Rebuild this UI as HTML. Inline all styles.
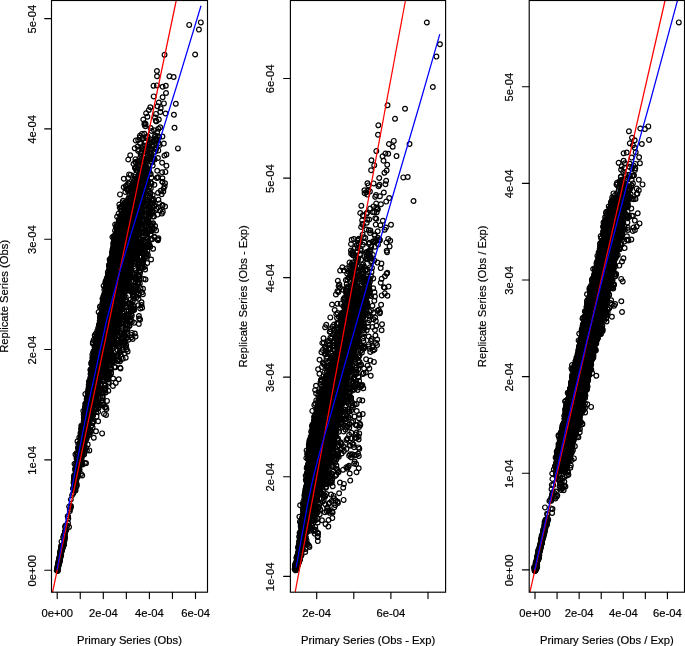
<!DOCTYPE html>
<html lang="en"><head><meta charset="utf-8"><title>Replicate vs Primary Series</title>
<style>html,body{margin:0;padding:0;background:#fff}body{width:685px;height:646px;overflow:hidden}svg{display:block}text{font-family:"Liberation Sans",Arial,Helvetica,sans-serif;font-size:11.8px;fill:#000;stroke:#000;stroke-width:0.2px}.ax{stroke:#000;stroke-width:1.15;fill:none;stroke-linecap:round}.pt{fill:none;stroke:none;marker-start:url(#c);marker-mid:url(#c);marker-end:url(#c)}.o{fill:none;stroke:#000;stroke-width:1.2}.r{stroke:#f00;stroke-width:1.25;fill:none}.b{stroke:#00f;stroke-width:1.25;fill:none}</style></head><body>
<svg width="685" height="646" viewBox="0 0 685 646">
<defs><marker id="c" markerUnits="userSpaceOnUse" markerWidth="8" markerHeight="8" refX="4" refY="4" viewBox="0 0 8 8"><circle cx="4" cy="4" r="2.38" fill="none" stroke="#000" stroke-width="1.2"/></marker>
<clipPath id="kp1"><rect x="51.5" y="0.5" width="156" height="591.7"/></clipPath>
<clipPath id="kp2"><rect x="290.4" y="0.5" width="155.2" height="591.7"/></clipPath>
<clipPath id="kp3"><rect x="529.2" y="0.5" width="155.3" height="591.7"/></clipPath>
</defs>
<rect width="685" height="646" fill="#fff"/>
<g id="p1">
<g clip-path="url(#kp1)">
<polyline class="pt" points="130.2,236.4 120,248.5 69.8,511.1 128.7,226 92.6,375 123.9,222.1 85.9,431 138.7,199.1 112.9,282 95,384.9 113.1,247.2 84.8,416.6 117.5,304.5 107.7,307.5 132.5,203.5 101.3,313.6 61.1,545.9 91.8,378.2 91.8,391.6 94.4,358.8 112.5,275.2 120.5,216.6 122.9,226.1 119.2,236.5 116.5,306.6 116.6,289.5 87,423.6 99,329.3 121.2,283.3 147.8,137.3 87.8,423.6 119.9,236 58.1,564.4 118.9,302.4 98,382 122.4,271.2 102.3,306.1 132,202.8 93.5,401.1 93.4,382.1 108.7,298.9 116.8,272.4 117.8,279.9 162.4,205 94.4,373 125.6,247.1 121,285 125.8,244.4 123.4,240.2 58.4,564.8 137.4,197.5 107.6,294.4 115.9,291.3 134.1,309.6 127.3,254.5 119.3,269.5 135.9,205.1 124.6,278.5 108.1,350.4 93.6,400.7 112.4,313.8 107.1,349.1 112.1,255.1 138.4,227 141.2,249.7 119.5,269.9 131,319.7 126.1,221.7 150.1,159.4 101.9,325.3 93.4,404.4 104,302.4 122.1,234.8 85.2,435.5 142.4,193.4 117.5,233.6 116.8,241.9 139.2,262.4 119.4,233.2 87,428.7 118.8,343.6 95,366.4 119.8,295.3 80.4,458.8 97.2,339.3 96.7,350.1 120.5,238 139.7,237.4 113.6,250.7 114.8,260.6 145.8,189.3 136.1,231.2 94,357.7 104.5,330.7 112,262.9 103.9,336.7 125.2,214.4 107.1,305.8 105.5,359.3 96.9,351.8 128.2,159.5 111.6,281.9 110.3,339.1 147.3,160.7 79.3,448.8 62.7,546 134.8,235.9 135.9,235 94.8,391.5 116.6,256.5 104.4,365.1 111.7,342.2 141,201.2 64.6,536.8 92.9,372.3 85.5,432.4 59,561.7 118.9,226.5 126.4,208.2 124.4,224.7 118.4,259.5 100.5,371.4 87.9,418.6 92.8,371.2 79.5,454.7 99.5,354.7 110.3,285.4 128.4,228.8 139.1,205.8 129.7,222.4 138.4,263.7 135.9,167.8 102.1,367 131.2,288.4 130.4,205.4 104.6,314.5 110.6,351.3 115.7,243 114.8,293.6 109.2,306.3 149,230.4 116.4,263.6 140.5,209.2 134.5,268.8 115.6,263.8 133,226.4 121.5,270.9 57.5,566 92.1,383 104.6,327.6 85.7,408.6 82.5,451.2 113.6,248.4 88.4,388.5 123.7,222.7 106.2,324 152.8,141.6 95.8,370.8 86.4,410.5 121.5,245.8 102.2,346.6 106.9,316.9 139.2,271 90.9,373.6 125,252.7 139.8,175.4 146.8,168.4 111.2,316.2 130.2,250.9 120.9,295.3 85,430.5 105.2,389.5 63.9,543.7 125.1,262 90.2,417.6 92.2,397.8 104.1,307.9 95.4,342.6 129.9,289.6 88.7,384.8 105.7,358.3 130.1,245.1 119.2,284.1 112.3,313.8 114,267.3 123.6,275.2 110,327.7 120.3,278.8 96.3,364.2 121.9,258.2 103.7,318.5 156.4,121.3 126.4,268.1 125.2,255.6 121.6,227.5 139.9,222.9 107.3,338.2 104.5,364.9 116.6,286 120.1,237.4 121.8,280.6 92.8,343.7 125.6,251.1 119.6,268.4 108.7,316.4 115.9,242.3 122.9,270.2 120.2,320.5 142.3,212 114.5,275.2 110.3,279.6 113.3,278.4 59.1,561 93.6,351.1 59.5,560.1 111.2,326.5 144.8,151.3 127.7,238.6 146.4,173.8 156.7,208.8 128.8,237.4 124.6,282.5 101.4,359.3 105.4,294.3 124.2,296.6 125.3,288.5 64.5,534.1 78.4,456.6 137.2,187.9 119.5,253 99.9,339.4 105.1,336.4 103.3,329.3 107.8,272.1 105.1,385.3 107.8,306.9 103.6,323.4 73.3,493.3 125.3,234.5 117.8,273.3 134.8,333.5 127.2,250.8 110.9,311.6 136.1,195.7 107.1,379.8 138.4,166.4 135.6,215.7 116.1,243.6 120.6,223.1 67.7,516.2 101.4,362.5 130.2,258.3 133.7,308.4 100.2,306.3 125.3,211.5 90.7,380.8 143.4,197.6 141.7,172.2 146.6,253.7 138.8,213.2 100,317.8 117,300.1 102.8,309.2 110.3,308.8 116.9,233.3 107.8,292.6 130.7,223.9 137.9,282.4 86.6,427.6 102.3,393 91.9,409.2 138.7,178.1 141.9,233.1 98.8,367.2 95.6,363 122.5,278.3 136.3,222.9 111.3,333.9 113.5,261.7 123.8,256.1 133.1,276.2 133.2,235.4 136,279.9 147.3,175.1 123.9,286.4 101.5,351.1 98.7,381 112.7,299.1 108.2,324.1 94.9,355.6 163.3,191.6 120.2,367.7 142.9,181.7 137.5,252.8 81.2,436.9 99.9,368.3 72.1,495.1 119.9,278.2 119.5,293 125.9,277.2 82.5,445.5 112.8,280.1 137.4,224.4 146.9,181.4 93.8,437.8 114.3,279.6 109.9,334.4 109.6,286.7 134.5,274.2 107.3,331.3 130.8,247.7 97.6,374.8 162.3,182 112.2,264.6 115.4,248.4 84.7,415.2 120.7,295.8 129.8,274.5 102.2,345.7 109,274.5 102,364.9 132.8,252 95.4,382.1 120.5,266.8 60.7,549.6 112.9,295 86.3,407.1 124.7,285.7 125.7,264.9 99.8,373.5 93.4,403.6 131.5,219.6 94.1,386.2 88.1,427.2 100.6,356.7 144.4,172.3 94.2,392 127.5,259 129.5,211.2 77.8,457.6 132,260.1 133.6,201.6 137.1,217.5 103.2,351.4 109,287.2 140.3,191.2 88.5,412.5 138.6,169.3 105.7,344.8 61.8,550.1 113.7,330.3 60.7,551.9 118.5,277.2 110,260.2 135.1,237 136.3,219.1 122.5,218.6 137.9,230.1 140.5,180 104.4,323.9 133.2,232.4 119.9,243.3 141.8,172.8 128,208.4 130.2,320.8 90,396.2 99.5,335.5 93.5,380 118.1,271.7 121.6,244.2 116.2,268 106.2,326.9 120.6,231 121.6,287.7 86.9,432.4 122.5,212.9 112.9,286.4 149.7,213.8 123.2,277.8 130.7,277.1 148.3,217.5 113.9,300.8 129.1,229.5 132.5,249.4 149.7,174.2 125.7,246.3 138.2,229.5 145.1,179.2 120.9,225.5 131.2,253.2 106.1,370.7 100,352.7 126.7,244.1 110.7,294.6 113.6,265.1 104.2,304.9 93.7,398.3 122.5,235 104.4,353.6 99.9,377"/>
<polyline class="pt" points="95.7,366.6 86,418 124,268.8 105.9,328.9 134.4,189.3 107.4,310.2 92.5,365.5 142.9,145.9 110.5,338.3 147.3,233.2 149.1,191.3 139.6,207.1 115.3,292.5 123.1,268.9 126.8,208.5 104.7,335.6 148.9,145 157.7,239.3 90.1,414.4 134.9,234.7 117.4,226.6 107.8,301.1 103,315 97.2,351.8 121,241.1 119.7,278.6 123.9,257.1 97.5,378.5 149.5,144.3 91.6,383.5 128.4,266.3 123.3,277.9 131.4,252.4 109.8,267.8 136.1,213.3 129.3,207.4 90.3,378 121,296.5 105.5,281.4 138,212.9 60.7,553.7 131.9,217.3 62.4,547.3 107,341.3 127.3,283.9 113.7,361.1 109.5,350.3 60.3,556.2 111.4,292.3 125.8,208.6 140.9,212.1 130.8,246.4 102.3,347.6 137.5,235.8 112,252.5 117.9,229.8 116.9,280.3 90.4,407 101.6,333.4 98,342 87.2,398.7 114.8,253.4 108.4,313.9 118.6,304.1 126.3,207.8 127.6,351.5 117.6,318.1 63.1,537.1 117.5,350.4 119.9,261.6 123.8,220.2 135.7,230.2 123.3,252.2 123.3,294.7 113,289.4 123.1,321.9 141.9,158.9 87,415.9 119.4,269.3 157.2,170.7 126.8,238.9 127.9,233 82.6,430.8 92.1,362.7 137.4,246 96.8,361.8 80.9,461.6 102.7,315 110,283.1 85.5,439.9 109.1,266.2 137,227.7 77.1,476.9 142.2,209 117.6,312.7 133.3,235.3 121.8,270.9 130.8,223.7 137.5,223.3 112.7,269 89,385.2 99,380.6 103.6,336.2 93,376.4 104,325.9 114.8,279.5 106.1,280.6 118.3,293.2 109.8,365.3 101.6,323.4 118.1,242.3 96.7,346.2 133.3,186 108.1,333.2 74.4,489 108.9,273.6 125.4,261.8 133.7,223 117.2,247.7 124.9,203.1 100.9,364 110.7,273.5 131.9,227.8 121.6,258.9 113.2,308.2 81.5,456.7 126,219.5 91.1,412.7 137.9,229.1 137,204.6 80.9,437.6 111.2,303.8 94.8,335.3 119.5,253.6 109.8,281.2 118.9,307.4 121.2,267 117.3,297.3 132.1,188.5 126.4,251 129.7,271.2 99.7,344.8 104,349.2 60.7,554.2 98.4,332.1 126.2,230.2 146.6,209.9 120.7,255.5 96.1,356 83.3,410.9 104.2,362.7 96.4,409.3 139.5,279.4 84.6,443.4 114,279.9 95.9,350.9 108.3,296.9 129.9,204.4 132.7,247.7 126.1,234 118,243 112.6,326 119.5,257.4 109.6,308.4 81.7,444.7 105.6,299.2 109.2,289.2 103.1,307.6 102.9,340.2 114.8,272 122.7,286.8 103.6,333.2 131.8,220.4 133.3,199.3 106.2,352.5 107.3,314.4 146.4,218 115.8,251.1 137.9,224.7 111.4,280.8 145.9,226.1 116.7,304.3 117.4,230.4 122.7,202.4 88.1,407.4 98.8,391.4 126.8,258.3 104.3,350.9 95.1,380.1 128.2,251.3 97.6,372.3 135.4,213 105.3,326.5 128.3,267.1 117.3,282.2 102.8,311.5 81.3,429.1 88.8,386.5 139.8,164.8 108.3,349.7 130.9,243.3 122.8,347.6 80.1,445.1 107.7,296.9 106,284.7 132.4,200.3 118.4,285.5 116.5,317.8 122.5,259.1 109.9,341.7 126.6,315.8 119.3,316.4 116.4,257.7 130.5,247 114.8,290.5 100.2,364.7 74.5,476.7 102,339 131,245.2 126.6,263.6 138.4,250.9 98.2,374.4 130.1,220.5 87.9,395.5 119.9,295.2 102.8,341.7 138.3,192.9 113.8,258.8 74.9,489.2 102,367.8 165,183.2 126.7,332.1 139.7,196.7 130.8,269.4 134,220.1 109.3,276.2 117.9,324.2 87,424.9 102.6,364.2 97,350.8 106.5,360.8 113.9,296.4 125.2,260.9 138.3,235.1 142.3,148 109.1,281.8 79.9,454.8 108.5,337.7 133.1,254.4 164.4,155.6 102.9,308.4 84.9,406.9 122.6,280.2 107.1,280.9 129.7,271.2 113.3,244.6 148.4,169.1 146.3,186.1 79.5,460.6 79.9,451.8 59.6,556.7 114.4,282.5 147.8,229.5 132.4,259.3 116.1,260.8 120,307.2 122.8,266.3 111.7,261.3 117.2,233.2 121.8,257.7 115.7,283.7 105.4,360.5 105.4,358.6 127,188.9 99.5,378.8 131.4,334.9 90.5,385.1 132.7,209.5 133.7,236.2 149.1,152.7 134.5,246 98.8,366.3 107.6,339.9 135.2,231.5 117.1,216.7 158.4,199.8 141.1,180.9 117.5,274.3 113.1,314.8 116.9,230.7 122.6,237.6 83.9,427.9 152.1,239.2 111.5,330.4 129.2,207.4 126,221.4 137.6,192 115.7,287.6 147.6,199.6 137.5,178.2 132.1,199.2 139.2,200.7 112.5,320.1 123.2,304.3 91.9,402.2 122.4,286.7 100.7,325.2 128.7,189.6 104.2,350.6 113.9,360.1 162.1,172.2 100.7,376.8 127.7,241.6 90.3,400.3 128.5,205.8 136.4,197 109.7,295.6 111.1,302.3 79.8,456.3 77.8,466.4 112.7,291.6 57.9,567.1 137.9,197.9 144.4,193.7 123.5,224.9 85,438.4 106.6,304.3 61.8,549.8 115.7,269.3 126.4,268.4 113.1,261 78,466.8 119.2,253.7 122.3,283.8 99.2,348.5 93.8,405.4 125.8,325.1 115.9,319.4 123,266 132.6,227.7 122.6,216.2 119.4,272.3 131.5,250.1 133.5,235.6 132.7,254.7 134.4,228.4 120.3,240.8 138.9,195.7 97.3,353.8 116.6,238.4 123.4,287 123.6,218.5 113.6,263.6 124.6,344.1 151.1,213.1 103.3,342.7 103.8,295.5 106.2,299.9 134.4,194.8 114.1,329.6 77.1,462.7 135.9,243 117.8,305.9 120.8,271.5 105.8,345.5 155,151.8 124.4,277.6 128.9,241.4 118.3,260.4 114.2,286.7 122.4,228.7 126.4,246.7 125.5,229.2 126.6,281 91.2,410.2 132,218.2 107.9,356.7 109.5,306.6 110.1,309.9 77.6,454.4 133.5,187.7 119.6,256.4 60.1,557.7 133.2,205.1 115.2,268 119.6,289.2 140,220 90.3,379.6 128.4,339.7 138,231.9 106.7,317.5 102.7,298.7 90.6,377.2 99.6,362 125.7,258.7 128.7,239.9 60.4,553.4 127.8,275 125.4,316.8 142.7,178.7"/>
<polyline class="pt" points="118.1,246.3 124.3,319.5 102.6,364.6 129.9,206.9 60.3,556 116.6,286.3 56.7,570.5 125.7,229.1 100.9,317.5 141.7,240.5 118,246.8 109.8,308.9 126.8,268.1 135.7,236.4 106.6,350.2 114.5,280.9 62.6,546.4 127.6,225 131.1,265.1 99.5,323.8 104.9,311.9 118.7,263.8 96.9,350 57.6,569.5 105,366 133.7,236.9 87,431 107.2,287.6 124.7,243.2 143.2,138.2 93.2,389.3 100.2,316.5 94.1,364.4 145.1,175 114.4,248 126.3,250.3 128.8,314.6 145.5,182.9 128,208.6 124.9,214.4 143.4,201.8 137.9,189.6 124.2,238.4 120.1,311.1 135.6,221.1 82.5,437 98.1,421.2 124.6,279.2 124.5,342.9 127.4,279.1 141.5,305 121.1,236.8 136.6,218.1 127.8,267.9 117.5,286.5 86.1,419.5 118,248.5 119.2,288.7 120.2,232.8 129.9,215 134.9,226.2 121.7,233.3 143.4,181 131.5,224.5 86,408.8 89.2,399 102.5,318.7 122.9,231.8 94.2,395.2 117.1,256.4 134.7,242.4 126.9,240.9 120.6,354.8 111.2,335.7 113.7,255.3 127.4,271.4 126.8,221.5 131.4,270.1 82.1,436.5 101.2,375.4 101.8,307.4 110,311.3 107.6,322.1 77.7,472 131.3,215.3 120,289.9 139.5,221.7 124.1,266.8 132,290.2 126.4,223.3 128.2,239.4 78.3,444 125.2,225.1 125.6,263.1 110.9,351 82.5,438.1 122.6,259.7 150.4,139.4 108.6,299.3 103.7,392.9 154.3,205.8 133.5,208.7 119.9,295.5 114.5,257.1 140.1,143.5 138.5,193.3 94.3,376.6 57.7,567.8 127.2,257.2 125.2,271.1 114.3,331.3 123.8,274.9 103.2,316.4 152.1,206.3 103.5,335.8 95.8,333.5 119.7,265.5 119.4,227.7 130,255.4 97.2,364.5 111.6,333 142,176.8 97.5,360.9 122.2,256.6 113.3,318.5 99.4,357.3 142.8,184.5 98.7,352.2 120.6,288.9 104.9,360.2 120.3,228.7 87.4,407.6 115.8,233.6 81.7,455.6 80.3,443.1 133.9,210 91.5,392.7 141.5,249.3 121.5,268.2 94,357.6 122.7,262.1 122.4,228.4 91.7,415.1 120.9,234.1 123.1,313.6 127.3,319.2 106.6,317.3 93.1,369.5 131.8,244.5 115.5,320.9 113,278.9 109.9,323 114.7,328.3 86.1,418.7 76.7,469.8 103.7,317.1 134,221 113,335.2 109.7,347.3 109.7,333.6 120.3,251.7 92.9,366 121.7,267.8 130.1,242.5 99.3,346.6 113.3,269.8 143.5,162.9 100,325.9 107.4,323.3 122.4,258.8 92.6,406.1 88.2,420.1 65,527 115.9,272.7 112.9,280.6 109.1,354.1 129.2,207.6 93.6,358.1 136.8,194.2 157.5,214.6 140.1,211.4 135.5,217.4 128,213.9 130.2,278.1 96.8,381.1 131.3,259.4 78,465.1 75.4,483.9 142.5,253.2 121.1,262.9 113.6,298.2 129.3,252.7 115.7,288.4 102.7,400.2 103.1,308.3 140.9,201.9 109.2,322 131.4,240.9 121.8,290.9 93,375.8 151.6,130.9 98.8,357.7 119.5,346 139.5,216.7 134.8,232 126.8,251.9 141.7,172.9 140.7,244 124.9,255.5 107.3,304.4 148.1,203 124.3,269.8 96.6,342.2 121.2,221.8 92.4,402 166.4,165.8 91.9,369.6 135.6,235.7 133.6,243.3 123,342.2 111.2,301.2 60.9,551.2 124.2,212.5 101.3,345.2 122.4,230.2 89.3,411.1 132.6,338.9 121.1,282.6 124.2,227.4 159.2,137.2 133.8,192.7 106.5,337.3 113.1,378.5 84.5,422.5 99.8,396.8 123.7,289.6 118.4,288.2 136.2,216.7 137.6,146.5 104.6,327.2 114,293.2 141.4,204.8 140.8,195.4 124.6,277.7 88.3,428.4 80.2,442 115.2,310.3 88,392.2 91.4,425.6 153.1,223.2 78.2,447.9 101.3,363.7 118.8,249.4 137.8,264.8 123.1,341.6 120.8,295.9 141,198.4 86.8,412.8 119.3,272.4 127.2,282.8 128.9,289.7 109.6,348 105.3,365.7 59.2,558.8 89.9,403.2 122.7,264.9 120.7,231.1 99.6,340.9 86.3,438 101.9,317.8 116.3,315.4 76.9,466.2 114.7,344 121,323.7 136.5,186.7 119.2,255.9 144.5,123.3 94.5,400.4 127.8,243 122.1,283.3 131.8,256 141,267.5 116,300.6 128.6,253.2 99.9,347.5 123.1,237.4 121.8,287.3 76.2,487 127.6,225.9 106,311.7 112.5,358.7 108,361.3 105.3,283.2 120,254.2 66.6,528.9 103.8,314.1 85.5,407.8 103.6,306.5 105,308.1 82,442.8 131.5,292.2 104.3,338.6 94.8,353 99.1,374.1 131.3,205.1 119,331.7 120.9,273.9 137.7,230.8 107.8,332.1 151.5,200.1 105.9,372.7 94.4,394.1 136.8,246.5 107.2,322.7 138.6,247.4 110.6,322.5 152,162.3 134.6,210.9 111.3,257 141.1,192.4 111.1,285.4 134,217.6 120.7,259.3 106.2,306.1 135.7,140.5 114.4,301.8 116.4,260.3 90.3,407.3 124.4,216.2 117.3,245 99.3,349.9 125,274.1 88.2,412 99.9,306.8 116.5,275.4 123.2,266.2 133.5,204.8 127.6,224.3 110.5,367.9 92.6,392.9 104.5,293.3 136.8,200.1 130.2,308.7 108.6,352.7 131.8,221.7 58.3,563 132.1,232.3 93,362.2 138.2,305.2 127.3,324.5 155.1,226 100,364.3 106.9,357.3 87.9,408.9 138.5,298.8 117.5,312 126.7,226.6 110,276.2 134.5,187.4 108.4,383.6 85.2,433.1 111.9,325.9 94.4,370.7 127.3,210.8 136.3,255.7 126.6,285.4 122.6,262.3 117.3,297.4 120.9,225.9 122.3,249.6 107.9,293.2 84.4,426.1 85.4,420.6 112.1,330.6 109.3,316.6 92,407.9 79.9,464.5 124.6,236.9 112.2,300.4 125.8,240.4 108.9,341.5 90.1,395.8 134.3,194 124.8,274.8 126.4,275.4 93.7,371.4 123,257.4 133,244.9 98,332.4 114,300 85,410.4 128.3,246.1 101.4,372.6 85.2,441.1 99.3,375 125.2,285.1 109.3,347.3 136.5,230.4 101.3,353.9 135.6,285.7"/>
<polyline class="pt" points="94.6,360.5 89.7,403.5 92.1,385.5 77.7,467.8 60.1,556.4 106.8,294.3 95.9,352.8 94.2,364.2 118.3,310.5 112.5,329.5 107.9,274.9 140.3,257.6 97.5,363.5 126.9,254.7 116.7,308 150.7,173.9 130.6,222.3 113.8,304.2 99.5,339.9 112.6,283.5 124.7,263.5 94.2,401.3 133.8,196.4 120,361.3 114.5,307.4 107.7,319.1 150,196.7 132.7,215 124.4,274.2 103.7,331 120.4,240.8 139.5,210.9 124.6,243.7 119.7,259.8 111.4,259.8 130.4,250 122.9,238.9 112.6,250.8 112.2,316.2 85.6,436.1 126.3,252.3 113.4,279.1 107.8,356.3 121,333.4 144.6,254 125.4,283.7 140.6,154 109.5,360.1 68,523 80.2,442.2 120.4,244.1 92,402.9 93.9,364.9 128.5,238.6 118.2,294.7 105,346.8 108.7,277.1 138.8,202.1 103.2,324.6 126.4,269.4 105,376.9 80.4,443 113.4,325.1 77.7,465.3 109.3,281.6 131.5,262.7 119.9,282.7 105.2,345.5 108.4,318.4 92.8,395.1 111.7,295.1 122.1,250 142.3,263 115.9,291.6 108.5,303.8 108.5,298.3 120,234.6 99.1,336.2 119.3,204.5 68.3,518.5 89.7,430 86.4,420.8 136.7,255.2 105.8,303.6 92.1,391.7 125.8,215.9 123.5,277.8 95.9,337.6 86.7,403.9 131.3,198.2 102.5,332.7 145.6,124 107,315.8 95.3,339.4 96.1,373.8 124.3,261.6 79.7,450.4 118.5,308.6 129.6,263.9 110.8,296.5 115,249.9 86,429.8 61.7,547.3 77.3,470.4 124.4,234.9 141.9,202.7 94.5,389.6 104.9,317.6 99.9,360.6 125.4,218.9 121.1,307.7 121.8,265.2 110.7,292.4 146.1,237.2 122.2,247.9 155.3,139.6 120.2,342 126.4,291.1 145,174.5 82.9,440.2 104.5,302.9 111.2,306.1 115.9,314.1 137.2,219.1 98,412.1 81.4,440.9 111.4,326.9 90.1,409.4 108.9,355.1 129.5,225.3 102.5,333.1 83.3,432.9 112.3,339.9 77.7,458.2 100.8,354.3 98.6,407.8 102,374.2 122.5,260 102.6,359.4 91.7,363.1 114.5,328 126.3,275.4 123.2,256.1 86.3,438.3 129.1,174.4 148.7,245.6 110.6,269.5 131.2,237.2 130.5,244.4 118.8,260.4 104.1,350.3 107.9,275.7 130.1,270.4 129.7,234.6 100.3,335.5 98,386.9 114.6,313.8 123.8,239.1 97.9,360.1 120.4,281.4 99,333 141.9,207.3 112.9,250.4 104.3,325.9 141.6,199.1 144.3,181.6 133.9,217.7 136.5,292.4 126.3,241.4 141.5,202.4 140.7,174.1 129.5,228.9 105.2,331.4 122.6,287 105,340.1 129,226.4 136.4,218.3 121.7,269 102,322.2 104.8,305.3 110.2,269.8 80,461.3 126.2,271.6 121,287.1 58.5,564.1 101.7,368.2 123.3,251.7 108.3,345.2 116.3,277.4 117.2,345.4 104.7,331.6 93,391 128,206.1 116.9,275.6 115.1,239.8 147.3,245.1 132.2,277 120.5,245.5 103.1,368.3 115.5,246.2 98.7,348.1 92.9,381.7 110.6,310.3 124.4,255.2 123,288.3 133.2,252.8 85.7,432.9 120.8,294.9 120.1,229 93.8,373.9 120.1,300.9 140.8,198.4 116.7,237.3 97.4,383 109.5,274.6 107.1,279.8 103.8,363 118.6,213.5 111.5,319.5 108.5,294.7 135,183.1 119.5,233.6 99.1,376.2 96.5,416.6 139.8,137.8 107.4,334.6 102.6,298.7 115.4,256.7 115,252.5 128.3,207.8 125,245 86.2,405.3 97.5,356.5 130.9,204.4 134.2,242.8 111.4,266.6 106.7,344.5 121.5,284.6 87.5,404.5 92.6,368.8 137.3,207.2 132.2,233.8 107.6,304.9 91.4,375.3 104.7,362.7 96.4,393.5 113.7,254.8 135.8,215.7 90.4,415.6 129.7,253.2 143.8,163.2 122.6,217 113.9,344.5 109.8,307 122.7,228.2 99.3,341.5 97.1,379.3 123.4,323.6 114.1,316 119.1,292.2 131.4,250.1 136.8,190.9 139.5,163.7 103.3,404.6 107.3,294.2 90.3,390.4 120.5,250 84.5,435.2 141.7,229.1 128.8,253.4 156,149.7 117.4,299.1 119.4,275.4 118.3,272.9 82.8,429 120.7,263.4 148.4,212.3 123.3,265.6 141.5,214.5 100.2,322.9 93.8,377.7 123.6,211 82.2,438.7 88.7,410.8 116.1,227 131.4,264.5 105.9,337.3 143.7,159 96.6,345.5 65.9,530.4 117.7,285.8 128.2,206.7 130.6,240.2 83.5,448.5 123.9,302.7 117.5,258.8 92.4,423.2 93.2,363.4 99.8,361.1 117.8,283.6 102.8,327.1 96.1,357.6 106.7,309.1 136,238.2 136.5,245.1 128.6,198.2 76.3,480.2 121.1,276.5 124.8,238.7 111.3,321 83.7,414.6 119.6,255.8 104.4,325.6 89.7,416 141.5,201.6 109.8,294.9 65.2,531 122.6,231.7 119.9,280.1 126.3,225 100.3,358.4 85.6,431.4 98.6,344.2 113,248.8 84.1,435.4 108.2,292.3 115.3,304.8 125.6,213.4 108.6,345.7 95.1,372.5 104.9,347 135.8,182.8 108.6,310.5 129,183.4 126.7,228.7 126.9,208.3 105.4,323.5 104,361.6 130.3,214.3 134.9,167.9 96.4,346.8 111.4,300.3 84.3,415.6 103.4,327.1 97,338.3 129.4,253.2 135.5,289.9 113.6,269.1 78.6,456.3 119.5,238.2 93.3,395.3 100.3,346 92.8,365.5 100,342.7 126.7,277.7 153.4,141.7 97.9,352.3 121.3,218.7 81.8,444.2 107.6,347.8 138.2,188.3 101.1,358.4 105,324.3 78.9,463.8 126.3,231.4 118.4,278.8 118.7,236.4 126.2,224.2 90.3,387.5 150.5,128 123.5,212.1 141.6,209.3 114.4,325.2 129.3,228.6 116.7,234.6 79.4,461.4 133.9,209.9 126.4,261.6 114.6,289.5 108.8,281 93.5,386.8 127.3,245.3 111.2,332.9 137.8,161.1 118.5,233.9 125.7,301.8 134.3,242.6 111.6,332.7 113.3,242.7 124.2,253.7 58.3,565.5 128.2,230.4 125.7,284.2 101.9,361.4 105.3,354.7 140.9,253 117.3,256.7 102.9,327.5 93.6,401.4 89.3,416.3"/>
<polyline class="pt" points="117.6,265.9 120.5,279.5 137.5,232.4 95.7,362.2 114.7,271 74,477.3 136.4,287.8 117.4,355.1 130.9,241 110.2,264 101.2,374.5 75.2,479.9 124.8,286.3 118.4,260.1 128.6,229.7 109.8,325.4 102.8,370.2 140.5,205.8 120.5,290.3 150.7,224.7 95.9,351.7 135.9,234.8 86.2,420 136.1,230 117.2,248.3 101.7,315.5 80.6,458.6 122.1,247.5 124.6,231.9 155.2,138.7 108,291.8 115.8,233.1 109.3,353.9 124.4,248.4 79.5,457.1 96.7,371 93.2,360 89.5,417.7 111.6,281.6 93.5,393.8 140.2,190.9 128.2,236.8 136.6,205.1 131.7,234.3 134.5,192.9 132.6,203.1 90.6,408.2 136.7,231.2 138.7,149.5 117.8,258.2 111.1,327.5 123.1,263.6 123.6,222.5 90.3,389 111.4,262.7 118.7,309 112.2,263.2 110.9,268.4 107.7,331.7 93.6,402.6 131.5,237.4 117.7,271 134.3,248.2 116.5,288.5 104.6,325.6 92.6,367.9 121,262.1 107.5,318.8 97.6,334.7 111.1,373.2 109.4,343.3 118.7,379.2 138.3,187.5 116,315.3 89.5,388.7 122.5,263 125.3,276.5 107.5,296.5 135.1,203 104.4,340.8 111.1,276.1 154.4,237.4 122.7,260.8 108.2,378 119.3,239.6 122.1,266.7 113.2,260 112.1,290.9 137,257.4 128.6,233.3 132.4,225.9 96.4,355.5 87.1,431.7 133.8,237.6 141.2,202.8 141,196.6 117.7,329.9 139.8,197.4 61,554.6 128.7,219.3 137.4,206.5 94.9,366.8 118.9,313.4 83.8,423.8 128,258 107.3,287.3 96.7,408.5 114.9,284.1 149.8,228.8 106.3,320.5 129.2,234.5 124.1,286.8 94.1,398.7 110.7,275.9 129.3,245.8 100.4,353.2 82.9,443.8 131.8,259.1 142.8,197.2 108.7,321.1 138.3,221.5 84.4,424.8 117.1,308.8 108.2,356.2 96.9,367.2 87.1,427.1 106,310 117.9,233.7 95.1,375.5 146.6,183.3 87.7,416.2 132.8,301.1 104.9,385.8 150.6,161.6 133.4,294.1 97.1,405.5 117.6,297.5 134.8,185.5 91.1,379.9 122,232.4 97.2,380.2 116.7,260.4 121.1,241.3 96.8,337.6 95.6,370.9 133.1,217 107.1,287.9 138.2,294.9 87,421.1 129.3,254.7 130.7,249.3 76.4,483.3 144.4,241.3 147.3,229.7 117.7,282.5 122.7,264.7 138.1,214.1 136.3,220.2 105.9,406.9 81.7,450.2 124.8,286.4 92,380.4 106.4,281.7 109.8,325.4 126.9,238.4 129.2,233.5 75,468.8 108.8,298.2 128,238 135.4,278.8 98.6,354.2 81.3,446.6 91.1,384.9 124.9,228.3 128.7,219.7 132.2,210.5 147.3,149.6 98.5,334.1 122.5,276.1 121.8,244.9 115.8,249.5 117,314.3 107.3,337 124.3,275.9 113.3,297.5 112.4,331.3 107.8,289.1 135.2,240.4 58.4,563.5 115.5,303.6 110.6,259.6 139.1,214.8 110.1,307.7 122.2,297.7 92.8,385.9 105.3,344.2 99.4,348.5 60.3,554 85.6,413.4 145.4,142.4 147.1,172 100,405.2 134.3,212.2 139.8,135.8 113.4,321.6 103.9,322.4 141.4,152.2 95.4,384.2 115.1,239.8 133.2,291.8 78,471.6 106.4,293.1 87.5,396.9 133.3,245.7 124.4,280.5 103.2,354.6 136.7,204.1 70.8,506.4 109.1,265.2 119.8,248.3 142.7,236.8 97.4,345.9 135.9,211.7 111.6,334.7 115.6,318.4 101.4,389.6 93.4,401.8 109.6,259.3 107.7,325.7 114.1,242.9 95.5,390.9 115.3,290.1 127.4,262.4 113.2,274.9 122.8,275.6 105.6,328.4 123.4,265.6 127.4,212.1 107.9,359.8 115.6,241.3 122.6,249.1 134.3,224 74.5,463.8 114,236 90,382.8 99,373.7 131.9,216.7 121,258 125.9,222.6 81.3,441.1 152.8,216.6 108.7,321.3 133.5,163.9 126.3,207.5 127.8,190.8 123.4,241.9 126.3,215.6 116.3,300.7 97.1,356.8 142.7,196.6 83.9,453.8 84.6,413.5 118.4,267.4 86.3,404.1 100.9,331.2 117.2,272.3 78.3,472.4 83.3,434.9 93.5,401.9 101.8,345.3 147.4,221.4 107.6,289.9 111.1,334.6 81,432.2 110.3,270 107.1,314 135.7,162.4 111.4,274.1 95.7,352.9 118.8,273.6 150.9,215 134.8,184.2 137.4,191.4 105.9,340.5 83.4,440.8 143.4,201.3 130.9,264.4 123.3,289.3 128.5,228 94.8,367 125,286.2 136.1,205.9 94.1,379.1 78.3,448.6 124.1,284.1 121.2,241.9 95.2,346.2 96.2,412 117.6,280.7 113.3,321.2 145.8,246.3 108.7,312.9 103.4,321.1 57.9,565.2 125,245.7 142.4,197.6 115.4,297.3 112.3,335.5 109.8,348.2 107.1,379.1 82.9,444.8 112.9,303.1 109.5,270.1 108.5,289 58.1,565 133.9,233 134.7,215.8 93.9,354.4 95.4,390.9 127.1,244.7 128.6,236.6 125.4,252.1 94.1,361.7 121,224 84.9,410.5 102,368.8 114.1,298.6 110.3,282.9 141.8,194.6 87.1,401.1 154.2,236.7 109.5,341 137.5,233.6 76.7,453.1 139.4,175.8 125.7,357.8 110.4,296 122,292.8 123.3,280.4 110.1,302.7 104.5,296.1 114.6,247.2 117.3,288.7 123.5,224.5 124.8,271.4 86.7,399.5 57.2,570 104.1,315.2 109.9,318 144.3,161.9 82.9,444.5 81.3,458.4 127.4,251.6 149.2,142.8 115.1,320 102,369.9 138.4,224.4 101.6,326.7 124.7,221 91.5,371.9 96.7,351.8 116.8,318.1 94.7,401.6 100.5,364.4 134.5,222.2 107.4,317.1 105.2,302.6 128.5,208.2 118.3,251.1 100.2,363.6 98.1,391.1 119,260.6 99.5,343.3 133.6,199.9 84.3,429.7 142.8,209.2 115.1,224.6 112.6,332.4 138,233.8 126.5,226.8 59.8,559.8 104.6,338 107,309.2 140.1,180.2 131.7,195.5 138.8,293.4 155.2,135.4 119.2,254.4 135.5,174.8 105.7,359.4 128.1,212 105.2,295 152.3,146.8 83,431.9 81,459.5 134.5,232 115,230.6 102.1,358 95.7,385.9 108.4,303.7"/>
<polyline class="pt" points="121.2,293.8 136.1,204.7 119.2,226.7 103.6,285.8 106.1,335.7 116.7,243.1 131.8,291 96.2,342.8 134.3,288.2 94.6,386 138.7,177.9 109.1,339 81.6,443.4 123.4,247.3 120.1,292 126.4,284.4 129.7,261.5 94.2,365.2 148.7,221.8 113,345.9 104,339.8 92.1,400.1 80.3,464.7 110.1,346.4 149.1,216.8 106.7,332.3 131.4,255.2 127.9,218.7 137,209.9 121.9,257.2 115.9,270.3 118,304.8 127.9,229.7 115,294 121.2,278.1 125.5,240.2 147.9,254.9 114.3,289.2 135,206.5 103.7,319.1 107.8,315.7 115.6,297.6 165.4,171.9 120.2,292.7 78.5,462.5 104.1,350.2 111,335.2 118.1,292.1 142,214.6 94.8,349.9 99.8,332.8 99,352.3 104,374.1 126.8,279.9 105.6,333.1 110.8,329.7 122.5,312.2 98.4,355 122.9,218.9 59.7,557.2 127.8,268 148.6,156.6 101.8,357.5 121.1,220.7 137.1,212.6 81.3,425.7 95.5,396.1 91.5,418.6 133.5,209.1 125.9,225.5 127.6,273.5 120.5,305 116.6,321.3 102.4,319 147.1,176.4 88.9,418.4 109.4,343.2 91.2,363.9 148.7,223.2 122,268.2 118.8,266.5 121.5,297.3 107.8,335.8 108.5,338 81.3,459.8 158,192.8 113.1,298.3 85.3,422.8 110.4,275.2 113.2,256.6 122.4,242.1 96.7,377.3 139,185.4 137.2,216.6 106.1,358.6 101.3,360.8 139.2,276.6 94.3,355.2 141.6,198 106.1,335.1 107.2,280.9 104.6,307.8 114.6,246 99.3,363.9 99.4,340.6 124.9,276.2 135.4,196.2 143.2,191.6 92.8,342.3 121.8,301.4 109.4,317.9 112.2,327.8 61.8,548.5 106.3,362.6 130.2,210.1 107.4,284 93.8,371.8 109.4,345.6 110.6,268.2 112.3,274.2 119.6,241.6 104.7,340.5 114.2,288.9 89.9,381.5 106.8,302.6 95.8,404.7 93.2,404.6 110.3,274.7 106.3,370.4 138.4,227.4 123.7,226.8 127.5,273.6 96.4,359 142.2,261 115.7,259.8 119.1,318 76.3,471.7 122.3,268.9 122.8,249.7 114.8,278.2 133,215.1 110.5,325.4 132.2,257.5 101.8,321 141.1,242.1 120.1,250.5 121.7,275.1 121.4,305.9 108.8,355 104.8,315.1 92.9,387.1 88.7,394.9 118.2,313.4 115.5,321.3 134.4,243.6 124.4,256.6 142.1,190 127.8,274.1 118.5,301.4 100,367.2 131.9,206 153,203.5 131.4,257.2 92.3,407.1 155.8,147.5 123.9,276.8 82.5,444.2 121.2,227.1 93.6,381.8 94.4,357.1 104.3,289.8 126.8,240 138.2,140.1 124.1,333.6 152.9,200.9 107,356.9 120.4,254 129.7,216.2 126.3,221.7 134.2,213.2 79.2,456.1 59.1,561.4 99.7,340.3 136.8,186.4 108.6,301.3 128,282.1 126,281.2 89.4,418.2 137.4,170.7 123.2,285.2 119.7,293.1 138.5,176.5 130.2,224.8 103,362.7 145.9,155.8 109.1,356.1 110.9,327.4 119.8,313.4 140.2,157.4 120.5,224.9 117.4,316.4 97.7,356.3 82.5,436 105.6,334 134,244.3 123.8,246.2 158,177.2 111.4,310.7 83.1,431.8 97.4,351.9 121.4,230.1 87.5,427.9 117.5,248.6 140.3,214.1 113.3,248.3 109.4,316.3 117.1,236.4 93.6,399.4 82,455.5 117.5,283.3 115.9,282.9 108.3,390.7 140.5,198.1 125.1,268.9 93,390.2 107.7,309.4 112.4,322.6 125.3,267.1 105.8,371.6 93.9,396.7 120.8,287.5 135.2,223.7 125.1,208.8 121.3,264.5 85.2,417.5 114.6,323.9 78.2,474.3 96,382.4 106,322 132.8,212.6 101,329 104.6,353.4 120.5,255.2 94.3,392.3 111,319.7 84.1,415.3 107,326.7 111.3,279 105.5,341.2 87.8,404.2 95.2,353.8 127.5,275.1 112.9,263.9 100.3,367.8 138.5,164.9 133.8,293.9 93.6,367.7 126,281.2 122.7,358.8 94.9,375.2 125.7,235.9 143,183.2 114.7,326.2 110.2,297 109.8,328.5 135.9,207 121.1,291.2 61.4,549.3 85.1,410.2 117.2,298.7 152.7,195 138.2,207.9 103.4,326.5 101.8,364.9 97.8,404.3 122.4,230.7 118.2,285.6 124.3,270.2 122.7,268.6 117.3,232.7 132.1,237.1 137.7,283.8 132.1,248.8 110.4,302 120.4,283.5 126.2,345.3 93,397.3 121.3,338.6 104,312.1 143,288.8 82.8,452.7 129.3,222.6 110.1,266.6 86.8,398.2 141.8,199.1 118.8,272.1 79.7,460.9 103.4,321.8 122.1,227.2 126.4,213.1 133.9,196.5 89.8,387.5 113.6,356 107.8,375.2 111.2,334.4 103.4,323 148.7,171.4 82.4,452.4 125.1,281.8 115.5,239.9 131.2,227.6 86.8,435.5 62.5,548.6 100,376.9 124.6,213.8 126.8,262.4 105.3,337 75.2,476.2 125.9,263 60.2,558.5 146.4,209.3 112.8,265.4 130.5,237.8 118.8,287.8 113.1,329.7 61.1,551.9 105.2,305.5 141,243.3 92.9,393.8 128.7,270 74.1,479.4 117.7,237 101.7,330.2 122.1,296.1 114.4,259.8 138.1,150.8 86.4,424.3 137.6,188.7 117.5,299.5 101.2,370.5 95.3,379 133.2,221.3 102,352.3 120.9,299.5 131.1,264.3 129,286.8 134.3,208.1 77.7,465.4 120.8,293.4 115.4,282.1 84.3,413.3 107.5,304.5 142.8,193.5 120,258.9 158.4,128.7 115.9,264.3 105.4,345.4 108.3,347.6 122.9,257.1 84.6,422.4 90.9,388.3 128.5,266.5 125,276.2 136.8,192.5 129.6,280.4 109.1,294.7 123.7,244.6 81.2,434.1 95.2,376.2 87.7,430.2 118.5,251 127.5,254 99.5,360.9 87.7,444.4 134.8,239 77.2,461.7 116.5,290.8 61,549.2 130.1,270.6 87.2,411.8 81.7,449.7 114.6,237.7 101.1,359.7 134.9,235.1 76.1,474.5 118.7,284.8 94.6,387.5 114.9,311.1 135.6,229.2 127.6,224 103.2,310.6 112.3,272.5 130.5,225.7 104.5,301.2 147.4,170.5 106.3,344.6 118.6,240.6 115.9,291.7 118.1,283.6 89.9,413.9"/>
<polyline class="pt" points="145.8,182.4 131.9,321.6 128,276.4 154.4,184.7 97.1,352.9 125.2,248 110.4,304.9 83.3,434.7 115.4,310.9 100.4,333.8 120.5,255.4 84.7,449.8 110.1,308.3 136.2,212.3 97.4,386.4 88.4,414.7 103.6,308.2 139.2,210.7 104.9,323.2 81.5,437.7 129.9,265.9 101.6,336.1 111.2,276.8 108.1,305.3 123.4,237.8 110.6,279.3 76.7,476 102.1,356.7 100,328.6 102.3,334.1 94.3,370.1 130.6,210.1 111.8,339.6 115,288.6 105.4,358 126.3,226.4 100.9,365.2 104.8,363.2 132.6,309.1 99.3,328.2 113.9,239.6 86.5,429.3 111.3,297.2 81.7,455.7 81.3,452.1 131.4,280.9 94.8,335.3 134.2,250.7 99.9,326.1 124.5,243.3 145.1,166.3 120.5,275.6 76.9,468.5 135.3,206.9 118.9,305.3 120.7,285.3 135.3,242.8 107.3,318.1 129.3,229.2 130.8,225.9 107.8,373.7 117.1,238.1 117.7,360.6 108.5,307.8 113.6,312.2 123.7,203.8 110.5,318.5 109.6,374.9 116.5,245.2 107.8,290.5 113.4,310 140.1,319.4 108.1,293.8 99.2,330.7 114,244 95.9,366 141.9,133.9 108.6,303.4 90.6,408.3 120.5,317.6 124,267.3 124.7,278.7 141.1,195.7 101.6,366.8 119.3,287 129.7,320.3 80.4,464.3 113.9,291.6 136.3,235.8 138.3,283.1 89.9,417.2 93.1,383.5 104.3,299.1 110.9,312.5 86.1,423.5 86.7,404.9 118.8,231.4 80.8,436.3 121.3,322.8 98.5,385.1 111.6,305.3 73.6,482.6 93.1,369 124.8,288.7 109.5,336.2 117,277.7 96.6,385.4 84,430.2 131.1,228.6 86.2,403.9 84.5,429.3 98.5,337.3 148.8,170.1 146,160.3 114.3,366.9 128.1,220.9 140.9,203.4 114.4,290.1 129.1,267.1 136.3,180.4 117.9,289.6 107.7,360.5 120.9,251.2 123.3,216.4 128.3,211.5 106.1,347.4 100.7,375.5 105.3,297.1 118.8,315 99.5,380.6 119.9,223.2 113.8,304 120.3,251 101.1,324.6 85.3,409.4 124.1,239 94.6,388.1 115.1,268.1 114.5,248.9 120.7,253.6 99.8,333.9 138,214.7 110.6,261.3 133.3,223.5 97.6,362.9 147.8,237.8 143.6,198.4 131.1,204.2 142.9,199.6 119.1,254.8 83.5,445.9 129.2,229.8 86.5,439 104.7,293.5 136.2,213.9 110.4,337 144.3,177.6 88.1,424.5 127.6,199.9 133.9,306.2 120.1,234.4 122.8,257.4 92.7,422.4 127.7,262.9 130.9,249.1 140.5,288.2 111.8,317.9 107.1,311.7 87.6,396.8 102.4,360.2 60.8,550.4 94.8,388.5 117.6,282 117,291.1 131.2,227.9 117.1,247.2 96.9,352.5 104.3,332.5 115.2,266.2 85.4,414.9 100.7,361.9 102.9,355.5 107.4,336.5 124.6,335.3 145.5,279.4 87.8,419.2 117.8,279.3 140.4,215.3 121.6,286.4 128.2,177.9 104.3,328.5 153.8,200.3 140.4,200.8 121.7,302.2 110.7,277.3 107.6,335.3 88.2,409.6 118.8,234 126.8,276.8 120.8,276.6 98.4,348.5 129.9,289.2 111.3,353.5 125.8,253.9 106.5,306.7 115.3,299.3 83.4,450.8 101.9,365.7 109.7,269.2 131,304.6 87.6,422.1 114.6,241.9 115.6,292.9 127.6,254 113.9,312.2 145.9,206 107,306.8 123.6,336.3 132.5,246.7 130.9,246.9 76.6,457.3 117.3,227 82.2,428.2 92.5,359.8 111,328.5 124.9,305.9 122.9,239.6 84.4,423 110.6,267 130.6,240.9 133.2,255.2 122.9,200.8 112.6,323.6 109.1,307.6 134.2,246.1 131.8,259.7 137,256.6 130.8,201.8 89.1,413.1 114.6,247.7 129.9,217.2 123,243.9 134.6,179 134,234.2 130.7,174.9 101.8,315.2 114,319.6 98.2,376 111.5,306.4 108.4,334.5 124.4,245.6 144.2,225.1 131.5,216 122.2,283.9 127.7,235.6 96.2,337.3 134.3,219.9 111.3,319 77,467.2 130.6,259.2 104.4,296.3 119.4,236 119.1,260.4 96.6,382.6 114.7,299.2 134.8,224.6 138.5,231.4 127.7,270.3 98.9,329.7 121.7,276.6 131.4,255.7 133.1,222.8 95.7,362.1 93.3,352 104.1,315.9 97.1,361.6 104.2,321.6 98.3,338.2 153.1,248.8 126.9,280.4 86.8,431.2 117.7,307.3 135.1,210.6 137.7,289.4 109.2,305.3 101,375.4 140,183.4 140.9,173.3 133.3,241 114.6,280.8 109.5,284.1 91,379.6 133,213.3 128.1,226.8 142,263.2 103.3,302 110.4,288.1 107.5,359.3 109.4,344.4 134.7,241.1 131.1,236.6 115.6,312.5 93.1,396.3 116.1,228 86.6,437.3 104.1,343.8 145.3,233.3 58.4,565.7 84.8,425.4 119.8,229.9 115.6,331.2 139.1,184.9 97.8,349.2 91.3,389.2 112.9,385.9 118.4,305.9 118.9,261.1 120.2,303.9 132.4,251.2 117.9,290.7 122.2,289.5 63.9,535.3 119,247.8 108.9,315.9 134.1,322.7 107.5,294.2 111,320.2 118.7,291.4 127.1,243.9 100,378.4 102.8,313.3 122.8,235.3 59.5,558.5 115,308 88.4,406.6 132.2,187.7 127,214.7 95.2,379.8 93.5,374.7 138.6,206.8 87.5,430 111.5,324.4 78.7,466.7 146.4,167.5 122.5,283.5 123.6,242 136,204.3 122.5,261.5 105.6,340.3 158.3,150.4 88.6,423.7 119.3,309.8 69,527 128.1,281.4 81.1,435.7 139.3,242.4 123,213.3 75.4,470.8 103.6,345.8 81.2,441.9 92.4,409.1 105.4,311.9 117.8,258.4 111.2,316.5 118.4,230.5 130.1,218.6 113.1,302.7 115.2,326.8 119.1,274.5 87.6,434 127.2,214.9 116.7,273.8 123.5,261.2 103.1,381.3 91,400.6 113.1,306 122.5,215.4 126.9,272 150.1,141.2 126.5,236.7 114.2,246.7 135.1,184.9 111.1,276.3 92.9,363.1 110.6,300.3 96.2,393.9 106.7,313.8 138.4,197.9 109.2,320.7 120.9,215.5 99.2,371.1 137.5,277.9 121.1,241.5 123.9,257.6 123,213.1 76.7,466.6 129.3,262.8 90.3,415.9 60,559.4 104.4,308.7"/>
<polyline class="pt" points="150.3,153.3 92.1,382.9 96.8,359.3 113.4,296 136.3,258.4 126,261.1 143.1,267.7 125.6,278.2 127,228 123.3,293.5 120.3,279.9 129.6,202.1 94.1,367.9 74.4,478.1 165.1,206.5 114.5,262.2 98.5,347.8 79.6,449.1 113.7,356.8 82.5,426.7 99.4,336.8 95.1,374.1 129.6,265.8 113.6,304.2 120.9,287.1 73.4,488.7 87.8,408.4 124.6,204.6 133.2,250.3 133,201.4 112.9,276.7 103.7,348.7 107.1,309.5 87.7,399.7 104.3,329.7 134.7,205.5 125.7,330.3 93.9,356.1 130.4,219.9 112.1,320.4 142,292.3 111.7,334.8 133.2,252.5 90.1,414.1 104.4,339.5 100.7,337.5 122.3,294.4 120.4,261.7 93.4,357.2 89.7,393 60.9,554.8 123.6,244.6 111.9,333.4 105.5,367.3 128.4,220.4 117.7,271.1 148.1,222.1 77.1,473.6 103.1,343 101.3,358.7 64.4,539.8 118.9,340.1 123.5,232.3 141.3,174.6 60,552.8 138.9,263.8 108,288.8 138.5,245.4 113,302.8 98.2,327.8 148.5,184.3 109.6,268.8 90.9,432.1 75.9,463.6 121,249.3 121.1,265.8 109.3,289.7 122.5,287.4 111.9,289.9 134.3,213.6 140.1,272.5 93.5,391.4 128.3,303.6 100.4,322.9 127.5,288.5 131.8,332.9 93.7,402.3 103.8,335.2 114,260.4 108.8,297.9 109.6,320.6 95.3,366.6 74.3,475 60.3,557.6 90.5,373.9 121.6,238.7 130.4,213.4 86.5,406.5 142.7,192.7 140.1,189.8 127.3,256.2 97.2,349.5 125.9,277.2 113.7,295.9 122.6,253.2 121.5,280.4 149.4,146.6 162.5,205.6 130.1,233 112.5,270.1 144.7,266.7 82.8,448.2 127.9,253.4 131,196 134,310.1 96.6,364.8 84.5,426.3 160,210.6 129.9,237.2 110.5,329.4 132.2,249.9 99.3,334.3 119.8,283.3 125.2,244.9 108.9,350 112.9,278.4 132.8,240.6 62.4,546.7 102.8,354.1 95.9,353 113.6,236.7 85.5,439.5 87.1,425.6 111.5,325.8 103.8,346.8 121.4,240.9 142.4,260.7 91.8,385.7 129.1,272.5 150.4,210.5 125.4,218.5 115.7,309.8 122.4,278.6 122.5,243 83.9,426.8 149.2,187 126.8,236.3 126.1,265.4 91.4,388.2 132,189.5 83.1,442.5 97.7,372.3 102.3,338.1 92.5,374.4 104.9,307.2 61.8,547.9 127.1,219.6 108.8,368.1 130.6,286.6 162.4,178.3 138.6,226.6 83,433.5 99.6,369.7 150.3,246.8 114.2,319.1 92,362.4 120.1,276.6 143.3,194.9 90.7,414.9 104.9,407.5 114.5,253.4 97.4,374.6 140.5,208.1 136.6,210.4 105.6,344.8 122.5,253.4 140.3,202.1 137.6,182.7 99,349 109.6,319.9 147.3,247.2 126.9,254.2 137.6,221.5 124.2,268.5 95,394.1 128.5,247.4 78.8,462.1 147.1,220.3 135,177 97.1,391.8 129.4,245.8 104.9,371.1 127.4,185 134.5,203.7 144.4,189.1 143,187 117.3,355.4 116.2,315.6 74.1,485.7 93.6,394.3 132.7,206.1 84.1,424.5 82.2,475.5 120,237.5 97.2,384.5 119.6,226.8 139.8,216.7 140.7,250 141.7,231.7 110.9,333.6 138,188.4 164.6,186.2 128.2,204 111.2,297 105.8,338.9 113.5,297.7 96.7,374.3 124,284.7 129.7,205.6 95.5,361.3 82.1,427.3 130,264.5 120.4,220.1 96.4,348.2 111,372.9 141.5,188.5 111.6,282.9 112.3,303.2 125.1,215.8 109.2,335.1 107.5,311.6 105.3,330.4 125.6,212.8 83.9,415 85.2,424.3 92.6,392 134,240.5 98.9,338.7 138.9,250.3 102.1,309.7 142.4,197.2 116.3,284.6 133.1,305.9 127.2,258.1 64.6,534.2 125.8,259.2 126.6,242.9 107.9,358.5 108.4,334.9 127.7,223.5 105.8,305.7 131.6,222.8 60.8,555.6 112.5,316.1 112.7,277.1 127.6,273.8 101.1,319.8 92.7,363.6 134,248.2 110,307.3 139.9,199.5 104.8,388.3 95.8,365.3 121.4,279.8 114.6,342.8 109.3,287.9 120.4,269.4 85,414.1 96,431.3 116,258.4 103,343 98.1,398.9 112.7,362.2 99.4,358.7 121.8,219.8 90.2,406.9 131.9,194.5 133.9,210.8 111.8,299.5 120.4,298.4 119.3,242.7 98.7,356.2 112,294 104.8,310.9 109.1,265.3 128,219.9 113.5,306.8 118.9,220.5 128.8,227.2 113.9,246.5 93.7,339.8 126.9,281.6 117.7,303.5 139.1,216.5 99.8,358.9 87,400.6 64.9,533.7 133,245.4 136.5,230.9 123.3,272.6 89,391.9 111.3,339.2 114.9,325.1 81.1,445.9 110,273.1 154.7,159.6 137.2,250.7 123.4,251.9 131.2,260 135.4,159.3 118.1,255.1 113.2,325.5 135,258.8 127.7,206.3 150.5,231 121.6,300.5 101.6,321.9 104.6,327.5 147.1,178.5 135.7,282.6 136.8,297 106.8,291.4 95.7,346.3 91.2,412.8 106.4,285.8 125.9,228.8 122.3,220.8 60.4,552.5 114,279.2 94.5,369.7 125.8,212.7 142.4,264.4 137.5,226.9 136,198.7 121.2,272.7 108.5,314.7 111.4,287.3 108.3,346.8 114.7,290.4 106.4,378.4 125,225.8 142.1,246.9 131.5,193.7 82.2,454.1 128.8,303 109.9,337.7 70.8,499.5 95.5,397.9 98.9,338.7 77.9,467.1 144.3,133.7 74.9,479.3 91.4,368.7 119.4,257.8 104.4,320 78.5,457.8 109.2,285.9 91.2,415.7 115.7,382.9 116.6,326.3 112.8,331.6 145.2,229.9 132.6,262.2 139,173.5 153.6,140.6 120.6,267.6 85.3,420 116.7,265.8 139.3,183.6 128.6,215.5 109.8,298.8 94.7,357.2 103,342.3 120.3,332.5 79.4,464.3 59.1,562.4 116.2,301.7 162.4,136.5 137.4,253.4 125.3,214.4 93.1,357.4 121.4,242.2 132.5,246.8 140.4,251.4 117.1,340.3 118,309.4 99.9,328.4 89.4,400.4 113.2,360.4 125.9,318.4 125.1,238.1 114.6,287.3 114.3,263.3 93.5,421.3 88.6,422.5 103.7,368.6 115.1,320.3 115.3,300.4 90.2,392.3 114.5,330"/>
<polyline class="pt" points="125.6,236.1 118.9,296.3 103.2,326.6 133.9,232.6 127.7,261 106,322.4 129.4,195.2 90.9,393.5 133.7,241.6 134.2,229.3 136,197 116.2,323.8 121.8,219 87.7,393.6 87.6,412.4 131.4,221.9 87.6,429.7 112.1,305.8 100.9,317.2 127.5,205.5 134.7,235.5 128.2,200.9 80.7,435 120.6,290 136.7,200.7 152.7,207.9 85,439.8 119.7,310.6 113.5,248.9 125.4,341 95.5,361.4 98.3,354 95.1,391.8 116.4,293.4 97.2,336.3 93.1,360.4 137.8,204.7 108.4,345.3 102.7,310.8 89,390.2 84,454.4 85.6,424.1 102.9,367.3 96.7,350.9 109.3,344.5 65.1,537.6 130.1,269.9 110.1,270.7 147.8,170.4 107.8,359.9 92.2,407.7 125.3,242.5 114.9,278.8 118.6,261.7 121.4,225.5 104.1,310.6 150.7,182.5 85,409.4 58.6,563.3 133,228.9 126.8,288 91.6,390.7 112,306.4 92.8,386.1 93.7,399 145.2,126.2 87.2,421.2 80.5,432.9 89.4,421.5 97.4,338.7 139.1,175.6 134.3,221.6 120.3,280.5 106.4,369 113.9,283.1 100.2,373.7 128.6,202.4 123.3,239 110.9,263.2 111.8,312.6 139.1,318.6 95.7,355.8 124,251.8 121.1,259.9 76.9,485.3 97.4,381 119.9,296.5 132.9,192.1 112.1,308.4 114.1,301.2 131.2,217.1 118.6,305.1 64.8,531.5 80.2,463.2 92.6,376.5 127.9,324.9 115,299 132.6,228.3 123.8,262.6 127.1,249.1 138.4,212.7 122.9,254.5 140.4,198.5 116.8,245.6 123.5,269.6 93.4,390.3 121.8,248 127.5,285.4 100.8,331.8 133.7,224.6 139.4,213.2 98.6,359.6 124.4,222.1 109.4,361.7 131.7,232.9 94,368.6 114.8,255.5 142.4,138.7 94.5,358.1 133,191.1 102.3,360.3 114,239.8 102,329.3 136,199.7 115.2,286.7 110.1,333.8 115.6,305.6 121.6,275.9 122,302.1 93.5,381.5 108.5,343.2 120.5,240.7 103.6,306.9 111,290.6 119.8,281 129.2,206.4 127.1,275.6 99.1,380.2 111.6,313.2 103.4,296.3 107.2,297.6 138.6,199.3 116.3,256.2 100.7,348.3 99.6,368.5 155.8,120.8 119.6,268.5 122.4,217.6 114.4,247.5 106.8,357.3 112.8,327.4 95.9,386.5 111.7,337 101,369.7 123.1,239.2 112.2,336 107.9,301.6 112.6,329 103.6,348.4 93,371.1 106.7,278.3 118.3,298.9 84.7,438.8 109.2,304.5 110.7,309 133.4,186.1 88.2,394.6 121.8,338.1 105.7,287 76.5,467.5 109.7,296.7 124.9,235.6 133,296.5 148.2,246.3 117.7,226.5 138.2,275.2 57.5,569 121.9,254.9 106.8,351.2 85,428.3 93.8,375.8 112.3,286.1 120.1,229.7 135.3,195 158,136.5 96.3,371.9 111.5,333.3 144.5,178.8 98.7,379 130,203.2 139.1,209.8 98.6,343.7 135.3,218.2 103.7,369 107.6,327.5 145.5,222.9 129.5,218.6 96.5,354 58.5,566.1 127.4,263.2 154.6,148.7 79.1,469.3 156,148.1 75.9,467.4 91.7,384.1 150.6,152.6 138,214 128.1,278.8 100.8,378 94.2,394.7 97.8,389.7 123.1,235.8 133.5,258.1 107.1,303.4 120.8,264.4 108,353.6 86.9,450.4 82.6,464.5 111.6,301.6 88.7,417 82.2,437.3 107.5,276.8 126,239.8 95.5,359.2 95,374 98.8,370.2 96.2,338.9 103.7,350.6 77.5,468.3 130.2,190.5 57.7,570.2 84.9,420.2 109.1,327.2 111.8,265.7 135.3,261.3 102.3,357.3 106.4,351.1 126.3,245.3 134,219.5 89.4,389.1 96.3,397.7 108.2,328.1 128.9,201.3 111.3,341 124,249.4 122.3,227.8 138.8,223.7 128.6,243.8 97.1,381.2 111,312 135.4,222.7 118.8,221.1 135.1,236.4 96.8,377.6 153.1,198.9 127.5,208.4 137,241.4 139.7,223.1 157.9,240.2 120,194.4 84.7,421.1 108.1,292.6 107.6,319.7 139.4,190.5 103.1,366.2 130.1,224.2 116.8,308.6 138.9,279.1 132.4,200.3 133.7,181.1 96.5,392.8 125.4,282.1 108.7,318.8 122.8,270 109.7,300 111.5,258.5 128.5,212.3 81.4,449.8 99.9,331.7 125.2,257.3 105.1,368.9 115.3,315.2 118.6,353.8 84.8,430.4 116.8,283.1 158.4,238.2 120.8,232.1 119,245.7 133.4,214.8 90.9,405.7 152.6,228.5 147.7,243.6 83.9,432.6 103.4,316 97.9,358.9 140.7,192.2 115,312.8 141.1,172.6 133,295.4 77.5,441.2 132.1,310.9 85,433.4 106.8,361.9 77.9,462.9 108.8,287.9 98.2,372.6 135.4,241.5 131.7,214.8 88.2,408.3 95.6,369.2 137.1,212.1 126.7,282.8 101.2,353.4 73.8,480.5 107.2,337.3 108.2,347.7 131.1,189.8 76.1,478.1 112.5,262.4 83.7,427.7 109,270.1 140.8,211.9 114.9,294.7 97.7,402.5 136.7,218.4 102.5,302.3 123.4,349.4 81.5,452.7 114.1,277.4 128.2,248 99.3,377.5 108.5,343.6 116.5,256.6 125.4,277.6 130.4,203 153.9,216.4 127,256.9 111.6,266.8 121.5,210.6 105.2,312.8 99.6,349.9 59.8,560.8 151.5,183.5 152.7,212.5 130.4,238.1 118.4,232.7 116.9,241.2 157,139.1 59.1,558.1 142,185.6 87,417.4 111.1,262.1 110.6,289.8 98,378.2 104.9,343.7 108.3,285.2 77.6,463.9 120.5,262.2 122.2,277.3 110.1,291.1 100.7,317 108.5,314.1 80.8,433.9 122.7,229.5 136.8,195.1 146.4,254.4 139.1,211.2 104,328.5 101.1,341.3 100.5,388.5 152.2,158.2 144.1,232.5 160.7,190.7 106.4,363.8 131.4,211.6 130.2,246.3 91.4,410.6 129.7,290.7 139.4,208 124.3,277.2 103.4,370.2 125.6,230 134.3,261.6 129.8,212.7 140.9,203.6 138.3,201.4 105.2,311.3 115.3,234.7 78.4,459.2 85.7,409.6 152.6,144.7 114.2,274.7 128.5,221.7 143.7,279 118.7,326.6 82.2,426.9 127.7,204.1 113.3,322.4 88.4,422.9 134.2,218.7"/>
<polyline class="pt" points="117.3,321.8 112.5,267.5 115.6,278.4 93.7,402.7 91.3,381.4 90.1,406.6 128.6,217.2 114.2,317.2 80.6,439.1 112.2,252.7 109,298.5 130,234.5 122,234.1 134,190.3 133.5,189.9 128.2,183 121.4,301.8 111.2,303.8 129.9,247.9 122,303.4 119.1,231.9 144.5,187 98.4,390.6 74.8,481.9 124.7,353.3 111.1,342.4 108,291.8 92.5,361.7 133.5,242.1 130.6,204.6 95.7,393.1 130.9,248.8 77.1,470.1 108.8,274.6 126.9,262.9 126.6,255.3 75.3,482.1 138.2,220.8 122.9,229.5 113.5,260.7 118.2,316.9 97.6,355.4 120.7,245.5 122.5,312.7 77.8,471.4 103.2,314.6 103.8,301.5 129.9,259.9 79.9,448 65.5,530.8 87.1,404.8 128.8,273.9 124.2,284.9 123.4,266.2 134.3,225.2 126.8,266 105.5,293.6 110.9,344 134.8,211.5 102.7,360 116.4,322.5 97.5,372.2 86,420.4 99.7,344.9 137.4,216.5 92,390.1 98.8,354.7 117.4,240.3 102.5,356.1 59.5,559 91,414.8 125,273 134,251.4 128.1,262.7 104.2,336.9 106.3,306.1 109,335.1 142.2,179.5 110.3,271.7 70.8,506.1 114.4,320.8 116.4,292.1 129.5,239.2 133.6,217.3 103.7,300.9 80.8,455.3 122.6,281.4 101.9,346.6 137.1,211.5 116.6,272.8 132.2,257.4 141.1,213.8 124.4,341.3 94.4,356.5 97,378.7 113.9,289.1 88,411.8 93,399.3 109.7,339.9 116.8,239.5 115.8,244.1 109.5,371.7 83,447 98.6,378.7 90.5,392.6 61.9,551 99.7,320.8 96.9,335.4 127.1,213.7 131.7,245.2 116.8,299.7 126.4,228.6 83.4,435.3 102.9,380.8 112.4,285.1 116.7,243.7 119.3,310.9 142.3,226.8 133,251.5 126.2,188.7 109.8,328.8 61.3,548 134.1,206.6 112.3,284.3 105.6,313.2 109.7,318.9 146.4,209.2 75.7,469.5 107.8,314.3 115.4,294.1 81,447 99,348.1 102.5,341.7 117.7,281.7 108,343 112.5,250.8 132.3,225.3 119.9,223.3 100.3,324 125.2,336 89.2,411.1 92.2,376.9 112.2,273.5 86.8,413.8 109,327.1 90.5,399.7 129.8,275.7 105,353.6 119,297.1 117,300 143.2,248.4 148,147 104.3,300.6 94.5,352.7 131.5,239 129.1,222.5 118.4,305.4 119.2,239.6 91.9,388.3 110.7,322.2 117.5,360.9 128.1,232.7 99,372 126.8,337.8 133.9,231.5 144.4,226.1 135,211.1 151.1,259.5 97.1,376.3 131,228.5 110.6,319.2 125.5,266.4 104,352.5 141.6,169.8 83.2,452.1 141.7,249.5 80.9,441.8 81.1,428.7 129.1,262.5 119.4,359.7 123.1,249.3 103.2,332.1 118.2,303.8 118.6,226.7 85,409.3 118.4,293.7 118.1,282.6 109.7,329.9 120.1,310.7 98.1,393.8 102.2,341.5 84.5,441.6 123,225.7 113.5,299.9 94.1,385.4 89.6,397.4 81.4,460.4 135.1,277.5 134.1,213.7 134.9,245.7 100.1,369.9 128.6,257.6 150.4,193.2 134.9,195.7 122,260.8 107.4,341.2 94.1,380.8 99.1,357.3 77.4,471.1 113.6,265.7 113.3,321.4 111.2,304.4 91.2,377.6 139.7,232 89.6,384.3 117.2,230.9 131.3,248.5 134.7,203.9 125.6,279.7 142.8,202.5 116.4,238 98.3,403.6 138.8,265.6 130.7,234.3 122.1,290.2 61.5,541.6 110.9,284.6 134.6,206.1 130.7,227.1 112.2,354.2 132.8,201 99.2,372.8 138.2,194.9 119.1,298.6 121.6,300.5 119.3,254.3 120.5,302.3 101.9,325.8 80.9,441.4 105.3,295.7 57.6,566.9 116.6,319.5 110.3,273.7 136.3,197.6 115.6,251.5 111,301 125.9,267.7 147.4,136.2 121.6,244.8 129.9,315.9 109.6,286.7 107.1,358.2 104.9,330.7 132.4,251.2 110.8,296.9 86.4,429.5 114.2,320.5 90.8,430.5 129.4,236.6 123.1,264.8 64,544.7 111.4,259.4 87.4,405.4 90.4,390 145.9,165.3 105,309.6 90.1,394.9 121.6,296.8 114,303.1 126.2,256.3 129.2,200.9 135.8,270.4 141.3,177 89,412.5 79.3,437.4 108.1,305.3 94.1,365.4 118.3,309.6 121.2,294.1 83.8,417.8 132.1,196.2 107.8,342 127.4,242.1 124.5,236.1 60.6,555.4 98.4,344.9 128.6,255.9 60.1,551.5 93.1,363.3 138.8,226.2 139.8,177.7 121.9,227.2 127.9,272.2 101.3,358.5 116.9,293.9 126.4,244 108.8,382 138.1,191.3 144.7,247.9 118.6,253.9 131.2,240.9 98.9,325 92.5,369.5 125.5,202.2 123.5,238.6 105.1,321.5 89.4,418.9 119.4,303.2 120.7,281.2 122.9,320.4 147.2,263 112.9,275.5 88.9,430.9 116.2,299.2 105.6,315.6 124,296 98.9,379.5 92.9,363.9 93.8,364 128.8,286.3 92,384.1 123.2,224.7 139.8,169.1 99.3,343.4 156.7,177.9 107,400.9 136.3,238.9 146.9,204.6 119.7,207.4 131.4,304 109.6,348.4 109.3,320.4 122.6,267.1 120,292.4 92.1,406 115,239.9 140.1,217.8 126.7,237.6 96.8,370.7 110.1,273 133.2,198.7 128,271.7 90.5,388.7 105.5,298 80,449.4 81.5,464.2 133.5,298.4 115.6,247.1 113.3,251.3 106.7,345.5 117.5,285.6 90.4,393.2 132.5,226 134.2,221.9 60.4,553.2 129.4,264.1 138.3,162.6 143.8,186.5 123.4,270.4 108.6,333.7 120.9,300.8 126.5,217 90.3,418.8 102.3,311.4 137.2,231.3 115.5,250.7 133.2,186.8 109.9,297.7 134.6,234.4 79,451.1 112.7,290.3 125.6,247.3 125.8,253 81.4,452.1 88,414.4 122.2,251.2 83.1,427.5 130.4,205.6 135.9,210.1 137.4,205.4 113,264.9 93.7,372.6 130.3,204.8 123.3,229.8 113.6,272 123.1,242.7 95.5,349.4 154,229.1 99.3,324 158.3,207.2 119.9,268.7 119.9,305.5 86.3,416.4 129.9,214.2 115.7,313.4 139.9,218.1 121.8,236.7 105.7,302.4 119.8,273.5 102.3,365.8"/>
<polyline class="pt" points="138,209.6 111.4,326 110,296.5 119,284.4 127.3,329.2 113.5,294.8 139,208.5 60.8,551.4 103.8,309.7 119.7,243.4 113.6,269.3 128.5,313.9 127.7,258.7 91,384.1 94.4,373.4 129.2,266.8 137.1,218.3 97.9,367.4 114.2,254.9 125.4,239.7 128.2,246.3 126.3,300.4 82.8,445.4 145.9,257 104.8,332.4 116.7,293.2 94.7,399.6 88.2,416.3 93.7,387.3 85.3,394.1 110.9,271.8 117,265.2 83.6,421.9 121.1,263.4 104.8,320.7 92.2,402.8 149.2,207.2 84.2,419.7 97,383.4 109.9,273.2 97.9,334.2 117.6,306.7 124.5,254.2 99.4,366.2 149.2,156.3 111.5,323.5 110.2,295.8 130.1,222.4 114.4,288.8 123.4,272.5 107.8,355.8 126.9,307 144.6,164.6 75.8,471 105.6,388 133.5,285.6 98.4,381.4 106.1,291 78.4,472.7 115.4,298.1 112.6,357.9 128.3,260.5 123.7,187.2 95.4,356.9 145.8,185.2 133.4,232.2 141,190.2 130.2,231 115.3,244.1 107.1,354.9 121.8,213.7 100.1,314.6 95.2,389.5 114.8,323.2 93.6,395.6 105.9,331.8 78,468.9 128.5,221.2 107.7,340.6 110.3,328 121,231.5 111.9,342.9 116.8,267.4 110.1,343.6 110.1,261.1 115.4,252.2 143.5,170.9 137.9,216 122.4,244.7 121.8,254.1 119,276.9 61.6,550.3 82.3,444.5 80.2,451.7 78,447.5 97.2,372.1 102.7,398 100.6,317.3 69.1,506.6 101.8,350.5 92.2,398.5 89.7,411.1 65.4,525.5 117.6,252 140.2,308.4 98.3,338.4 81.7,455.8 112.5,348.4 81.5,446.4 139.2,200.3 142.8,180.1 131.5,222.2 114.8,284.1 113.8,329.8 78.8,447.5 121.7,305.1 129.8,211.7 112.6,249 108.9,339 112.2,258.5 123,305.2 128.8,218.3 123.7,254.9 101.1,331.7 112.1,323.8 106.3,363.6 139.5,184.8 126.3,269 120.8,235.1 105.8,291.7 127.4,224.8 57.3,568.2 138,187.3 89,400.8 127.2,225.4 125.2,253.7 101.3,315.8 106.3,317.6 86.8,419 100.6,320.9 114.2,292.5 112.4,318.1 116.4,313.5 137.3,191.8 138.6,166.1 138,191.1 88.1,421.9 106.4,361.1 122.4,241.9 125.1,279.5 111.5,296 146.9,158 106.9,357.1 89,419.7 79.3,469.9 125.9,185.8 144.5,124.6 135.1,232.3 113,309.5 137.6,168.2 99.9,341.4 119.6,225.2 131.2,218.8 60.6,554.9 95.6,351.4 139.7,183.1 154,130.3 131.9,194.7 83.8,428 108.7,318.6 106.6,328.7 136,207.6 120.4,267.5 140.5,214.3 134.7,213 104.3,336.7 86.9,402.9 89.3,409.9 119.8,237.8 157.4,140.1 86.8,404.7 116.1,294.8 107.3,324.7 109.7,351.5 119.5,267.2 126.5,311 120.8,290.9 113.8,309.2 109.8,284.5 139.7,275.9 124.2,277.7 144.2,215.8 96.9,348.3 58.2,562.1 135.8,193.9 146.7,256.1 80.6,460.9 88.9,381.3 111.9,286.8 95.1,395.4 159.3,203.4 80.5,460.2 127.7,241.6 67.2,525.6 131.9,233.5 138.6,238.4 122.4,219.3 122.7,285.9 125.9,241.3 96.3,343.4 125.3,191.9 108.6,274.6 121.1,304.7 135.3,263.9 106.2,332.2 83.9,442.7 144.8,145.5 127.4,209.6 117.7,247.1 75.1,484.8 112.1,300.9 110,319.5 137.7,212.1 115.1,281.9 120.3,275.4 119.2,280.1 129,214.1 101.8,311.3 127.5,244.3 96.5,344.1 60.3,556.5 109.9,332.1 117.5,335.1 148.9,206.6 106.3,340.7 84,445 141.2,155.9 84.5,439.6 86.8,421.4 116.8,282.1 74.8,475.9 106,315.6 112.8,328.9 94.6,366.8 111.9,342.2 96.4,370.7 93.6,378.4 135.1,212 114.9,254.3 94.8,372.9 153.6,158.4 106.7,339.6 88.1,421.5 123.9,292.6 131.3,252.4 166.4,154.5 63.2,546.3 125.9,235.2 139.4,177.2 100.6,373.2 117.9,340.6 132.9,246.4 78.3,453 112.4,237.1 90.4,389.4 130.5,243.6 130.2,249 120.6,297.9 122.8,236.2 116.6,225.2 117.6,246.3 139.7,198.8 124.9,243.7 142.8,171.1 130.1,237.2 130.2,155.2 122,272.5 118.2,237.7 94.2,362.1 106.3,351 113.2,306.4 144,187.7 120,252.7 143.6,254.8 110.8,345 60.7,555.9 121.8,229.9 121.3,284.4 114.6,251.7 145.8,216.2 101.3,331.4 128.4,270.6 132.6,241.2 94.1,399.3 83.3,425.2 85.2,422 123.4,219.2 85.4,403.4 111.2,283.8 105.4,324.9 121.4,261.4 109.8,319.2 101.6,356.3 125.7,268.3 108.3,318 122,327.7 89.4,396.1 141,193.5 102.2,331.1 122.7,288 109.2,292 139.3,256.4 127.8,287.7 126.4,264.8 102.2,375.4 139,231.7 111.8,332.8 118.1,242.4 131.3,205 129.6,264.2 136.5,230.5 84.2,433.7 99,363 118.6,288.3 101.6,347 108.9,291.3 120.4,237.7 109.2,306.2 120.6,243.5 116.3,243.5 118.8,219.1 60.1,557.4 150.8,188.2 136.7,272.5 119.2,311.1 93.7,354.5 130.6,263.6 126.9,278 116.8,266.3 123.9,290.1 115.5,314.8 146.3,182.7 110,328.1 119.9,221.6 138.2,176 138.6,208.8 109.3,349.3 100.8,324.2 161.9,213.6 81.6,457.4 99.6,349.6 57.6,571 128.6,238.4 132.4,217.2 103.4,313 143.4,260.1 125.2,267.5 88.9,404.3 128.7,238.8 131.8,315.6 119.4,227.4 98.6,347.1 102.2,311.4 129.2,259.1 103.5,337.2 122.7,273.2 151.3,154.3 142.2,182.2 118.1,359.5 117.7,281.1 106.2,304 144.3,188.1 119.4,232.3 132.7,273.7 120.8,265.9 125,317.5 75.4,454.3 83.2,425 136.5,217.7 80.8,454.3 75.3,474.9 108.9,302.4 115.7,245.5 95.4,370.9 101.7,343.9 120.9,253.7 92.5,356.9 100.3,329.2 80.5,437.8 104.9,330.8 59,562.9 146.9,232.8 114.4,245.2 133.7,223.2 135.5,336.6 131.5,247.4 70.7,507.6 107.8,331.1 68.1,516.5 86.3,416.8"/>
<polyline class="pt" points="130.3,215.5 140.6,219.1 158,177.5 139.9,216.7 162.8,211.8 137.4,210.5 125.9,246.7 94.4,370.2 83.8,446.8 152.3,229.2 125.8,212.6 119.6,297.3 131,231.6 93.1,415.4 147.5,238.9 129.3,325.7 150.6,234.3 78,458.9 111.1,282.3 145.7,215.6 115.2,269.1 115.3,253 125.7,296.9 105.8,311 149.8,214.6 136.8,223.5 122.6,260.3 109.7,318.2 98.6,362.4 119.1,312.1 126.1,219.3 130.2,228.9 84.9,463 104.7,302.9 145.2,184.6 130.8,209.5 101.1,369.2 130.6,261.4 118.1,306.9 105.1,302 94.9,371.5 108.1,322.1 150.3,194.1 126,267.2 119.2,275 59.5,560.3 99.2,389.2 117.3,312.5 89.7,418.4 141.9,200.7 120.6,280.2 158.7,143.3 97.9,383.7 104.2,313.5 119.7,271.3 115.1,273.2 139.2,270.8 139.6,215.6 117.5,254.6 109.6,266.9 146.1,240 96.1,393.4 119.3,347.9 79.4,443.5 96.4,356.1 100.3,338 129.3,256.2 107.5,283 81.7,453.8 115.7,299.7 97.5,387.8 119.6,287.8 126.7,349.2 126.4,276.7 151.8,203.3 124.8,290.9 121.5,214.1 93.2,413.5 84.7,436.5 141.7,192.5 90.7,369.4 92.5,358.1 114.2,282.7 75.5,490.6 137.5,181.5 132.8,295.6 146.6,219.8 124.9,225.7 103.8,347.4 126,281.7 106.1,353.4 134.2,239.4 130.4,256 139,186.2 110.6,334.1 143.1,191.7 116.7,289.1 82.5,440 142.3,184 106.7,281.4 122.6,330.2 126,281 122.5,216.4 132.7,238.4 116,317.1 135.1,250.1 82.1,440.3 156.1,230.5 112.2,285.9 123.3,262.6 119.2,298.9 102,330.1 79.2,465.7 110.7,289.4 102.2,379.2 102.5,396.5 103.2,341.8 107.2,348.9 134.4,179.6 113.6,314 134.3,192.7 95.9,377.4 109.1,341.1 120.2,298.4 132.4,202.3 94.2,397.5 99.1,339.7 59.9,559.6 101.7,401.1 92.1,382.6 120.4,245.4 117,255.5 90.8,397 126.8,256.8 61.5,548.2 88.6,402.1 137,196.8 127.1,285 57.6,570.4 103.9,361.5 127.1,252.8 147,201.7 148,190.1 132.1,226.1 127.7,279.2 140.7,188.9 151.7,230.9 97.1,369.2 126.1,228.1 118.8,287.7 97.3,341.7 99.4,359.6 105.6,304.2 122,245 97.1,344.1 154.6,137 124.3,231.5 138.9,316.1 126.4,248.6 105.8,295.7 123.8,178.7 97.3,330.5 116.6,236.9 109.7,301.5 142.1,183.9 141.9,267 117,240.3 118.1,316.6 88.7,411.9 82.6,450.5 136.6,195 126,307.6 96,355.8 139.7,184.8 123.9,296.6 129.1,222.6 106,309.4 88.8,405.7 101.8,390.8 111.6,268.5 121.2,257.8 104.5,344.1 147.4,153.3 101,384.1 127.7,259 94.6,347.3 117.3,302.9 94.6,366.1 102.4,344.7 118.1,303.1 118.8,254.5 64.5,538.2 93.8,382.4 101.7,336.1 110,330.2 119.9,290.7 98.1,373.2 77.7,476.9 152.3,207.3 126.4,256.5 109.5,340.7 120.7,260.6 94.7,368.8 91.7,401.1 163.6,188.5 74.9,476.3 90.4,400 119.3,284.6 117.7,234.9 119.6,246.6 111.9,305.6 87,413.5 143.8,200.3 131,264.4 116.5,303 95.4,383.1 137.6,219.4 99.9,322.9 123.5,228.3 106.5,290.3 127.8,255.6 118.9,250.6 136.9,233.3 140,176.1 73.7,483.1 94.7,372.8 109.5,269.4 87,405.5 98.6,312.1 73,488.4 133.6,224.1 126.6,249.5 121.3,250.3 146,138 101.2,319.7 121.1,295.4 112.2,308.5 97.2,385.7 113.8,288.5 104.2,310.3 113.5,329.4 80.6,453.3 85.7,417 111.5,319.5 137.5,220.8 117,307.8 91.9,376 107,282.6 119.4,288.3 114.9,311.9 148.6,209.9 111.2,272.1 128.8,210.3 128.8,256.3 136.6,232.7 124.6,274.2 90.8,403.4 143.6,252.6 97.9,377.7 117.6,252.9 57.1,569.5 89.4,411.7 116.2,314.9 126.3,283.1 125.5,328.5 101.7,332.8 143.4,149 80.8,459.5 76.1,472.3 142.3,181.9 104.1,357.9 129,218.1 108.9,319 108.1,272.2 117,291.5 120.9,278 74.3,482.3 128.5,270.6 89.4,405.2 110.2,363.1 103,324.2 107.8,279.2 80.1,462.9 82,426.2 120.5,246.9 159.5,145.1 110,313 157.2,132 109.4,296 91.4,362.3 140.1,267.6 118.6,282.6 101.2,355.2 96.7,377.9 113.2,276 116.1,339.1 151.3,177.6 129.6,221.2 61.3,548.9 116.1,315.3 131.5,309.7 100.2,343.9 106.5,300.8 83,431.5 101.1,341.8 111.8,292.5 84,419.2 125,252.1 79.3,446.2 76.6,458.7 140.3,193.2 101.1,341.9 120.5,233.1 125.1,285.9 121.8,207.2 122.4,289.4 111.6,316.7 101.7,320.2 152.7,165.6 126.4,208.8 120.8,223.1 131,265.4 141.5,257.3 106.1,326.2 119.2,223.2 106.1,320.7 116.2,323 88.4,405.9 138,216.1 125.3,230.3 151.4,226.3 96.1,351.5 100.9,314.5 95.1,349.4 160.1,127.3 119.6,239.7 95.8,366.4 109.2,348.9 107,336.7 114.8,252.5 94.4,387.9 110.3,334.2 131.4,189.9 147.8,203.9 138.8,324 95.8,355 136,230.8 112.3,274.4 88.6,394.7 151.3,239 103.7,367.7 118,252.9 112.9,283.7 111.5,323.5 102.2,352.4 92.6,408.6 145.1,249.3 108.9,265.1 123.1,230.6 78.7,450 59,562.6 93,359.5 118.3,254 131.1,199.9 115.8,344.6 103,315.3 85.8,420.4 105.2,297.8 104.5,346 97.9,367.8 114.1,336.7 78.9,460 120.9,206.7 145.6,177.4 124.1,252.8 105.6,392.5 124.7,206.2 95.5,353.3 115.2,313.2 115.5,320.3 117.4,332.8 92.6,427.5 127.1,262.1 120.2,223.5 135.3,162 129.5,325.7 136.6,227.5 113.4,257.5 120.4,264.1 141.5,302.3 73.8,480.5 111.9,359.1 124.8,214.1 114.7,326.2 117.8,308.9 112.7,271.7 79.8,451.5 118,288.4 110.5,286.1 112.9,291.5"/>
<polyline class="pt" points="102.4,353.1 138.3,190.5 80.5,443.5 86,409.9 123.2,255.1 125.7,234.2 94.6,372.1 107.6,301.9 103.9,299.5 132.4,211.2 113.6,303.3 61.1,546.8 115.4,367.3 102.5,355.3 115,297.8 74.3,475.5 131.3,265.1 149.4,196.9 81.2,436.8 117.9,293 109.6,315.8 123.2,272.9 138,193.6 119.8,352.1 100,354.3 147.1,173.5 124.4,249.8 126.7,206.5 100.2,322.7 104.7,390.4 116.2,271.7 99.8,324.4 64.5,540.5 129.1,224.4 130.3,232.8 103.3,360.5 94.8,379.5 100.2,346 104.2,295.3 99.2,342.6 124,252.3 138.2,188.6 86.2,429.2 116.5,283.9 92.4,354.4 118.9,324.4 113.3,279.3 101.3,352 113.7,270.7 123.1,227.1 80.8,453.7 93.9,398.8 126.8,215.1 103.7,359 108.9,365.3 95.5,370.9 99.2,378 102,402.9 146.2,219.5 112.3,279.6 98.5,348.7 136.9,209.8 102.1,338.2 139.2,209.4 90,411.3 108.9,275.8 106.9,307 103.1,307.9 105.6,349.5 138.8,237.1 92.9,375.6 97.1,342.4 102.2,325 126.4,258.2 85.4,424 114.1,251.3 105.2,355.6 120.9,300.9 152.3,211.5 126.9,325 125.2,227.7 139.8,283.4 84.8,434.3 80.6,449.1 113.5,264.8 84.4,434.5 139,194.3 104.6,365.5 119.2,352.4 103.9,312.3 118.7,259.5 107.4,290.9 138,197.7 63.5,545 111.9,307 139.4,219.9 140.2,205.2 59.4,561.3 119,285.6 92.5,410 117.1,233.4 122.1,287.5 105.2,377.4 69.8,509.4 122.7,223.8 134.2,244.8 101,320.9 135.5,220.5 95.3,408.2 110.7,350.7 122.3,239.3 135.9,203.7 117.6,238.7 102.7,344.4 125.5,269.6 132.6,203.8 123.2,243.9 142.1,307.7 162.1,162.7 106.9,317 128.3,277.6 104.9,346.4 125.5,208.6 126.1,258 110,267.5 115.8,248.9 120.5,368.4 99.4,369.4 105,287.9 149.4,244.6 124.1,311.2 99.6,349.3 120.8,264.3 122.9,265.6 92.2,388 97.1,340 105.5,299.9 128.6,202.5 141.8,194.4 130.4,210.6 122.7,274.6 114,298 140,180.6 88,423.1 81.1,455 132.5,199.4 88.4,407.5 109.3,295.3 94.3,383.9 78.2,475.2 110,337.4 120.4,302.7 132.5,220.7 130,209.1 122.8,242.2 127.3,258.4 111.5,311.4 106.3,335.5 118.9,249.7 136.4,228 96.9,351.7 142.9,294.2 152.1,224.1 57.6,567.5 102.2,336.6 136.9,220.5 125.4,231 92.6,378.6 59.7,562 120.5,264 114.4,282.3 144.6,159.9 107.3,324.4 117.6,258.7 118.5,312.9 123.2,349.9 107.6,340.5 122.4,299.9 113.4,279.3 58.7,560.6 120.9,282.4 109.5,338.4 115.1,285.2 127.3,270.6 102.4,339.8 147.4,251.2 162.5,181.7 124.7,270.7 120.8,304.5 107.4,355.2 118.1,260.8 119.7,301.7 128.9,253.9 110.6,314.3 90.4,369.9 138.5,219.9 125.7,239.1 132.1,290.6 109.1,300.6 122,230.6 87.6,412.2 103.4,314.6 113.7,256.9 120.3,251.9 85.5,404.1 122.1,251.6 103,299.4 117,269.4 122.5,317.2 106,330 115.8,292.7 95.4,383.2 122.2,294 101,326.4 118.9,293.8 105.3,324.9 119.3,249.8 113.3,264.4 111.7,273 81,447.1 95.5,345.5 96.4,393.2 163.8,143.6 118.1,273.8 126.4,259.4 126.8,268.6 121,263.9 108.5,285.2 130.3,264.1 125,271.7 100.8,330.9 116.2,285 89.4,434.5 133.5,196 62.9,547.1 105.2,302.5 145.7,231.2 85.8,409.8 98.3,343.5 123.9,277.1 97.4,375.6 157.9,158 106.7,323.4 129.9,231.8 109.2,290.9 132.5,209 115.8,334.5 103.3,360.9 128,260.8 134.7,148.3 102.1,348.5 130.6,299.5 105.7,361.8 100.8,374.8 88.1,390.5 99.9,371.7 122,261.1 141.8,177.2 99.5,359.1 142,185.7 92.6,368.2 84.5,425.9 142.9,239.7 120.3,279.5 99.1,370.4 127.9,262.5 129.9,215 131.1,314.3 119.5,250.2 115.6,332.9 85.1,426.3 122.9,337.5 129,262.2 121.1,223.6 101.4,365.6 109.5,287.7 115.2,270.2 59.8,557.9 152.8,159.7 108.6,294.4 107,362.2 92.8,399.3 132.4,255.6 96.8,403.5 118,257.6 132.5,240.3 105.1,349.8 79.5,469.3 92.8,380.3 86.1,448.1 102,347.8 117.1,230.5 125.4,347 126.8,188.9 127.6,250.6 105.9,354.6 106.3,331.2 111.2,369.2 106.9,278.4 84,430.4 119.9,244 137.9,179.8 114.2,338.3 124.5,225.4 142.1,244.3 94.9,403.4 136.6,219.5 125.7,276.8 107.9,336 121.5,255.8 61.2,554.5 120.7,210.3 111,309.2 80.8,440.6 114.5,262.9 113.7,292 135.2,241.7 91.7,397.7 131.9,221.6 87,401.7 109.1,284.3 133.6,206.3 106.6,346.4 127.6,244.2 111.8,358.4 100.9,332.6 115.7,267.8 126,272.7 110.9,330.8 161.6,194.2 136.1,170.1 131.7,256.8 101.3,337.8 130.7,235.3 145.3,142.3 94,395.6 130,217.9 133.3,220.9 145.1,269.5 123.4,316.7 91.1,398.9 98.5,367.1 104.6,317.6 113.8,324.8 108.9,346.5 140.6,185.9 131.1,337.5 115.7,270.2 143,262.8 200.8,22.4 189.2,24.9 198.9,29.6 195.1,54.5 164.5,54.8 156.9,71 157,76.2 169.4,76.3 173.6,77 153.5,85.8 156.9,85.4 162.6,86.7 165.8,85.8 166,93 162.6,97.2 153.7,96.4 158.8,102.5 163.9,103.4 150.3,107.2 148.8,110 146.1,113.3 160.7,108.2 157.5,106.3 156,113.9 160.3,112 165.5,113.5 147.4,116.7 143.3,119.5 155,117.6 158.8,119.5 175.8,103.8 173.9,114.7 174.5,127.7 177.9,148.4 102.1,433.4 89.3,450.4 86,463.2 81,473.9 88.7,434.9 93.7,413 104,413.9 106,414.9 106.4,408.9"/>
<line class="r" x1="52.60" y1="592.20" x2="176.22" y2="0.50"/>
<polyline class="b" points="57,570 73.4,480 89.2,400 106.7,320 118.2,277 129.2,240 153.6,160 178.5,80 201,5.7"/>
</g>
<rect class="ax" x="51.5" y="0.5" width="156" height="591.7"/>
<text transform="translate(57.20 616.8) scale(0.9534 1)" text-anchor="middle">0e+00</text>
<text transform="translate(103.30 616.8) scale(0.9534 1)" text-anchor="middle">2e-04</text>
<text transform="translate(149.40 616.8) scale(0.9534 1)" text-anchor="middle">4e-04</text>
<text transform="translate(195.50 616.8) scale(0.9534 1)" text-anchor="middle">6e-04</text>
<text transform="translate(35.7 570.70) rotate(-90) scale(0.9534 1)" text-anchor="middle">0e+00</text>
<text transform="translate(35.7 460.37) rotate(-90) scale(0.9534 1)" text-anchor="middle">1e-04</text>
<text transform="translate(35.7 350.04) rotate(-90) scale(0.9534 1)" text-anchor="middle">2e-04</text>
<text transform="translate(35.7 239.71) rotate(-90) scale(0.9534 1)" text-anchor="middle">3e-04</text>
<text transform="translate(35.7 129.38) rotate(-90) scale(0.9534 1)" text-anchor="middle">4e-04</text>
<text transform="translate(35.7 19.05) rotate(-90) scale(0.9534 1)" text-anchor="middle">5e-04</text>
<path class="ax" d="M57.20 592.2 v6.4M80.25 592.2 v6.4M103.30 592.2 v6.4M126.35 592.2 v6.4M149.40 592.2 v6.4M172.45 592.2 v6.4M195.50 592.2 v6.4M51.5 570.20 h-6.8M51.5 459.87 h-6.8M51.5 349.54 h-6.8M51.5 239.21 h-6.8M51.5 128.88 h-6.8M51.5 18.55 h-6.8"/>
<text transform="translate(129.50 643.8) scale(0.9534 1)" text-anchor="middle">Primary Series (Obs)</text>
<text transform="translate(8.35 296.35) rotate(-90) scale(0.9534 1)" text-anchor="middle">Replicate Series (Obs)</text>
</g>
<g id="p2">
<g clip-path="url(#kp2)">
<polyline class="pt" points="344.7,371.1 310.8,495.7 303.3,537.2 350.2,274.1 341.3,373.5 296,568.6 300.3,553.2 316.8,467.4 326.1,399.8 358.9,304.6 299.8,555.5 336.7,415.5 324.9,389.3 330,430.6 331.6,431.8 310.7,477.4 321.8,469.5 329.7,400 308.9,545.8 347,341.2 369.4,242.8 307,511.7 337.7,391.3 330.8,380.9 307.1,526 312.3,487.3 317.3,484.5 316.3,511.1 338.1,367.5 351.9,350.5 332.7,370.4 324,445.5 327.4,396 340.2,355.3 309.7,466.1 326.6,427.4 368.8,250.9 317.5,435.3 298.1,561.8 325.1,469.2 342.3,359.8 368,254.1 301.4,555.1 349.8,367.9 313.4,439.5 361.1,289.4 388.5,286.6 334.1,372.8 308.2,458 322.3,428.6 314,500.4 335,425.4 357.7,247.8 333.1,439 313.9,483.3 351.9,320.1 323.4,467.4 313.1,444.8 331.6,412.1 321.8,484.1 312,477 308.5,492.9 356.5,472.2 332.6,432.2 333.7,371.8 333.3,385.3 338.5,379.5 379.9,240.2 347,313.5 363.6,348.8 355.7,303.2 322.7,422.2 350.8,352.8 323.4,388.7 352.3,350.5 367.9,278.4 378.5,186.2 362.3,309.2 320.1,400.3 326.4,384.9 372.9,254.9 348.3,325.5 342.2,398.1 337,413.9 300.6,543.9 306.9,510.1 345.3,298.2 302.6,535.8 322.9,491 366.5,258.5 326.7,436.1 343.7,320.4 333.4,377.7 324.2,463.9 326.2,465.2 336.6,382.8 332.5,452.3 325.5,409.5 313,502.9 342.2,344.9 343.3,326 316.7,415.5 321.8,431.8 328,393.5 333.2,372.3 337.7,415.7 335.2,365.6 323.3,436.9 347.6,310.7 341.2,404.6 296.1,564.4 332.8,425.2 329.9,455.4 354.4,328.2 355.7,310 324,453 328.4,384.4 349.8,326.8 312.3,444.9 325.4,436.4 339.7,359.5 311.4,497.6 357.6,251.3 334.6,436.1 296.6,567.1 347.4,279.7 330.9,400.2 320.8,483.7 305.2,503.8 310.4,448.4 300.1,539.3 329.6,427.9 317.4,461.4 299.8,551.2 364.6,193.2 365,313.7 332,463.8 306.2,528.8 336.8,369.3 334.3,404.9 323.5,428.1 334.4,362.3 313.6,449.3 334.6,420.3 321.8,404.7 311.3,480 338,381.6 342.7,395.2 315.9,433 335.4,389.5 316.8,464.9 314.6,434.6 296.3,568 348.5,417.3 319.1,454.5 332.8,415.4 309,446 354.3,324.9 336.6,361.5 372.3,327 333.5,423.1 340.3,336.2 335.8,398 343,377.4 349.7,325 319.8,467 316.8,489.2 321.9,465 319.6,487.3 338.3,358.8 367.8,279 300,540.5 343.7,338.8 329.5,395.7 324.7,394.2 357,338.2 305.8,497.4 341,356.8 315.7,436.6 328.7,396 338.5,472.1 340.1,350.7 365.9,372.5 321.3,475.8 336.7,392.9 331.1,442.2 312.8,506.3 335.9,394.3 317.4,487.1 327.6,428.5 317.7,407.4 337.5,379.9 357.2,336.7 340.4,351.2 306.3,522.9 336.5,431.5 326.1,409.6 363.3,273.2 327.1,457 327.7,341.2 339.9,363.5 365.5,282.8 348.4,363.8 334.1,370.4 316.5,489 329.8,383 305.7,517.8 342.2,426.7 334.6,375 363.4,340.9 370.3,249.5 345.2,317.1 364.1,326.5 298.4,558.7 337.8,381.9 329.1,386.2 321.2,438.6 336.3,410.3 363.3,388.3 357.4,309.8 340.4,376.5 308.9,512.7 335.4,391.8 310.9,464.7 358.5,436.7 320.8,449.9 356.4,437.9 366.3,300.5 350.3,357.6 382.8,220.8 341.5,399.5 330.2,422.3 341.2,356.1 349.6,308.1 373.4,319.2 317.7,438.3 326.8,463.4 331.5,406.1 327.4,439 337.7,379.3 314.5,451.9 316.2,443.7 315.1,494 345.5,348.1 318.3,421.9 319.8,482.4 345.4,340.6 333.7,390.8 336.3,374.6 357.1,333.3 320,450.5 316.9,469.9 323.7,449.6 374.9,330 310.2,510.8 347.9,318.4 355,318.8 326.6,447.9 347.1,346.6 319,463.3 326.8,394.2 352.7,350.3 310.2,491.6 323,479.6 312.7,474.8 325.1,496.4 328.4,388.6 324.5,466.5 353.8,255.3 344.2,333.4 306.2,522.7 311.7,478 309.6,527.8 316,422.6 331.8,418.3 314.9,477.4 337.3,390.5 352.5,350.3 371,276.2 297,562.1 336.2,373.3 344.7,343.1 315.7,458.1 378.7,309.8 309.9,493.3 358.9,303.6 353.5,310.7 317.9,446.9 327.2,391.9 334.9,382.3 314.4,520.3 296.6,560.8 329.6,345.3 342.8,381.9 326.6,378.7 329.3,390 319,408.1 338.7,414.3 308.6,459.6 323.4,433.4 340,409.2 305.9,496 328.2,409.2 306.8,516.3 375.4,335.6 324.9,346.7 327.6,367.8 327.9,453.6 334.4,378.7 332.8,440.1 322.9,471.4 331.1,423.4 321.7,440.6 330.3,426.2 308.8,501.2 336.6,399.7 337.6,366.2 340.1,389.2 313.1,428.5 318.8,447.6 317.4,470.9 333.5,433.8 315,416.6 341.4,390 332,435.5 318.4,414.5 352.4,283.6 317.9,456.4 323,397.4 333.9,414.3 334.8,402.1 384.6,287.7 322.5,404.4 351.5,356.2 314,420.4 330.6,364.8 361.6,273.4 352.2,305.9 328.7,440.4 303.7,536.5 350.1,315.1 306.4,543.5 338.4,366.4 344.8,367 340.8,342.2 359.1,381 345.4,396.8 321.7,434 329.5,423.8 342.2,355.7 346.4,350.4 331.2,374.6 312.8,463.8 309.4,473.3 328.8,411 308.5,468.5 318.5,446.7 332.7,439.2 314.7,499.4 357.1,307.3 334.5,403 317.5,458.7 377.8,209.2 327.8,424.4 336.9,323.6 316.8,447 356,295.9 323.3,418 329.8,441.3 349.4,354.5 322.8,388.7 326.2,435.2 325.3,470.2 333.7,446.8 317.7,406.9 314,465.9 313.2,492.2 334.6,391 299.6,555.8 367.3,194.6 352.2,319.3 339.2,395.9 299.4,545.8 329.8,450.8 315.5,464.2 330.8,410.8 300,556.2 359.6,304.6 323.9,437.3 336.1,408.9 318.3,454.9 325.3,399.1 317.8,457.1 344.7,301.2 316.9,456 306.6,509.4 358.4,322.9 348,343.6 317.5,419.1 339.8,362.4"/>
<polyline class="pt" points="305.4,511.7 337.2,347.9 339.5,407.5 355,345.2 334.8,368.9 314.2,459.7 309.8,506.4 302.6,531.9 349.5,262.5 330.1,390.1 362.6,269.6 326.6,367.3 350.7,335.3 386.4,242.5 333,381.6 361.5,296.9 325.9,399.2 315.2,444.4 349.6,301.6 315.8,427.5 322.1,418.1 298.8,550.9 320.6,472.8 355.5,285.4 311.2,480.3 336.8,329.8 302.9,529.4 336.7,344.5 353.3,309.4 328.6,388.7 312.8,429.8 331.6,384.8 326.8,422.5 310.6,452.7 320.9,437.9 298.8,560.6 346.9,346 337.7,414 320.3,453.5 336.3,327.8 324,411.3 306.5,524.9 321.2,441.4 303,510.9 309.5,477.3 319.5,463.7 362.3,315.2 311.9,467.9 328.7,415.2 334.7,428.9 338.2,412.4 317,456.7 342.2,325.2 312.2,457.7 328.1,388.1 353.4,330.3 322.9,481.1 344.6,389.8 312,467.9 341.4,341.2 314.1,431.1 322.3,389.5 330,422.9 335,372.2 348.7,347.8 352.2,335.4 298.3,556.6 349.7,318.5 348.4,343.9 322.8,448.6 339.5,381.2 329.9,404.6 309.5,489.6 326.7,511.2 322.7,434.2 341.2,384.7 335.5,407.5 313.8,454.2 370.6,256.7 350.2,341.6 304.5,527.7 308.3,520.6 331.1,382.3 308.9,455.4 355.3,347.9 367.2,313.8 336,383.1 349.1,381.1 359.4,328.5 338,375.7 306.6,491.6 314,445.4 341.4,332.7 342.9,424.1 329.4,380.8 346.4,440 313,485.4 340.1,400.9 295.5,569.3 316,487.8 315.8,520 306.6,491.1 347.7,353.9 336.1,392.4 369.7,290.2 336.1,429.7 319.3,407.6 317.2,489.8 356.2,303.8 347.6,365.7 316.9,423.8 335.1,432.9 313.7,456 341.7,364.6 351.4,346.6 337.4,352.1 320.4,456.1 312.7,445.8 319.1,424.5 321.9,422.5 316.9,480.7 299.9,555.7 334.8,404.1 374.7,235.7 325.6,422 354.7,404.5 308.3,458.9 312.8,498 353.5,349.5 314.1,505 362.1,311 313.5,445.5 325.1,327.3 305.1,525.3 358.9,329.1 336.4,465.5 332.4,424.2 327.3,383.5 366.8,269.3 369.8,267.4 361.2,290.5 325.7,465.5 316.3,489.4 315.8,430.5 310.5,453.2 316.7,411.4 324.5,416.3 349.7,343.1 377.2,339.5 311.3,489.5 320.5,492 302.9,504.1 349.4,366.9 318.3,435.2 320.2,399.7 332.4,395 327.5,394.8 311.4,507.5 303.6,536 317.6,432.1 348.2,370.5 351.4,265.5 331,388 344.7,400.9 350.7,357.3 315.4,479.8 352,345.8 343.7,327.7 334.3,411 310.1,504.6 346.6,401.5 360.8,249 346.8,348.6 313.2,423.7 316.3,458.4 332,429.1 327,415.2 321.1,452 355.5,434.6 337.9,414.9 310.7,446.6 321.3,395.1 311.3,510.6 340.5,442.2 314.2,419.9 363.8,347.5 316.9,434.7 343.1,355.4 342,379.1 350,380.5 352.2,357 317.9,431.5 329.6,439.3 369.4,348.7 313.7,474.3 330.5,437.6 340.4,408.7 357.8,327.7 310,512.1 307.6,496.2 339.4,356.4 329.5,432.5 332.3,385.6 344.8,418.5 342.4,325.1 315.1,481.2 331.3,358.3 346.9,306.5 332.3,374.8 318.2,508.2 297.9,553.8 351.5,350.9 346.3,357.4 332.7,421.9 314.8,452.8 346,337.6 310.2,487.5 355.8,372.8 311.9,512.4 338.9,316.9 347.3,426.2 312.8,464.4 346.6,344.6 353.8,302.9 329.1,393.5 351.6,272.7 327.1,406 332.2,422.4 346,291.9 328.3,438.1 318,427.1 354.4,321.3 321.1,426.6 328.7,421.2 299.2,558.9 313.8,471 323.7,375.3 341.5,343.8 307.7,520.5 303,536.8 306.2,526.7 347.6,344.8 316.7,468.8 339.1,359.2 299.1,561.3 309,450.3 353.2,348.8 303.2,536.2 345.2,342.4 346,405.8 309.4,467 340.4,331.5 343.3,363.2 320.3,481.6 308.9,444.4 366.7,256.4 342.9,324.3 332,304.5 320.4,410.6 309.6,498.9 325.7,469.5 313.8,498.1 337.2,373.9 344.7,359.1 352.2,344 373.2,241.2 305.6,542.2 340.6,372.6 356.1,464.1 343.7,383.2 304.3,544.1 317.1,477.1 312.6,491 335.6,362.1 319.1,473.6 324.4,379.1 304.1,524.2 339,363.7 306.3,513.9 304.7,518 368.4,185.4 366.6,213.7 298.5,556.1 331.7,482.8 320.1,488.2 380.7,282.7 313.5,444 322.4,473.4 340,355.2 353.5,269.9 353.1,313.4 322.9,444.7 331.9,391.4 332.6,437.7 341.9,338.4 315,452.6 314.7,496.2 313.3,427.1 353.4,338.4 339.7,412.7 317,445.7 363,316.5 316.2,420.9 322.3,406.6 314.7,495.5 300.1,534 316.3,477.5 344.6,400.3 327,442.8 328.9,440.2 350.2,362.9 351.1,379.2 315.8,452.5 329.2,442.1 337.6,411.4 321.3,479.1 343.1,312.9 314.5,466.4 316,438.7 343.2,351.7 331.8,406.2 349.3,277.4 340.3,341.9 328.3,462 325.3,419.5 309.6,480.1 327.7,439.4 351.7,422.2 345.7,350.9 307,503.9 334.7,432.3 304,514.4 315.3,418.2 330,431.1 334.1,438.3 298.8,560.2 340.8,366.4 332.7,387.2 330.5,380 315.3,490.5 308.8,521.4 340.8,352.3 326.2,391.5 327.1,402.9 334.2,334.7 338.8,386.3 326.1,385.6 332.1,424.4 327.6,429.9 337.3,367.5 353.6,378.6 310.8,438 363,302.7 340.8,376.9 339.5,394.7 360.9,350.8 315.5,448.8 353.8,345.2 326.8,407.8 320.6,476.9 350.1,323.7 335.1,375.5 317.5,441 349.5,346.2 349.9,304.1 323.9,395 295,564.4 324.7,424.6 322.6,416.7 363.4,310.4 351.2,349.7 304.9,527.2 354.9,343.2 318.2,477.8 327.5,450.7 346.2,353.4 343.6,317 357.5,311.2 333,413.3 343.6,333.1 333.8,434.6 324,396.2 327.3,418.8 307.7,544.2 330.9,381 342.1,373.1 322.1,430.5 359.6,316 327.1,415.8 314.9,477.8 300.5,550.8 337.7,397.4 300.8,535.5 348.8,336.3 373.2,278.4 320.1,413.6 314.8,444.1 323.2,447.3 343,369.7 362.8,215.6"/>
<polyline class="pt" points="333.4,382.2 317.2,471.8 312.2,482.9 321,454.3 329.8,394.9 324.8,403.8 349.3,427.5 304.6,530 329.8,444.6 345.2,358.3 336.2,365.6 329.3,444.7 318.4,479.9 342.6,347.2 313.9,465.5 311.5,497.7 319.7,456.4 325.7,454.8 306.2,523.4 342.6,390.1 344.8,338.1 316.6,494.8 353.9,239 295.5,567.4 313.6,462.3 345.4,377.5 321.7,425.3 323.4,403.9 330.8,400.6 325.6,444 350.1,445.7 346.7,337.4 339.9,482.6 301.7,532.2 339.6,379.8 328.3,526.6 339.1,368.6 318.3,432.8 335.9,411.2 323,430.9 312,488.8 313.9,452.5 311.7,478.2 306.8,513.7 316.4,449.6 331.5,420.6 315.1,390 335.2,385.6 329.1,405.9 304.7,530.7 338.2,397.2 309.7,451.7 339.7,380.5 352.1,369.1 328.4,406.9 317.1,493 377.8,237.8 328.8,425.2 358.4,239.5 330.6,384.1 346.7,338.6 348,341.7 318.1,416.6 308.7,466.3 311.2,528.7 331.5,384.6 330.4,348.1 324.8,512.2 318.2,395.2 339.2,395 337.2,385.9 319.5,399.7 332,429.5 318.1,414.9 335.7,375 343.9,270.5 345.3,358.2 302.2,521.4 332.7,451.3 306.8,478.8 340.2,377.4 318.2,484.7 322,391 348.2,337.1 328.7,413.8 324.4,389 329.6,406 299.7,533.2 326.9,436.7 327,429.2 362,264.9 334.6,361.7 308,504.9 322.3,443.1 341.9,357.5 310.2,478.6 313.4,530.9 338.4,346 312.3,437.7 322.4,401.7 310.7,501.3 314,416.8 324.9,471.8 357.3,332.1 332.8,443.6 312.5,433.9 306.9,482.9 350.1,347.6 339.4,401.3 322.5,426 340,287.6 339.9,361 349.1,397.5 353.7,340.2 336.7,419.5 314.2,449.8 384.8,293.4 306.1,529.4 326.3,401.8 328.6,392.9 346.3,467.3 311.5,468.1 336.7,424.9 335.4,402.5 326.2,437.8 306.5,502.1 301.2,534.7 314.2,474.4 322.8,417.8 305.2,515.8 320,447.6 319.8,477.8 311.9,484.2 313.1,472.8 331.3,417.8 313.8,437.4 323.8,432.9 344.5,298.9 340.4,443.3 329.7,441.4 308.3,497.7 348,346.1 304.1,530.9 335.2,408.2 336.2,380.6 345.7,369.9 363.1,311 352.2,335.5 317.4,490.9 325.5,467.1 358.4,327 338.2,369.6 358.8,456.1 311.6,481.9 340.8,330.5 331.9,427.6 317.4,430 351.7,368.7 354.8,248.3 305.5,497.2 303.1,509.2 321.3,430.3 319.4,471.6 330.6,381.4 312.9,488.7 354.6,280.9 340.5,341.4 309.9,448.3 332.3,474 310.3,439.9 356.9,252.2 304.2,537.7 343.3,372.6 338,370.2 308.9,485.4 361.1,323.6 351.5,264 322,446.8 342.8,367.2 333.7,422 316.6,416.7 309.5,525.8 352.9,353.6 375.2,317.5 362.7,302 350.9,323.4 314,463.3 325.5,443.2 363.6,372.9 331.8,449 306.2,515.1 322.5,394 313.8,469.7 311.2,510.7 350.8,360.5 357.1,342.3 335.5,429.6 313,505.5 329.3,380.4 314.5,468.5 323.8,439.5 337.3,353.7 298.6,549.6 319.2,422.3 316.9,454.5 316.6,493 374.7,242.2 339.6,344 337.1,410 330.9,388.3 334.1,425.6 336,365.5 338.5,359.2 366.8,275.4 300.7,554 339.8,402.5 339.2,372.7 324,419.4 327.5,440.8 335.2,385.2 334.4,414 321.1,441.3 335.1,475.9 304.2,533.1 336.6,454.2 358.8,288.3 309.6,487 337,418.5 327.9,474.6 358.7,350 319,429.8 348.8,465.8 354.9,438 312.4,503.5 312.5,505.9 332.9,401.3 302.8,521 307.7,494.4 331.2,369.2 321.7,423.4 341.7,397 332.1,447.9 328.3,396.7 329,451.4 348.2,368.4 342.9,390.1 344.9,371.5 362.9,373.9 335.5,417.5 351.4,335.7 340.5,359.9 338.2,416.2 304.2,521.2 323.5,392.4 310.2,500.8 337.6,313 332.6,436 369.2,285.6 359,316.3 349.5,349.7 313.7,427.8 318.7,412.1 309.2,477.9 295.7,570.3 344.1,364 331.9,371.2 315.3,448.3 315.4,442.4 341.1,448.6 341,393.6 337.7,403.2 311.1,487.7 314,442.9 325.2,408.6 297.9,563.5 326,449.4 342,322.2 313.3,432.4 342.2,347.3 353.6,315.1 353.3,264.9 325.8,421.3 348.5,340.6 299.8,558.3 308.7,490.3 343.4,328.2 324.5,418.7 351.6,348 304,521.9 340.9,369.7 321.9,476.8 342.9,398.9 319.9,483.6 346.2,361.1 346.7,395.9 347.4,350.2 312.7,501.8 319.5,454 367,304.4 352.7,358.2 301.2,531.3 329.1,412.3 329.5,411.7 322.8,472.4 316.3,413.2 332.1,396.8 322.9,414.9 310.4,458.9 355.8,321.9 349.5,338.3 332.7,433.8 353,352.9 337.3,402.9 314.5,471.3 333.4,429.1 315.3,490.1 326.1,395.5 349.5,342.5 334,379.5 341.5,334 316.5,472.5 324.9,470.8 361,345.5 324.9,430.1 295.1,567.6 332.7,407.7 352.6,315.9 322.7,406.9 328.1,399 338.4,420.6 335.4,397.9 325.8,376.8 350.9,289.5 344.3,399.3 359.8,423.8 348.9,364.5 341.5,393.4 372.8,241.8 296.3,563.8 343.7,355.8 350.1,334.4 358.4,347.8 361.1,324 332.7,360.2 347.2,323.9 331.5,428.4 315.9,495.2 329.7,384.7 315.8,484.7 329.3,456.7 321.7,455.3 345.4,409.8 311.5,445.4 315.1,421.5 330,396.6 323.9,441 310.2,445.8 339,340.5 322.1,408.3 304.9,501 329.2,405 315.7,463 321.3,380.7 339.4,374 298.3,560 330.1,378.5 325.1,411.9 324.8,450.6 349.9,358.8 299,552.2 348.3,363.9 372.7,347.2 325.9,451.9 298.3,561.6 299.9,551.2 353.2,296.3 345.4,326.3 327.8,384 344.3,376.9 315.8,415.9 337.6,391.6 323,437.5 326.9,460.9 321.9,431.9 322.3,459.2 343,331.2 347,351 364.4,190.2 333.8,424.9 316.8,489.5 340.9,378.3 310.8,452.5 310.5,469.1 313.5,494.9 333.3,376.8 310.8,440.4 342,361.9 318.6,408.2 358.5,447.4 345,363.1"/>
<polyline class="pt" points="340.8,330.2 314.4,455.7 339.5,378.3 339.2,360.9 305.9,528.4 323.3,447.4 309.1,446.2 361.9,325.7 350.9,312.5 345.2,371.4 328.8,460.3 301.2,529.2 316.7,448.6 344.7,315.3 323.5,455.2 358.4,271 340.3,384.5 337.4,358.8 347.1,330.3 328,464.5 319.6,410.6 306.7,468.2 333.6,426.6 332.7,363 349.8,396.5 321.9,386.7 321.7,439.2 348.2,357 315.5,455.7 341,382.3 323.8,393.6 335.2,386.1 326.8,436.4 309.9,453 318,533.1 370.1,233.1 364.1,368.5 331.9,452.8 347.1,358 320.4,396.4 348.6,319.5 327.7,461.1 381.4,263.6 319.8,392.2 365.9,283.5 330.9,461.7 295.8,566.3 331.2,398.8 334.8,387.5 303,538.2 323.7,476.6 332.1,435 352.9,267.1 357,314.6 349.5,343.1 356.7,333.8 367.2,302.8 342.9,394.4 329.8,437.9 326.7,400.3 340.3,378.5 351.7,359 306,495.9 336.4,379.9 313,474.9 344.5,339.6 342.3,387.6 321.2,441.9 330.5,329.1 321.4,470.3 332.2,452.8 359.7,306.1 299.6,546.9 306.1,499.7 328.6,469.8 325.1,442.9 305.3,496.4 315.3,453.9 327,408.3 330.8,414.2 346.5,314.1 318.8,446.1 328.2,442.9 360.1,270.5 320.9,417.8 345.9,347.4 336.9,381.4 347.1,294.6 335.5,356.9 379.4,239.5 310.3,516.2 369.3,289.2 317.8,536.1 295.8,566 338.2,370 313.7,443.9 331,404.3 334.9,380.5 335,436.5 340,415.8 342.3,386.5 342.9,372.1 337.1,456.1 358.5,295.9 303.2,534.3 357.7,331.8 310.2,464.2 330.1,447.5 328.8,503.6 324.5,427.1 350.8,362.6 357.8,319.1 339.3,330.9 342.3,394.7 349,317.4 326.7,461.8 300.4,532.2 331.7,416.9 334.2,364.2 331.2,377.3 363,276.8 335.8,370.5 327.1,420.4 359.4,297.3 323.2,395.6 367.4,183.2 352.9,332.6 368.6,282.4 316.8,430.7 312.3,481 348.4,364.9 333.3,387.5 368.8,257.2 312.9,437.6 375.8,321 323,391.1 357,333 351.1,397.8 345.8,391.2 332.7,385.9 337.9,385.6 323.7,393 319.4,421.4 329.7,331.8 326.7,434.8 312.9,427.1 340.8,318.4 317.2,494.3 348.4,354.3 347.6,286.6 302.6,525.7 299.3,553.6 336.5,412.5 329.9,438.8 347.2,356.1 358.2,327.9 345.1,326 333.3,334.5 355.3,280.8 359.8,242.5 343.8,384.2 352.3,336.8 366.4,303.1 298.4,556.4 362.4,223.9 305.2,552 304.3,523.3 326,390.4 312.4,482.3 365.9,252.5 349.9,353.9 296,565.1 354.6,389.6 315.1,433.1 323.8,430.3 346.3,293.8 333.6,381.5 319.3,412.8 336,380.4 311.6,509.7 310.7,436.5 347.8,368.6 339,400.3 335.1,379.7 323.7,499.7 298.6,554.7 326.8,444.5 369.9,191.6 345.9,382.6 358.1,323.2 344,298 313.5,459.5 299.1,550.6 325.7,446.6 312.5,498.4 312.8,439 328.7,420.7 363,215.3 312.5,448.3 321.1,452.6 302.5,535.2 349.5,366.2 328.7,452.3 320.5,426.5 330.9,353.3 334.1,421 318,490.6 375.2,196.8 325.2,386.4 321.8,456.2 364.3,299.9 347.1,439 329.6,422.8 350.7,359.5 349.2,341.5 327.9,379.5 353.5,285.1 368.4,315.2 327,417.2 338.6,360.7 329.4,398.4 361.3,385.9 307.3,485.4 352.5,294.9 367.2,219.7 341.1,330.2 332.2,378.5 328.5,431.4 306.9,473.2 351.3,338.1 337.8,367.1 314.6,437.4 333.6,431.5 311.9,508.2 316.2,477 325.1,443.9 300.2,544.2 354.5,345.9 318.8,464.1 299.2,554.4 338.2,361.6 346.8,346.3 345.3,327.1 317.9,483.2 342.7,321.1 341.1,372 298.8,544 342.5,326.5 338.9,389.8 346,318 351.2,323 323.5,421.9 327.3,453.3 352.7,334.8 335.5,387.3 339.3,412 352.8,339.3 328.8,373.5 333.3,378.2 320,463.2 321.8,481.5 297.6,561.3 298.6,558.7 354.7,313.4 325.5,441 346.8,339.5 326,419.8 336.6,416.4 336.7,368.7 368,252.5 344.5,391.3 338.9,352.8 343.4,352.2 326.4,443.2 354.5,325.5 348.1,271.3 299.4,554.2 328.8,450.4 346.3,381.4 326.2,458 353,333.6 344.1,346.4 319.5,459.4 322.7,481.6 317.7,533.5 329.2,340.4 317.1,499.8 307,506.6 332.5,401.9 329.3,420.1 305.7,516 311.7,518.6 302.6,538.7 310.7,511.2 321.9,443.4 345.3,340.9 302.3,518.4 349.7,473.5 316.9,428.7 343.5,344.7 337.3,352 305.7,496.9 341.2,402.9 327.7,383.6 360.7,311.9 335.1,397.2 313.9,469.7 366.3,302.3 340,373.5 306,507.6 302,531.2 329.3,395.8 327.1,449.3 348,327 334.4,399.4 326.5,424.2 330.9,440.6 335.8,426 307.2,491.2 345.3,340.9 338.1,366.3 349.9,318.8 333.8,416.9 351,401 347.1,342 354.7,337.5 360.8,315.7 325.3,387.9 328.4,448.1 351.6,322.1 340.8,356.2 308.1,480.6 326.7,459.5 315.1,464.6 321.7,484.2 325.5,457.4 344.2,365.9 352.1,334.1 311.4,497.8 334.2,434.6 332,401.6 354.8,316.7 321.8,475.1 330.3,431 305.5,503.9 340.2,372.3 350.6,387.6 324.5,444.7 310.6,458.5 310,442.8 299.8,555.1 301.8,548.5 368.8,290.2 308.4,504.1 319.6,475.9 336.3,358.4 310.5,495.5 361.1,317.4 325.7,446.7 328.5,377 358.7,365.2 351.3,432.8 321.2,481.5 319,447.2 317.3,482.2 319.7,514.2 315.1,468.9 369.9,281.7 342.1,372.2 347.2,378.9 339.2,349.4 308.3,518.5 329.8,398.7 343.1,332 316.3,409.4 326,457.4 325.6,396.8 300.7,525.6 309.4,494.1 296.2,565.9 318.6,421.9 314.2,424.1 309.4,546.9 295.9,566.7 311.8,444.3 341.9,336.9 317.5,456.6 325.3,463.8 327.9,460.7 330.1,449.6 347.3,370.1 310.6,452.7 300.1,505.2 310.8,481.7 352.2,341 341.8,319.9 332.9,423.4 320.5,412.6 332.9,373.1 314.1,457.5"/>
<polyline class="pt" points="336.1,418.5 363.1,314 336.8,401.5 299.7,532.6 323.6,443.4 317.3,480.1 318.9,455 311.2,479.3 329.5,407.3 371,341 320.8,425.5 306.2,492.7 314.1,453.7 304.1,522.5 309,496.5 339.1,493.2 363.8,336.5 315.6,461.1 363.7,311.8 344.2,326.6 317,496 362.1,326.8 338.3,364.2 361.6,283.9 315.8,458 344.9,351.4 323.2,402.4 373.5,206.4 334.8,404.3 323.1,398.6 308.4,458.6 341.5,371.8 351.6,274.3 343,324.2 309.5,448.9 353.1,356.4 312.3,479.4 323.6,461.6 366.6,284.8 335.9,381.9 340.9,366.4 314.2,443.8 318.2,485.8 328.8,343 345.5,378.9 349.1,341.4 307,522.2 343.9,378.8 344,355.6 353.1,333.5 346.9,355.6 361.1,307.7 326.8,440.4 362.5,308.5 341.6,411 304.7,504.9 365.3,238 331.3,369.6 377,345.1 318.5,410.2 337.9,424.9 322.6,444.9 322.9,458.7 331.3,427.4 335.8,409.2 355.4,284.4 333.2,368.3 311,462.1 343.3,319.1 324.7,387.7 304.9,492.6 306.6,450.4 366.7,222.8 327.9,400.5 314.1,482.5 306.4,518.2 313.9,476.1 320.9,406.9 362.2,295.9 326.2,382.6 334.2,415.7 371.5,272.1 309.7,460.6 365.4,270.8 349.1,327.7 354.6,353.5 335.5,336 317.9,436.4 363.7,237.3 312.2,442.2 360.1,296.8 301.2,540.1 335.3,447.6 340.7,370.2 335.3,367 311,450.9 337,369.5 379.9,312 328.9,392.2 320.4,398.6 342.6,378.7 326.6,435.8 387,252.2 381.6,278.8 301.3,546 309,446.1 320.7,425.5 305.9,487.8 345.6,375.7 342,336.1 316,444.8 331.9,386.8 336.6,406.1 317,411.8 309.6,471.2 315.3,465.2 333.8,425.7 322,458.9 318.7,416.9 320.7,455.6 323.1,408.9 357.9,339 357.5,322.5 333.3,389 332.2,365.3 329.8,393.8 311.4,474.5 351.4,351.5 337.3,387.4 339.4,368.2 324.2,427.8 337.9,502.9 310.9,467.8 317.3,488.3 318.3,412.6 338,349.3 350.1,326.6 337.4,291.2 338.4,377 327.9,405.3 350.4,315.4 318.7,464.7 334.7,460.1 325.5,467.4 344.5,344.3 301.4,549 330.6,424.7 347.7,342.2 307.5,486 370.2,351.9 295.6,567.8 310.2,511.5 323.8,454.8 314.8,450.1 312.2,435.4 323.1,409.8 358.4,301.4 331.8,372 295,566.8 311.3,503.6 346.9,337.4 355.6,332.2 321.5,436.7 322,427.1 345.4,429.6 336,359.3 330.6,418.8 325.7,419 329.2,456.7 323.3,434.9 344,370.8 318.5,477.6 337,418.8 311.6,492.9 336.4,379.2 296.8,563.7 299,558.9 317.3,438.6 341.4,362.2 320.9,411.4 304.8,529.6 316.2,441.2 323.6,415.9 326.4,494.1 336.2,420.6 338,399.7 317.9,475.5 344.8,349.1 351.7,354.1 333,452.9 349.9,332.9 352.4,302.2 308.5,459.9 330.2,446.1 321.2,456.1 324.6,354 349.3,360.8 352.6,315.7 346.1,384.4 332.3,398.9 372.7,212.1 320.9,428.5 339.5,381.6 322.3,343 307.3,494.4 337,340.2 349.2,351.9 314.7,533.6 309.8,477.3 355.7,257.7 308.2,463.5 325.1,432.1 328.7,349.4 317.6,458 321.3,472.5 334.5,359.8 361.4,321.2 357.7,342.6 316,444.3 357.1,291.6 316.1,476.8 369.3,320.2 347.5,312.8 323.1,410.9 333.3,442.6 324.2,424.4 345.3,362.6 339.5,349.9 337.8,327.5 366.4,229.6 323.5,393.3 343.9,451.1 350.2,352.5 313.9,456.4 344.1,385.5 359.4,414.8 317.8,486.2 323.4,394.8 346.7,333 351.3,273.6 345.7,367.8 344.4,323.4 339.3,364.4 320.7,451.6 347.8,343.3 324,475.8 341.5,346.8 339.2,412.1 345.8,329.4 331.4,385.3 303.9,509.3 321.2,379.6 315.5,415.5 306.6,540.5 334.2,507.5 348.2,345 334.9,395.7 311,506.9 314.5,488.9 342.8,355.6 360.5,296.2 310.3,442.4 329.7,403.3 334.2,400.8 339,361.8 314.6,446.6 297.4,562.6 324,453.3 308.3,475.7 338.6,374.3 322.8,429.4 322.6,449.8 301.7,534.8 371.6,261.1 338.8,375.7 353.1,349.6 326.6,447.5 347.9,298.6 312.4,463.2 356.5,319.5 359.6,298.4 345.8,341.3 304.7,529.8 348.5,364.9 326.6,425.7 312.5,467.6 346.9,316.9 334.4,379.6 309.7,457.4 321.1,422.7 343,383.3 310.6,497.6 345.1,328.9 375.2,218.2 317.9,486.7 312.4,461.9 338.1,381.9 315.4,486.9 326.9,482.3 303.3,501.6 341.6,357.1 297.8,556 352.4,262.6 306.6,485.2 349.8,367.9 305.5,492.3 325.5,380.3 320.9,481.9 325.7,390.9 316.7,434.3 364.1,279.9 329.2,374 302.3,542.5 343.2,388.9 313.4,447.8 318.5,423.2 335.6,365.7 375.9,195 331,399.1 309,492.7 336.4,414.2 340.5,402.2 338.7,375.7 317.6,490 323,390 385.9,227.6 331.8,384.3 308.9,476 314.6,457 302.3,528.6 302.1,518.8 342.3,397.9 318.6,434.2 358.2,325.7 347,333.9 327.8,397.1 318.9,463.9 309.5,480.5 311.1,480 330.3,433.4 321.7,474 338.3,353.2 330.9,438.3 357.9,316.6 320.1,509.2 352.4,402.8 349.6,321.4 317.2,442.7 320.3,444.3 330.9,380.2 379.1,239.9 305.2,530.3 327.6,402.5 313.7,440.1 321.6,400.1 352,306.3 314.3,428.9 341,354.9 324.1,400.7 336.8,345.5 338.9,401 332.8,394.7 300.6,551.5 344.4,308 330.2,460.1 328.8,431.1 333,466.3 310.6,462 313.6,449.3 329.2,399.7 300.6,549.7 343.8,334.5 344.6,311.7 311.2,465.2 325,418.7 356.3,316.5 339.1,377.9 345.2,353.5 349.5,329.7 346,304 333.1,389.9 360.6,278.2 345.7,418.7 384.9,276.2 355.8,345.7 321,451 302.8,538.5 335.4,401.4 350.4,369.7 337.5,470.3 332.9,361.4 298.1,559.8 314.3,476.3 327.5,382.7 353.4,349.2 352.8,320.4 339,408.8 327.2,381.1 356.2,338.5 325.5,406.3"/>
<polyline class="pt" points="312.9,485.6 337,397.4 364.6,312.5 331,374.4 311.7,456.6 356.2,324.7 331.8,395.8 321.7,476.5 356.5,336.6 312,449.5 309.7,530.7 329.9,392.5 335.2,397.6 324.7,391.9 362.7,338.5 343.3,370.2 337.9,375.6 363.9,312.7 354.2,373.1 321,401.2 310.2,527.3 310.6,487.1 350.1,281.6 312.6,499.8 343.5,431.4 330.5,405.2 326,415.7 314.9,430 352.3,253.1 352.3,329.5 344.7,319.8 332,404.8 326,413.9 353.2,381.8 314.1,461.5 313,502.6 320.9,482.6 326,419.4 333.4,385.9 339.4,370.6 301,554.9 323.9,459.8 310.6,465 298.4,562.8 333.1,395 316.4,494 338.1,323 330.3,445.6 343.7,330.6 314.5,470 322.8,452.3 333.5,434.7 350.5,358.3 329.1,432.3 311.7,498.9 327.9,392.2 348.1,307.3 319.7,397.5 319.7,423.1 328,367.6 387.2,272.8 321.9,520.2 330.8,480.9 310.5,505.7 359,275.1 340.7,417.9 376.4,325.8 296.9,564.5 344,320.1 317.6,439.4 323,469.4 310.5,491.2 317.5,413.3 302.5,526.8 325.8,461.9 318.7,469.3 356.8,310.6 332.8,428.4 309.8,439.9 323.4,467.5 314.4,462.5 307.4,484.5 319.6,464.5 349.6,340.9 337.9,417.2 356.1,323.3 333.8,367.7 302.9,519.3 335.9,427.4 353.6,293.8 333,364 332.6,364.3 312.3,515.4 309.7,462.3 316.1,451.1 332.1,412.3 362.6,310.8 330.2,388.8 351.4,288 303.2,520.7 340,377.7 313.2,455 338.1,356.7 334.6,409.6 331.8,385.1 368.6,283 352.7,296.4 334,345.6 357,330.9 319.8,405.4 370,278.9 301.1,549.8 310.5,457.2 377.7,231.3 352.7,354.6 324.6,404.5 338.5,345.3 332.7,486.3 311.4,473.4 329.5,445.5 381.7,295.4 346.4,327.6 340.1,394.5 351,457.3 312.7,454.6 313.1,452.3 353,313 335.1,362.1 322.1,434.5 327.2,416.7 321.9,366.9 325.8,387.7 334,385.8 350.7,386.9 348.7,361.2 318.4,400.3 347,366.6 323.6,417 359.5,355.1 306.8,486.7 334.7,429.3 359.2,433.4 318.2,472.1 300.5,555.4 348.4,330.2 298,547.2 356.9,293.5 346.7,268.4 350.4,377.1 380.9,204.2 327.5,402.2 361.7,317.6 316.7,455.9 322.8,454.3 336.5,376.7 333.6,392.5 328.6,422.1 312.3,449.7 301.8,524.8 329.1,423.7 330,425.9 332.7,408.2 311.9,475.2 328.9,376.9 317.1,428.2 355.3,361.8 332.6,442.6 314.5,467.2 322.1,403.6 322.2,447.9 344.1,364.1 344.4,350.5 339.7,337.7 333,386.6 338,354.7 333,382.3 311.3,474.8 304.2,505.3 329.6,455.7 310.2,513.6 315,419.8 308.6,485 319.2,465.5 347.8,330.1 352.1,338.7 325,423.6 340.9,422.5 318.3,434 368.9,284.6 323.7,392.6 337.8,344.2 317.2,451.2 342.5,359.5 348.8,354.9 296.4,557.7 336.2,408.8 321.5,475.1 370.7,375.7 331.1,413.1 325.3,423.6 340.5,364.9 335.6,371 355.1,344.4 317.9,454.7 329,386.2 328.8,474.1 353.6,316.7 317.8,423.2 328.1,383.5 374.6,234.4 344.6,389.2 328.8,420.1 329.8,459.7 311.4,448.5 344.7,389.7 346.7,377.2 330.8,379.7 304.6,523.1 365.4,303.3 314.6,463.2 386.6,273.7 331.9,385.1 351,244 339.3,385.5 307.1,518.5 349.1,395.9 305.5,549 314.9,435.8 328.6,441.5 329.7,456.9 349.1,343.7 360.2,213 331.5,388.9 312.5,430.7 311,461.8 311.8,471.9 332.6,466 329.6,393.8 301.3,555.4 302.9,533.7 336.4,373.7 326.5,435.5 320.3,502.9 312.3,474.7 328.9,432.6 330.6,403.2 364.1,313.8 335.9,410 332.8,397.5 348.3,316.1 362.8,225 315,420 321,482.9 303.8,520.5 310.8,496.1 354.1,267.9 324.3,372.5 340.9,357.2 331.3,365.3 378,244.4 306,490.1 306,507 342.8,385.3 320.1,489.1 315.8,444.3 357.7,326 323,423.2 352.1,334.9 351.6,309.6 342.4,398.1 351.3,356.4 313.1,449.5 337.8,400.7 351.2,293.5 335.2,505.1 359.9,364.9 313.3,437.9 328.9,429.6 323.3,495.5 355.3,335 328.1,391.2 313.3,479.4 337.4,346 355.9,268.7 311.3,468.4 328.6,431.6 353,300.9 347.8,375.2 334,399.7 319.9,425.6 334.4,330 320.3,420.6 357.9,299 314.1,437.1 316.5,433.5 352.6,346.7 341,363.5 332.8,397.1 347.2,330.6 300.7,534.4 342.8,349.4 340.3,393.5 324.2,365 320.1,481.4 325.2,425.8 349.1,372.2 328.1,413.4 309.9,477.9 308.4,459.6 315.5,449.6 342.6,351.3 329.9,440.6 304.8,493.3 374.5,349.4 338.2,324 329.9,441.5 333,437.7 353.1,255.2 334.8,383.8 312.1,467.3 312.1,454 347.2,329.1 346.7,416.2 340.8,303.9 322.3,397 335.1,462.8 310,513.4 311.8,465.3 314.2,449.9 298.5,558 346.4,363.9 313.5,441.8 339.5,390.3 315,427.9 346,340.1 332.6,440.8 381.6,330.2 322.9,398.2 347.9,369.2 318.1,443.3 315.3,418.6 315.8,480.9 355.6,323.9 318.8,453.8 340.6,402.4 322.7,451.4 318,443.3 348.5,331.4 314.7,457.5 319,480.5 313.3,497.3 311.6,524 356,326.1 337.4,349.7 348.5,335.2 315.5,426.5 320.4,472.8 306.9,524 333.3,413 314.3,463.8 329.8,408.4 340,337.8 315.2,526.9 312.5,480.2 328.3,412.4 314.1,504.5 326.2,486.8 311.9,479.1 334.9,332.7 334.1,413.6 316.9,417.8 339.5,382 310.6,506.5 347,369.8 334,411 352.8,350 349,326.8 311,499.4 317,437.2 296.2,563 332.5,389.3 319.5,481.4 298.8,549.3 358.5,243.5 317.9,473.8 328.1,392.1 312.1,509.1 344.8,412.1 311.2,470.5 341.8,399 330.9,442 296.7,561.2 323.3,389.2 325,413.9 307,479.6 362.8,318.4 315.9,442.4 340.8,338.4 345,355.9 309.1,505.4"/>
<polyline class="pt" points="339.6,345.4 298,553.2 308.8,444.8 344.8,325.1 348.7,312.6 310.3,486 324.9,450 312.1,463.7 339.8,406.4 362.1,220.3 334.4,392.8 341.4,344.6 320.1,448.5 349.1,434.8 327.9,424.6 344.3,389.6 362.6,306.4 359,418.3 327.7,381.6 322.5,474.5 347,357.5 335.8,409.9 356.8,383.7 357.1,335.9 332.1,372.9 353.4,355.4 386.7,250.7 338.9,355.1 318.6,434.8 342,374.9 339.5,334.8 328.2,392.4 313,426 301.7,550.2 330.1,404.5 352.2,340.8 348.4,325.4 324.1,454.8 390.2,240.8 307.6,508.8 341.9,339.7 327.8,362.8 323.2,473 358.6,330.5 361.3,301.3 317,466.3 345.9,334.8 333.7,400.4 351.6,352.3 319.3,454.5 329.3,447 309.7,503.3 360.6,254.6 336.1,378.1 321.9,432.3 326.2,473.6 354.9,286.7 368.9,288.6 328.3,419.5 334.4,416 364,333.2 346.1,319.9 341.7,374.9 365.5,305.9 302.9,514.2 310.5,476.7 340.6,393 321.5,460.2 305.4,519.9 322.9,406.1 354,455.2 300.5,543.4 343.3,348.5 325.8,469.9 343.2,347.5 324.4,420.5 315.6,472.7 307.7,472.3 344.5,365.2 333.8,417 316.8,448.8 329.6,403.9 324.9,430.8 341.5,343.3 312.3,496.5 338.1,345.7 333.8,498.2 342.2,403.8 345.8,308.6 336.5,455.2 305.4,503.4 299.1,536.7 319.4,450.6 352.4,251.5 310.6,500.7 328.6,435.8 310.9,508.1 338.8,376.4 323.8,428.5 346.7,359.7 348,371.7 338.8,431.8 341.7,404.4 312.2,453.3 314.7,437.2 346.5,359.5 363.1,278.5 324.7,408 341.9,394.6 338.9,415 354.8,301.9 335.9,389.4 311.7,493.6 311.5,440.1 345,374.2 311.5,483.5 357.1,324.1 332.1,406.6 304.5,531.6 314.1,472.1 309.3,507 335.3,403.3 305.7,537.7 299.9,548.2 317.1,438.4 342.6,382.8 325.3,472.6 351,363.2 310.5,510.5 318.6,452 320.2,420.1 350.4,331.6 322,394.6 312.8,502.2 311.7,494 324.1,403.6 344.7,347.6 326.9,371.5 324.8,430.9 340.1,395.8 337.9,419.5 356.4,297.6 334.8,381.3 362,313 326.9,468.5 309.3,489.9 309.1,459.9 327.7,392.6 349.6,424.5 332.7,387.7 363.5,292.8 310.1,459.3 318.7,435.4 313.6,450.3 299.1,541 298.6,557.2 342.7,367.5 327.2,462.2 340.6,399.1 321.9,419.1 351.4,351.9 327.3,384.2 316.5,457.1 355.7,369.8 337.8,409.3 334.2,365.1 358.7,468.2 310.7,440.1 322.1,426.7 319.4,373.8 311.8,440 311.2,449.2 299,554.1 310.5,492 312.5,475.4 347.4,347.8 321.5,425.7 298.7,558.2 332.4,445.2 320.4,418.2 298.6,552.7 326.1,409.8 343.4,299.6 351.8,275.2 328.1,454.8 305.3,489.4 331,407.5 332.4,478.5 318.4,428.2 331.3,388.4 322.1,398 343.6,416.4 347.4,306.7 326.4,456.5 362.4,299.2 327,413.7 347.5,332.4 319.5,433.6 323.1,451 321.4,471.9 294.8,569.2 333.2,380.2 333.4,428.1 333.3,346.2 376.7,212.3 358.9,310.1 318.5,416.3 321.3,408 332.2,381.7 353,318.1 324.4,389 338.2,388.2 316.7,513.3 336.2,410.5 316.2,448.8 343.6,393.2 348.1,330.1 335.2,408.3 330.3,317.4 337.5,403.5 326.2,413.3 320.8,404.3 358.6,324.3 336.8,373.6 316.7,462.6 319.4,441.2 330.4,370.6 354.5,332.9 334.6,414 333,361.4 314.9,433 346.4,448.9 315.2,423.3 347,352 366.8,288.9 341.5,394.7 370.9,258.4 335.7,354.6 364.1,299.9 315.8,451.4 310.8,510.4 325.8,390.5 318.1,455.9 320.5,398.5 363.2,277.1 367,212.7 336.4,403.7 354.5,276.4 347.8,348.2 369,256.1 341.5,327.4 309.7,500.4 350.8,313.7 355.6,359.6 321.1,407.3 319.9,464.9 309,489.3 319.2,504.5 311.3,483.5 364,266.5 348,325.3 319.2,471.3 312,463.5 361.3,291 317,509.8 317,492.1 297.7,561.8 357.3,320.7 328.5,459.2 302.2,547.9 323,439.9 338.2,348.5 337.6,406.8 307.5,473.3 325.5,461.3 326.1,439.6 325.3,425.2 337.6,410.3 358.7,356.4 361.2,364.7 346.8,341.7 343,363.8 313.2,457.2 349.7,301.6 336.3,335 338.4,351.7 340.3,361 326.9,412.5 337.1,345.8 333,387 328.2,392.7 358.3,322.4 342.6,357.9 331.7,381.3 328.4,424.2 362.7,292.2 324.4,469.6 323.9,363.6 359.7,308.4 346.8,321.2 311.8,484.9 349.2,292.3 342.1,390.2 346.5,337.3 347.7,291.4 366.7,330.2 306.4,514.1 334.4,365.3 318.7,461 309.7,488 331.9,439 342,365.8 353.8,284.1 322.2,478.8 310.7,482.5 320.9,476.6 323.2,396 324.1,433.5 324.6,400.1 304.7,508.2 323.7,409 306.7,498.6 297.1,568.4 346.3,287.6 313.8,458.2 317.5,411.6 316.3,473.8 320.8,443.5 331.5,372.9 315.9,495.9 332.5,406.9 345.1,382.8 316.6,443.7 295.4,566.4 342.5,374.9 345.6,345.9 351.2,351.2 339.7,413.9 327.6,415.2 320.9,401.9 307,483.8 308.4,519.8 353.4,299.1 338,413.4 359.7,310.2 368.6,344.4 306.9,507.8 340.8,406.2 313.4,436.9 338.1,438.7 324,470.7 306.3,523.6 339.6,354.1 319.1,408.5 364.3,242.5 353.9,333.9 308.5,479.9 346.8,391.6 304,510.1 349.7,311.4 312.4,474.3 309.2,486.4 367.4,306.4 301.4,546.3 322.3,471 325.2,389.1 319.5,438.4 356.1,263.4 332.2,380.7 325.1,406.8 310.2,516.3 318.5,440.9 344.2,335.2 302.2,533 338.4,292.1 370.2,316.7 337.2,378.4 320.3,400.2 340.7,365.5 363.5,324.7 335.6,416.3 324.3,383.3 308.3,504.4 337.7,353.6 330.2,331.5 334.5,383.8 312,426.2 310.9,471.6 299.1,560.3 317.8,450.1 357.6,328.7 339.3,284.5 338.1,400.1 323.1,475.2 336.9,378.1 332.2,371.2 350.8,356.9 338.2,405.1 306.7,508.4 321.6,449"/>
<polyline class="pt" points="319.8,436.1 301.2,549.4 337.6,344.3 320.6,434.5 328.8,405.6 357.7,276 327.1,457.1 350.6,294.5 298.7,553 321.8,461 320.2,469.2 357.5,340.1 308.5,511.8 338.6,286.1 313.6,503.3 319.2,472.3 314.3,460 342.6,368.1 336.9,401.8 346.6,361.3 301.3,537.9 325.1,466.5 321.6,415.5 308.6,487 324.6,410.4 344.2,345.5 316.9,488.1 307.7,512 314.6,474.2 350.7,337.8 355,267.6 360.2,305.6 338.6,393.9 326.6,387.9 337.2,419.6 299,560.9 331,494.6 343.5,352.6 300.2,537.8 347.1,361.9 320.4,428.6 316.1,417.4 310.7,452.7 319.5,457.8 321.8,493.2 298.1,563.6 300.8,550.1 307.9,515 344.1,331.3 313.3,474 312.3,424.9 335.9,294.4 363.3,314.5 324.8,442.1 318.8,459 329.6,411.9 339.3,348.7 324.9,395.4 308.2,516.8 325.6,475.1 338.8,376.5 332.9,372.4 354.2,359.2 320.1,478.6 315.2,403.6 336,376.1 307.7,500.6 299.6,553.8 336.4,392.7 320.4,469.9 309.8,507.5 345.5,368.3 348.4,368.1 311.2,457.7 305.2,497 350.8,320.2 333,410.5 322.7,471.9 320.5,460.9 340.1,270.6 317.8,503.1 353.1,421 321.5,419.1 336.8,414.3 330.6,409.4 321.1,391.7 331.5,383.7 309.4,441.5 326,432.1 337.1,421.1 339.7,393.5 333.3,452.6 343.2,289.8 349.3,328.7 327.3,409.8 301.4,540.8 322.2,416 304.7,502.1 355.4,336 309.3,491.5 319,467.8 309.5,479.6 338.9,377.1 364.4,296.7 308.7,479.8 321.3,476.1 309.1,491.8 371.2,246.4 332.1,424.9 313.6,435.7 298,555.9 326,434.2 346.6,353.1 316,419.8 315.2,498.1 314,429.2 329.9,419.2 300.6,555.2 317.5,447.7 316.2,427.1 310.8,501.8 328.3,430.6 307.6,472.9 359.3,400 358.1,453.7 338,408.9 324.9,402.1 330,479.1 355,345 341.7,351.2 339.7,379.5 296.5,565.3 323.9,429.4 345.2,383.7 350.6,272.3 320.2,473.2 307.4,508.5 330.2,476.5 327.6,404.2 355.3,384.2 306.9,512.3 318,483.9 330.7,422.2 338.1,472.1 357.9,336.5 350.6,388.8 333.5,381.7 343.8,322.5 300.1,559.7 325.9,430.2 323,478.3 329.3,383.5 326.5,467 327,396.1 344.3,386.4 343.6,328.4 297.1,565.3 335.5,379.4 353.2,318.2 342.5,391.5 349.3,424.4 321.1,380.1 343.6,380.4 312.2,480.3 324.5,458.9 309.6,441.9 380.4,225.3 333.9,434.9 321.4,422.4 347.1,342.4 330.4,337.7 383.8,192.5 344.8,328.1 344.4,386.5 348.5,334.2 317.6,475.4 331.2,443.4 363.5,346.8 314.7,466.8 334.6,405.8 331.7,412.9 315,465.6 318.4,413.7 344.4,317.7 306.7,500 330.7,399 348.3,346.3 317,415.2 333.8,343.1 325.4,407.5 331.6,423.5 336.2,360.7 357,311.4 344.7,362.4 348.9,314.5 330.9,436.7 346,360.3 329,393.2 338,357.9 324.9,390.6 329.7,430.7 342.4,356.6 380.7,268.1 326.9,391.1 324.5,417.6 351.7,239.7 354.5,331.6 322,433.2 328.8,391.3 338.8,401.1 336.8,383.2 353.6,329.4 312.2,490.9 329.3,461.7 351.4,339 350.2,480.6 331.6,406.5 317.7,424.7 333.4,378.1 317.4,482.2 319,470.4 347,362 299.3,557.5 345.3,324.7 327.8,403.1 356.8,425.3 372,268 320.8,451.2 326.9,420.8 350.1,370.6 364.1,280.2 330.5,368.6 331.4,433.4 320.1,403 339.7,362.7 306.3,458 353.6,444.7 309,460.3 354.2,303.8 311.8,473.5 334.4,371.6 333.2,395.2 324.9,470.5 349,341.4 321.1,450.2 295.2,567.2 312.7,468.8 342.4,325.9 312.2,484.5 362.6,234.6 323.8,446.9 317.9,421.2 331.6,398.5 325.6,401.4 343,469.8 340.6,317.5 342.2,349.7 358.4,271.4 376,342.9 331.2,420.8 316.7,429.2 333.6,420.2 318.3,404.9 347.5,331.8 327.2,418.9 365.9,305.3 336.6,388.2 343.9,348.1 357.4,307.2 341.8,370 317.9,473.1 316.1,436.3 325.2,389.8 314.3,461.1 323.2,421.6 328.3,446.4 327.5,396.8 326.8,405.8 336.3,474.8 317.2,430.4 356.7,262.2 316.7,476.5 322.6,460.4 341.6,364.2 319.5,359.7 318.9,407.7 342.8,376 318.3,452.2 325.4,468.8 335.9,355 348.7,345.7 346.6,363.3 320.8,446.4 365.8,259 306.2,505.6 299.6,543.2 322.6,482.1 336,390.5 308.2,496.6 299.4,550.5 319.1,413.4 320.6,410.8 323.6,391.5 347,341.8 350.7,332.2 329,418 330.9,378.6 322.3,453.8 327.1,507.7 338.6,385.8 360.2,292.5 315.2,438.8 355.9,314.7 312.2,478.5 313.7,499 325.3,504.3 313.9,470.4 356.5,296.8 348.6,344.2 358.4,376.4 310,458.4 323.5,338.3 321.2,472.3 309.4,471.1 317.8,453.9 320.4,423.9 313.8,436 337.6,405.6 324.8,410 315.4,460.5 325.7,349 331.5,501 335.7,395.2 325.9,438.8 335.6,407.8 333.3,355.3 324.7,402.5 307,466.8 305.8,501.7 298.8,550.4 357.5,385 319.8,485.6 340.9,400.1 356.4,382 343.3,376.1 337.2,439.1 357.8,321.6 337.2,359.1 310.6,446.2 331.4,400.4 343.5,356 348.6,335.8 361.1,227 321.7,456.4 318.9,462.8 318.3,409.5 348.3,346.6 342,336.5 346.7,283.9 313.6,519.4 311.7,510.3 322,447.8 306.5,485.8 324.9,431.6 368.7,244 334.2,416.4 321,470.9 315.8,498.6 351.2,349.1 331.5,407.1 320.6,439.7 329.4,414.6 297.3,560 313.5,446 355.3,332.4 314.4,481.7 337.7,354.2 309.9,455.8 363.9,316.1 343.4,322.7 357.7,333.1 320.4,401.6 351.1,339.2 341.2,315.8 369.1,311.2 341.1,340.3 354.3,324.8 341,387 339.7,392.2 360.3,285.8 326.4,418.6 309.1,498.8 341.4,402.2 342.8,386.2 317.4,448.3 314.1,432.1 331.4,441.8 349.3,322.1 314.4,444 339.7,350.5"/>
<polyline class="pt" points="342.5,395.2 318,429.7 321.6,476.7 318.7,409.7 313.1,432.7 353.9,315.9 311.3,511 315.8,444.7 350.1,335.7 330,438.1 319.9,420.9 321.1,434.8 317.4,446.4 344.9,323.2 345.6,382.9 347.7,438.4 358.8,238.8 308.4,516.3 323.3,417.4 324.6,431.2 311.3,456.6 326.7,459.8 356.8,261.1 311.4,446.4 327.8,384.8 306.5,502.9 338.8,402.3 348.5,277.7 324.2,439.4 319.8,461.6 344.1,359.6 331.5,391.3 355.3,312 299.1,551.7 353.3,321 295.2,570 379.8,313.2 361.5,384.9 339.4,353.2 336.5,387.3 338,451 349.3,340 335.7,500.4 351.1,299.4 333.3,414.8 317.9,448.9 303.3,535.6 324.1,430.1 350.9,342.9 345.2,357.1 322.9,436.7 344.4,376.1 312.4,520.8 347.9,411.7 355.8,324.3 298.3,553.6 347.6,349.4 349.1,302.7 348.6,362.8 328,389.8 303.7,516.6 332.9,440.7 339.2,387.9 340.9,396.3 317.4,439.5 307.6,493.5 349.4,352.3 323.3,442.2 335.2,373.4 349,393.9 366.1,359.2 342,344 325.5,391.7 309.3,472.4 331.8,449.2 299,561.7 341.6,378.8 349.8,314.2 351.7,347.2 330.5,412.4 338.7,367.7 339.9,372.1 358.6,439.5 307.6,491.5 350.1,350.7 312.1,466.9 328.4,441.2 318,411.8 338.1,376.5 326.6,453.4 336.4,413.1 334.2,380.8 333.3,471.8 330.3,482.2 377.3,310.7 325.6,393.2 348.3,331 322.4,486.6 331.3,405.6 305.4,528.1 338.4,427.8 311.7,487.9 315.2,415.7 357.1,302 332.1,398.5 312.5,460 324.4,437.4 325.3,429.7 320.7,414.9 383.8,287.2 326.9,433.2 332.4,326.5 344,337 337,387.7 323.6,466.8 328.6,348.5 333,435.1 343.2,372.6 321.2,410.9 332.5,366 305.7,509.5 354.1,386.5 298.3,554.6 308,500.5 354.4,283.2 309.4,506.3 344.2,386.9 330.1,402.9 320.7,424.1 340.4,366.9 320.2,410.3 346.3,307.7 325.2,470.2 351.1,398.6 340,411.1 364.6,313.6 329.7,502.8 303.3,519.7 356.9,280 371,295.9 352.8,407.5 331.2,432.2 335.3,406.9 352.9,370.3 315,431.2 315.8,420.4 332.9,443.5 337.6,393.6 309.4,473.3 324.5,409.2 324.5,426.9 342.8,397 342.2,395.8 327.6,434 296.2,568.1 345.4,365.1 311.4,493.8 347.2,308.8 334.9,400.9 314,475.6 333.8,379.1 354.4,338.9 315.8,421.6 367.6,276.9 337,356.7 326.3,438.6 300.7,551.1 312.1,462.5 309,495.8 339.1,415.2 337.6,339.3 322,448.1 340.6,375.3 356.7,411 346.3,353 318.5,464.5 322.8,464 306.2,501.9 354.5,304.8 350,328 357.2,329.7 333.3,426.1 327.7,428 346.6,380 329.8,349.5 313.6,430.3 354.4,286.3 347.4,301.9 306.9,489.1 300.1,551.6 320.5,439.2 315.6,455.7 322.5,469.2 301.5,545.4 302.9,522.3 298.4,559.5 341,405.4 357.2,301 316.3,507.9 334.3,436.6 362.7,414.1 374.2,260.5 329.9,422.9 314.7,512 327.1,431.8 346.1,376 339.1,410.1 326.7,405 336.3,436.7 319,400.9 373,350.4 338.6,347.9 348.4,340.9 325,416.2 354.1,463.6 369.3,368.6 309.9,494.5 302.6,548.1 316.9,461.2 301.3,524.6 326.4,458.4 336.9,421.3 349.3,411.6 299.9,521.7 338,400 315.7,492.3 329.4,429.5 356.1,357.4 311.9,502.4 350.1,360.3 355.5,320.5 301.4,540.3 346,305.5 339,382.2 329.9,378.1 328.5,446.6 339.8,386.7 306.2,487.9 386.1,180.8 338.1,455.6 334.3,380.5 304.9,496.6 305,530.3 359.6,305 342,411.2 343,348.9 347.7,360.6 317.6,537.1 322.6,440.2 311.2,455.8 341.7,344.4 333.8,366.9 345.9,372.8 372.4,305.8 331.2,368.9 307.6,493.8 321.1,475.5 340.1,403.4 337.1,374 302.2,521 299.1,561 327.9,464.8 315,486.6 338.1,362.5 320.2,483.7 302,517.6 343.1,343.2 350.8,335.3 345.7,321.6 344.7,324.5 347.1,289.1 352.2,321.8 340.6,365.9 320.8,467.8 328.2,450.8 317.5,435.2 330.9,372 342.1,361.1 305.2,521.6 335.8,407.3 349.2,318.2 330.7,369.5 326.1,403.8 310.6,447.9 333.6,367.9 317.3,419.9 332.4,364.6 342.8,333.5 305.6,517.5 315.8,419.4 351.5,345.4 317.6,469.8 337.3,373.9 363.7,281.5 324.3,391.1 332.5,457.7 373.6,183.4 314.1,469.5 327.9,464.3 314.9,451.6 317.6,413.6 333.8,377 331,455.1 314.6,479.2 369.3,295.4 332.5,371.4 325.9,386.3 326.8,461.4 348.7,314.3 327.5,450.1 298.1,562.8 327.6,443.6 310.4,473.8 327.8,431.4 307.7,469.5 323,495.2 302,539.1 367.7,259.3 352.2,354.7 315.9,470.6 358.2,259.1 308.3,482.8 333.5,364.4 332,418.9 342,331.1 313,506.7 354.7,346.8 300.6,541.7 317.6,418.5 308.8,507.2 319.2,432.4 351.7,346.7 317.6,420.9 338.5,406.1 370.4,230.4 355.2,342.3 350.1,348.3 331.6,429.5 327.9,369.2 325.3,391.1 316.9,462.7 321.9,455.4 294.6,569 301.8,546.7 308.7,519.5 318.4,444.7 340.3,396.4 319.6,451.3 319.9,448.6 355.8,333.1 341.6,337.3 311.4,485.1 344.7,331.8 318.1,417.2 308.7,450.6 310,504.8 361.4,267.1 361.6,285.2 356.1,303.1 300.3,551.8 319.8,404.2 362.1,318.9 358.8,377.3 331.1,404.7 353.2,334.3 357,341.2 358.4,357.2 340,399.4 335.3,379.4 334.2,394.4 313.2,499.6 368.7,336.5 321.8,441.2 320,473 337.3,371.4 337.3,398.2 297.3,559.8 327.1,453.5 320.6,416.8 336.9,424.8 323.5,388.3 345,381.4 341.7,444 320,478.4 310.4,510.9 312.3,500.8 358.1,317 350.7,327.9 305.7,475.6 349.1,455.7 300,552 316.3,400.3 302.8,532.8 317.7,426.8 299.1,560.4 338.6,367.9 348,467 340.5,374.5 297.1,565.7 324.2,470.8"/>
<polyline class="pt" points="327.6,458.5 301,547.3 323.8,342.8 353.6,330 341.8,353.5 331.3,436.1 333.9,376.9 342.7,399 320.1,428 356.5,346.4 339.4,354.6 320.8,425.7 308.6,484.9 335.6,411.3 310,460 356.6,403.9 305.7,512.1 317.4,449.8 343.1,382.3 312.7,429.2 362.1,295.2 344.5,376.2 371,310.4 352.1,454.3 310.1,448.9 336.1,400.8 331.6,378.1 317.6,448.8 321.8,407.3 334.4,443.6 350.3,296.4 343.1,371.5 320.8,475.5 313.5,455.1 356,319 339.4,407.7 327.3,412.6 333.5,437.3 332.7,406.1 356.9,340.6 343.4,383.4 323.9,406.7 330.2,368.1 366.5,305.5 307.1,477.4 312.8,494.6 353.2,293.2 342.9,335.5 356.8,261.9 302.7,527.6 310.3,459 324.1,430.5 322.1,448.3 353.9,378.1 348.7,328 350,365.5 373.9,361.9 343.6,375.2 339.2,392.5 354.3,331.6 345.3,359.9 351.9,336.1 316.6,438.9 312.3,410.9 298.5,563.4 304.3,512.2 312.4,474.7 349.7,344.7 327.9,435.8 317.4,423.9 315.4,513.2 315.1,484.8 319.5,453.8 320.8,452.4 329.5,398.3 319.2,465.8 308.1,515.9 332.7,431.1 313.8,490.3 355.7,331.4 303.1,530.6 359,427 356.5,432.6 323.2,467.5 326.8,376.4 334.8,357.9 308.4,485.1 299.1,545.2 316.2,486.4 342.6,346.1 308.1,482.7 324.3,428.5 305.7,515.4 352.6,335 330.2,405.7 330.3,397.3 341.6,326.2 340.5,449.8 337.6,375.3 325.8,379.8 325.8,396.9 314.6,484.3 311.4,463 334.3,403.7 317.5,470.2 320.7,486.2 332,422.9 295.9,564.2 353.4,278 331.8,420.9 336.3,389 308.2,464.1 309.2,458.2 358.8,306.9 309.6,453.1 323.2,416.5 311.1,481.5 319.5,433.9 342.6,393.9 359.9,298.1 321.7,446.3 332.5,404.3 304.6,514.5 333.1,447.8 309.7,439.9 311.2,431.4 332.3,387.8 310.6,507.8 309.7,450.6 342.2,370.7 341.3,396.3 356.6,245 332.2,426.3 346.5,334.3 340.9,365.2 349.5,444.9 367.8,290.4 307.5,475.2 325.6,408.9 317.4,481.2 340.5,358.6 334,412.6 338.6,410.4 348.5,309.6 345.8,339.8 355.9,257.9 376.2,207.5 323.2,471.8 296.4,565.4 344.6,341.9 360,298.9 341.6,396.2 344.9,308.9 361.1,317.5 350.1,415.2 325.5,524.1 348.5,337.3 346.7,362.3 328.7,432.9 342.1,370.6 355.9,336.8 328,374.7 331.5,338.5 337.4,349.3 313,445.6 327.8,443.1 343.8,322.1 328.9,431.9 320.4,468.9 315.4,428.8 305.8,479.6 310.5,502.4 332.2,375.8 322.3,410.8 331.9,404.5 346.7,374.2 349.2,353.7 338.2,369.3 333.7,375.1 322.1,406.4 352.8,334.4 330.2,401.6 328.7,428.2 352.8,292 347.6,364.9 327.7,423.4 331.7,466.1 324.4,394 305,531.3 368.2,190.6 321.7,464.8 311.8,504.4 368.5,293.4 325.9,383.2 314.8,417.4 337.9,386.6 339.1,398.7 322.9,437 301.1,551.4 358.7,330.8 359.8,304.4 312.5,501 346.3,343.7 305.1,532.5 343.6,318.6 345.3,351.7 322,454.2 336.8,469 312.4,526.1 338.6,398.2 359.4,315.8 357.5,332.5 347.3,324 319.2,418.3 296.9,556.9 309.3,448.2 364.6,328.2 356.4,339.4 321.3,411 345.5,361.1 341,347.6 329.4,399.2 332.4,385.1 312.1,439.3 349.9,342.7 318.2,443.9 328.4,373.7 345.4,377.2 324.8,384 319,507.2 318.7,452.4 309.1,458.7 322.9,478.9 308.7,502.5 319.1,442.4 346.6,342.9 316.6,478.4 328,388.2 342.6,378 318.7,411.8 308.5,453.2 307.7,488.3 366.2,192.2 328.5,409.9 296.7,564.7 330.2,446 323.5,397.7 325.6,445.2 316.2,490.4 299.9,538.9 323.2,413.7 319.5,470.6 317.6,417.8 303.9,513 304.2,532.7 317.7,451.8 344.9,364 363,270.7 353.7,354.9 314.3,405.1 337.4,412 337.1,363.7 344.6,321.8 340.8,377.5 349,368.4 331.4,394.7 318.8,433.3 354.5,416.6 325.9,399.1 317,465.1 350.4,345.3 337.4,375.3 306.9,499.9 313.3,426.8 315.5,514.8 315.4,424.9 316.3,492.7 296.4,564.8 319,465.7 363.3,280.7 343.7,312.2 333.8,362.6 307.5,472.1 309,450.2 349.5,317.2 342.5,334.5 315.7,474.2 321.9,415.9 350.4,365.5 330.7,390.6 329.1,447.7 343.2,367.4 317.3,463 347.6,339.3 349,368.4 356,455 359.7,275.8 339.6,348.2 322.6,392.9 334.7,403.4 326.6,435 306.8,526.8 344.7,360.2 296.9,562.1 360.5,250.5 361.3,290.9 306.3,486.4 324.9,470 337.6,501.7 332.1,413.3 311.9,488.3 357.7,314.5 333.5,379.5 314.2,494.1 352.4,288.4 349.9,358.5 358,302.4 314,443.2 305.5,523.8 320.7,466.3 308.4,501 345.6,348.7 345.6,353.9 317.7,481.5 342.3,396.3 354,279.4 328.3,510.3 355.1,282 300.3,536.5 333.7,367.9 330.4,390.7 347.5,309.1 339.6,394.3 297.4,557.6 317.9,426.4 328.7,415.9 342.9,396.6 335.8,400.8 318.7,425.7 346.7,376.6 327.2,483.4 308.9,466.7 332.3,369.3 341.8,358.2 336.4,363.4 309.6,490.8 311.1,443.1 312.2,461.5 332.1,511.5 317.8,541.1 342.7,315.1 345.3,319.3 357.9,325.6 325,428.9 339,362.8 335.3,424.1 320,411.7 322.8,400.5 374.5,292.2 356.1,295.7 321.4,438.4 306,493.5 376.3,218.7 336.6,375.7 363.7,322.7 338,362.1 299.8,548.6 306.2,480.9 360.6,300.1 343.7,446.7 298.4,547.4 331.1,381.8 345,323.6 345.9,375 337.3,381 322.1,471.3 308.1,498.4 335.3,396.2 337.7,446.9 343.5,367.2 318.4,466.6 317.4,486.7 321,415 351.2,316.6 296.5,564 312.8,471.5 338.7,418 311,459.4 349,334.7 338.6,369 319.2,458.2 344.9,352.9 308.3,456.7 313.9,468.5 317,462.8 319.5,469.4 356.2,374 342.4,335.6 361.2,323.8 318.6,432"/>
<polyline class="pt" points="345.9,319.3 377.4,262.6 361,308.9 343,332.3 307,495.7 310.3,440.6 356,308.2 351.2,353 344.3,339 326.8,442.8 338.6,358.1 351.2,338 340,401.5 334.6,426.3 309.8,493.2 298.9,546.4 328.7,422.5 345.2,355.2 337.4,414.6 317.5,407.3 347.5,297.5 337.4,303.8 345.5,353.7 370.1,208.6 305.4,510 343.1,336.3 357.6,240.6 315,498.1 315.3,451.6 326.7,393.1 376.1,203.5 333,442.5 316.1,393.4 338.7,406.4 338.2,351.7 300.6,522.8 300.4,545.1 344.4,339.2 327,397.8 335.3,363.3 354.9,311.7 309.4,499.2 363.4,294.9 312.5,465.5 312.5,497.4 348.6,363.5 342.3,386.8 330,397.7 338.3,368.2 337.6,404.9 299.5,544.8 345,334.6 348,351 315.5,473 354.6,461.5 320.7,384.4 349.2,266.6 310.2,464.8 330.5,410.4 358.8,322.5 314.6,487.7 336.9,404.8 329.4,360.2 342.6,398.9 330.1,421.9 346.7,366.6 337.3,385.4 351.2,438.2 332.1,403.2 360.9,307.5 324,394.4 318.7,414.7 323.4,405.1 318.1,459.3 355.2,333.8 343.1,373.2 374.9,296.5 324.7,453.7 342.1,346.9 313.2,441 324.9,444.2 352.3,349.8 315.3,433.2 375.7,224.6 322.8,362.6 345.8,280.1 330,425 353.4,330.7 367.9,282.3 325.8,354.2 353.2,312.2 331.8,371.7 346.1,339.8 359.6,362.1 340.8,362.6 327.9,412.8 341.4,423.8 312.2,434.9 328.5,412 322.8,440.8 329.7,512.8 357.1,329.5 327.9,389 333.6,427.7 334.5,357.7 351,318 305.2,492.1 306.7,505.4 321.2,427.6 342.4,342.8 313.5,433.4 358.3,244.6 346.8,321.1 323.9,397.6 323.8,390.8 305.2,515.7 314.4,441.8 303.5,519.6 343.2,390.4 344.8,343.3 308.7,510.3 306.7,509.9 301.5,547.5 333.8,375.7 331.7,428.7 348.6,319.7 326.6,454 326.4,454 345.6,355.4 325.3,441.9 329.2,395.5 328.7,511 350.4,298.8 344.8,305.1 330.4,402.5 323.4,476 349.3,353.3 307.9,481.2 328.2,434.2 362.5,330.4 386.2,201.6 343.4,321.4 334.8,411.1 340.5,353.2 327.2,376.6 313.4,468.4 322.8,421.5 347.5,357.4 338.5,417 311,448.7 312.5,508 303.1,508.3 359.4,279.1 321.9,445.3 364,304.3 324,386.8 325,440.6 335.7,409 361.1,316.4 303.8,527.9 300.1,533.5 316.2,435.7 304.9,502.9 343.7,425.4 309.7,488.1 318.1,418.2 333.2,424.6 328.6,428.4 329,483.6 305.9,489.9 347.8,319.7 349.1,349.1 341.6,358 327.4,412.4 327.4,481.3 313.6,477.7 322.9,430.7 319.9,451.6 301.8,528.8 327.1,437.2 343.7,373.9 327,449.4 336.9,384.9 340.3,375.5 341.7,328.8 338.1,415.1 315,468.9 351.2,344.7 313.3,471.8 350.8,294.4 350.9,338.8 361.1,259.7 306.9,473.6 320.7,420.4 318.8,391.4 310.1,467.2 316.2,478.3 330.1,372.6 310.6,467.8 331.2,417.1 341.7,364.8 351.1,398.9 344.7,372.4 358.6,332.6 351,275.6 353.4,310.4 338.7,345.3 340.2,391.9 317.5,418.2 335.3,422.7 302.7,532 325.4,395.4 322.6,425.4 327.2,419.2 332.1,408 354.5,300.4 316.9,470.8 334.5,374.8 353.4,379.3 301.9,519.1 340.4,404.6 326.1,431.3 319.8,416.3 301.5,543.6 335,357.1 344.5,384.4 298.4,559.1 335.4,366.2 316.5,478.3 315.9,446.6 327.3,420.2 332.6,512.6 356.7,342.1 329.4,425.1 335.6,426.9 346,317.8 310.9,501.1 308.1,454.2 330.3,445.8 321.2,424.8 335.5,373.7 311.5,483.8 328.5,520 304.7,526.4 327.8,444.9 355.3,344.5 317.3,447.2 313.7,459.5 326.7,402.6 362.8,244.7 325.1,440.3 317.5,409.6 347.1,294 334.8,349.3 361.2,307.8 344.9,329.6 330.8,382 314.9,440.2 353.9,342.5 342.9,314.5 343.8,317.4 351.8,386.3 350.3,371.4 351.2,410.2 358.1,303.7 312.2,491.7 313.9,465.7 331.2,415.3 330.1,448.9 310.6,450.3 321.7,460.7 373.7,312.8 314.3,514.5 345.8,361.2 327,443.9 341.2,359.8 332.7,373.1 307.8,524.5 332.3,518.1 349.6,357.8 303.5,513.4 322.2,440.5 315.7,481.9 329,452.2 323.5,419.2 308.6,511.2 327.4,383 371.2,262.1 331.4,444.4 318.2,486.9 307.6,492.1 302.2,529 311.2,459.2 342.1,370 322,434.2 313.5,457.7 360.5,269.4 359.9,297.5 320.1,451.1 316.4,496.8 327.9,446.8 309,480.9 310.1,453.1 322.4,414.4 333.3,435.7 346.6,362.1 348.1,366.9 338.1,453.4 326.7,425.3 317.8,512.1 307.4,474.3 348.2,409.3 324.7,450.6 321.6,399.4 299.8,548.8 318.9,433 324.8,434.8 320.3,432.6 356.2,306.1 314,457.9 297.6,557 312.1,481.2 344.8,351.8 340.6,348.6 337.6,365.8 379.4,184.8 320.4,436.7 331,425.9 317.5,490.3 362.3,400.5 341.3,340.1 335.4,382.7 324.1,442.2 312.6,497.8 352.1,339.7 325.3,455 309.9,513.6 318.8,422.2 336.7,426.4 327.9,480 329,419.7 335.1,455.4 344.8,363.6 314.5,471.3 307.9,478.6 325.3,467.7 322.2,393.2 360.1,286.1 317.3,436.9 317.9,490.3 364.9,307.3 322.6,465.7 335.2,430.1 319.3,416.3 335.7,427.2 324.4,442.2 337.7,411.6 337.8,372.5 334.4,371.2 318.9,422.7 348.1,370.8 297.5,558.4 321,473.3 333.6,495.9 336.5,339.1 352.5,344.8 346.1,348.5 307.9,454.4 296.9,562.4 350.3,343.8 316.2,429.5 312,513.6 329.4,472.6 351.7,351.1 332.3,355.7 333.3,379.3 354,447.2 318.6,403.5 312.7,504.2 335.7,360.1 349.2,277.6 320.6,458.9 326.2,381.1 332.5,384.7 344.6,355.8 358.2,369.2 313.1,474.7 368,322.8 342.9,378.9 320.2,411.5 335.2,457.6 318.3,416.9 351.9,302.3 317.4,451.6 325.5,460.1 339.1,408.6 320.2,436.2 330.6,452 342,391.5 331.8,398.2"/>
<polyline class="pt" points="309.4,499.9 391,224.7 331.3,382.2 335.3,418.1 317,446.4 301.1,543 308.7,487.3 351.1,339.7 340.7,387.2 322,392.1 322.7,473.6 344.1,350.4 321.8,422.9 346.6,359 351.6,320 342.1,388.4 308.4,483.2 322.7,437.2 303.5,525.7 306.7,506 309.1,455.4 312.4,468 329.3,455.2 297.7,558.7 319.1,484.6 353.4,355 341.9,377.9 338.3,410.9 319.2,433.7 315.5,495 368.6,346.4 322.2,471.5 329.3,397.3 351.1,253.6 345.2,355 312.3,429.1 333.5,419.9 366.3,281.2 317,419.3 321.5,454.6 361.3,313.2 318.9,412.9 356.3,324.8 328,427.1 303.1,526 332.8,437.8 336.6,418.5 313.6,453.1 341.3,323.5 354.2,287.4 334.8,412.8 363.7,328 296.7,567 332.9,434.5 318.1,369.2 355.1,290.6 321.1,464.8 315.2,423.3 304.2,505.2 352.1,337.6 310.9,449.4 321.5,392.9 300,549.6 345.2,370.7 315.1,486.7 333.3,424.4 350.4,355.3 300.7,553.4 339.4,357.1 385.4,184.2 340.3,413.3 302.7,527 315.6,495.4 304.3,495.3 336.2,397.1 377.3,208.8 335.6,430.1 303.5,525 342,343.4 361.9,352.4 360.6,386.4 355.7,327.8 324.1,451.4 330.2,408.4 303.9,533.5 348.9,342.2 343.6,499.9 325.6,445.4 382,324.3 310.2,483.4 332.8,451.9 325.9,390.3 332.9,395.4 316,432.6 303.5,503.6 325.9,351.4 332.6,431.3 343.3,355.3 333.6,377.9 336.5,371.1 349.2,364.5 334.1,376.2 319.1,462.1 337.3,354.4 304.8,527.3 339.6,365.2 324.1,478.5 315.1,481 337.6,368.9 364.9,299.8 328.3,441.7 340.5,398.7 314.2,507.5 309.9,452 346.4,353.1 341.3,339.1 327,417.3 301,542.2 342.6,396.3 301.3,551.7 343.2,487.8 308.8,458.3 299.4,516.7 340.5,366.6 336.4,459.4 357.8,329.3 342.8,325.9 355.2,295.5 313.5,427.4 363,308 321.9,408.6 315.6,529.9 296,563.3 348.2,312.4 331.6,393.4 339.2,363.6 348.7,328.7 303.4,506 314.7,457.1 324.7,416.9 331.9,405 309.8,441.6 347.1,294.3 330.4,348.6 302.2,527.9 338.9,385.8 346,304.8 304.9,512.8 317.4,408.1 355.6,297.7 320.6,485.8 322.2,451.1 345.7,421.3 320.6,484.8 336.4,407.2 357.2,328.5 327.9,508.4 351.7,346.4 322.4,468.1 306.1,500.3 327.4,442.6 334.5,414.5 331.1,445 315.5,460.5 334.3,381.1 313.2,452.8 295.9,569.9 344,389.7 320.2,452.9 322.9,424 309,484.2 298.9,558.5 335.4,387 344,327.3 352.6,255 327.5,389.2 354,291.3 363.2,264.4 349.8,358.6 350.9,250.6 303.9,513.2 315.1,488.8 350,349.8 334.6,430 331.5,405.7 367.3,287.9 344.7,333.4 312.8,507.3 345.2,379.9 306.4,514.4 350,454.3 333.6,366.7 302.4,545.6 328.4,405.2 297.9,565 349.2,322.4 319.5,484 356.9,328.8 344.5,373.4 342.4,402.7 319.7,489.3 309.8,486 359.5,311.9 319.3,482.7 359.1,326.8 345.8,331.2 352.1,287.1 298.1,552.5 324.8,412.2 315,493.1 349.6,367.6 299.6,541.8 309.4,501.5 310.4,465.5 308.9,519 343.7,329.3 368.9,315.8 337.8,280.8 333.1,371.8 321.4,352.2 381.1,304.7 313.1,485.2 359.3,387.5 314,500.3 319.5,416.1 339.3,367.4 351.6,356.7 344.5,328.4 334,324.5 306.9,506.6 315.7,457.3 359.3,448.7 320.6,462.8 344.2,362.8 369.1,219.5 366.9,251.9 373.2,288.2 315.3,453.9 308.6,476.5 347,377.4 341.3,394.1 332,402.2 355.6,424.9 318.1,409 311.6,468.2 326.7,384.7 344.3,340.4 305.6,537.1 337.2,383.6 359.3,344.1 335,422.7 350.5,357.1 336.7,377.5 341.7,323.8 352.2,390.6 336.1,391.9 305.8,533.3 338.1,405.6 327.5,423.6 350.1,323.4 331.2,417.5 340.6,355.9 327.8,422.3 323.9,422.5 389.2,198.1 361.6,311.1 329.2,457.1 324.7,400.9 374.2,212.2 320.5,467.9 333.8,362.4 344.7,361.4 354.5,387.2 321.8,466.1 366,300.7 319.7,435.6 334.3,438.2 316.2,438.1 346.4,347 328.5,371.8 318.7,414.3 309.9,462.4 343.9,483.9 327.4,428.1 321.5,413.7 320.9,411.2 338.8,412.9 335.1,421.6 348.5,300.1 345.9,418.9 328.4,434.3 320.4,407.5 320.9,448.1 347.3,402.6 301.6,540.3 319.8,403.5 335.8,368.8 340,339.2 312.7,488.5 364.8,308.7 305.8,514.8 312.9,426.5 315.7,460.9 318.1,445.6 337.2,386.3 359.2,341.5 309.4,475.1 343.2,388.8 312.5,497.3 296.7,557.5 333.8,420 335.1,399 341.9,352 325.2,469.4 341.4,373 326.5,431.6 320.5,382 335.1,357.6 335.9,394.8 301.7,530 356.8,332 339.7,420.4 295.5,569.5 334.5,390.1 312.5,438.5 337.4,378.6 321.5,498.8 326,424.3 334.8,383.5 355.2,288.7 330.7,402.7 324.6,396.5 342.5,327.2 344.2,358.5 317.4,460.2 348.7,342.8 318.5,414.6 335.9,427.6 336.1,392.1 316.1,441.5 308.3,498.5 322.6,479.2 299.6,548 319.3,442 360.5,276.7 341.9,390 325.9,376.6 364,346.6 299.1,547.9 305.3,508.8 337,346.1 307,532 316.7,468.7 337,318.1 326.2,324.8 357.4,286.5 342.5,359.9 350.5,315.6 339.5,389.6 343.1,391 322.3,389.6 374.9,246.8 336.1,418.5 329.1,414.8 339.4,382.7 338.8,456.8 343.4,360.3 322.5,436.1 314.5,467.6 329.3,435.3 336.3,314.2 367.9,294.7 329.8,385.8 300.5,541.3 297.2,559.3 327.5,389.4 335.4,421.8 320.1,447 361.3,205.8 370.3,360.5 321.2,473.9 356.8,339 350.9,354.2 335.8,369.6 323.4,449.1 330.4,421.4 333.6,368.5 298.5,559.2 344.4,306.6 316.7,421.2 295.8,567.9 323.9,396.2 346.3,369 308.2,495.2 320.2,433.8 338.7,374.4 357.9,322.7 323.3,455.2 345.2,383.9 339.6,407.8"/>
<polyline class="pt" points="325,387.3 343.2,306 345.8,289.9 329.8,384.2 321.4,462.8 317.6,405.3 315.7,492.6 348.6,338.6 353.6,265.4 347.8,353.5 312.3,489.6 309,492 307.1,453.9 337.2,414.1 353.1,351.5 305.5,521.3 350.5,327.4 327.8,424.5 344.6,336.8 326.5,358 334.9,378.3 326.5,425 311.4,485.5 339.8,335.8 317.9,494.5 325.5,426.7 296.7,564.2 369,290.8 330.3,374.1 333.3,384.9 331.4,438.2 346.7,414.9 338.4,394.2 318.2,461.8 338.6,421.1 353.4,346.4 315.7,499.5 326.6,404 333.2,403.8 342.7,359.1 334.1,425.6 317.7,519 341.9,384.1 330.4,406.7 389.6,246.4 327.1,356.7 323.1,423.7 302.9,549.7 313.9,494.9 321.7,434.4 305.8,496.8 329.5,455.6 322.8,445 349.4,338.1 316.6,486.2 345.4,350 317.7,434 327.3,383.5 327.2,386.2 353.5,352.5 352.5,405.3 341.7,453.5 319.5,473.8 310.9,462.3 336.9,410.2 330,397.5 330.2,386.7 351.1,336.4 322.8,421 342,315.4 338.8,366.2 353.3,311.7 322.3,430.5 317.7,522.4 319.7,400.3 304.3,498.6 356.1,255.8 322.7,350 334.5,428.2 307.6,525.2 327.2,405.8 346.4,363 300.5,546.7 339.2,385.1 326,436.6 349.6,343 309.3,444.2 323.4,395.7 387.4,295.7 319.5,457.9 320.6,476.5 328.2,401.1 316.2,488.4 339,380.8 368.8,230.2 313,455.6 352.4,342.5 329.9,435.9 331.1,427.8 302.5,537.5 334.1,407 334.6,429.9 341,388.5 337,386 338.1,419.4 314.8,443.2 313.4,431.8 324.8,427.8 324.8,447 319.5,454.5 335.2,373.8 317,450.2 316.8,463 330.5,391.8 335.8,377.6 309.7,507.4 348.4,350.8 313.1,493.6 297.4,561.5 329.3,401.8 331.5,372 388.2,238.9 302.5,521.7 366.9,296.6 350.2,360.6 323.1,460.5 354,342.6 379.9,196.3 298.2,552.6 345.8,371.2 331.9,480.4 323.8,464 346.8,427.4 323.6,413.2 327.6,447.4 324.3,412.9 314,491.3 320.5,494.3 345.4,378.2 359.1,292.9 317.4,463.6 347.6,299.3 339.5,403.9 315.8,462.6 313,491.1 320.3,409.8 308.6,450.9 334,373.2 317.4,416 318.2,415.6 308,483.2 316.2,417.5 307.5,476.3 317.5,411.1 319.5,396.6 317.7,441.7 309.7,479.1 298.9,558 352.2,364.4 330.3,438.4 360.6,313.5 306.2,524.8 321.7,453.3 307.4,482 334,340.5 370.4,251.6 356.2,291.9 302.8,535 333.7,431.1 363.1,307 352.8,347.4 304.6,516.7 327.8,352.8 328.1,447.3 350.8,358.8 372.6,346.1 325.7,401.8 344.8,358.7 306.8,513 358.1,362 322.9,474.3 308.6,490.6 347.9,329.9 313.4,479.4 343.6,347.1 319.5,441.1 297.9,554.6 309,529.1 321.7,439.6 323.7,402.5 325.7,440.2 325.8,423.4 339.7,360.8 322.4,478.1 338,410.7 348,356 313.3,483 349.8,392.7 360.2,321.1 336.9,399.4 310.6,457.5 324,466.1 334.7,310 368.3,326.8 347.3,468.6 307.8,466.1 357,320.4 351.7,326.6 309.3,487.2 318.6,419.4 313.4,490.7 312.5,482.2 345.5,357.6 326.3,463.3 361.9,320.9 298.6,548.2 337.2,380.7 356.8,372.1 306.6,517.8 322.8,501.6 306.9,491.4 332.8,401.4 335.7,376 327.2,365.8 328.6,388.3 302.8,517.3 318,441.4 354.9,313.2 327.9,480.1 307.8,474.1 332.3,417.2 309.8,480.3 325.7,347.9 366.3,309.9 345.3,309.8 375.7,240.9 308,470.2 331.1,366.2 311.5,499.2 318.6,426.3 351.3,328.9 351.8,314.8 349.2,295.6 310.8,460.8 323.2,444.6 315.4,450.1 338.2,369.9 325.3,391.5 340.6,392.3 311.5,456.3 339.3,387.1 344,347.1 333.7,411.6 298.1,555 296.7,565.7 311,461.5 320.3,467.2 384.6,229.8 320.3,401 347.2,273.7 299.7,544.6 307.1,493.3 321.1,453.4 314.6,530.2 334.8,371 337.5,410.4 342.3,401.1 356,309.5 307.3,491.9 302.5,544.5 336.1,418.2 319,442.6 324.9,495.5 299.2,559 362.4,385.3 332.2,438.7 342,419.2 349.9,324.7 303.5,539.9 302.2,526.3 315.1,416.1 317.4,426.2 295.4,566 320.5,426.2 353.5,389.2 305.1,516.9 318.6,440 317.5,451.4 313.6,487.5 317.3,429.5 316,385.7 315.9,426.9 349.2,298.8 316.9,496.6 339.3,381.8 324,445.8 321.1,466.7 333.8,380.1 332.5,432.6 342.1,312.7 362.4,289.9 311,450.4 349.4,340.8 356.4,367.6 348.6,404 340.4,368.9 347.6,359.9 340.7,377.2 349.3,333.2 300.8,527 333.6,385.5 307.2,503.1 326.8,432.4 308.5,475 314.6,490 338.7,445.1 307.5,468.6 304,525.2 325.8,487.8 317.5,462.2 311.7,433.2 326.1,449.1 308.5,517.3 334.8,360.1 304.1,515.3 317.3,460.7 336.9,370.5 305.7,525.3 348.1,331.1 351.2,359 351.1,272.4 324.5,464.3 352.7,385.9 311.3,483.1 326.3,389.4 307.1,520.1 323.1,445.9 374.3,300.8 312,476.7 343.7,340.2 311.6,450.8 336.7,359.4 322.2,478.9 296.9,556 339,367.1 317.5,407.1 336.9,399.7 343.7,319.6 352.5,443.6 342.3,267.3 346.9,340.6 324.1,414.6 327.5,442.6 353.9,300.8 307.8,514.1 308.3,475.8 317.4,424.9 309.4,511.3 329.4,459.6 339.5,409.5 356.7,309.1 311.1,508.9 315.3,465.9 321,431.7 359.5,311 348.1,352.4 354.7,345 334,373.3 322.6,436.1 312.6,432.3 338.4,374.2 337.7,417.6 325.6,484.3 315.9,506.6 342.9,385.7 338,356.5 341.8,397.8 357,332.4 321.9,404 371.5,339.1 336.9,405.4 361,305.1 332.2,420.6 347.9,347.1 357.3,271.6 313,433.9 366.9,287 307.4,512.8 355,327 357.1,260.8 331.4,473.9 357.6,389.9 340.9,369.5 313.4,437 300.6,539.6 320.5,458.6 313.6,450.7 328.1,460.2 362.8,320.9 326,465.8"/>
<polyline class="pt" points="329.4,387.4 367.1,294.2 295.7,563.1 314.8,454.4 311.3,474.6 314.5,461 334.4,394 360.3,425.1 350.4,326.5 340.1,365 328.1,385.3 322.5,445.3 335.2,383 359.8,254.2 341.7,395.7 327.2,402.9 312.3,452 308.8,468.5 329.1,455 324.1,447.3 317.3,414.8 310.8,439.3 339.5,406.7 312.2,447.3 309.6,516.6 332.2,428.9 346.1,366.9 309.7,495.2 318.7,475.6 358.1,337.1 321.1,480.7 361.2,347.2 341.3,374.6 327.3,401.9 350.1,388.4 316,456 335.1,367.2 367.6,365.6 319.3,466.7 413.5,201 426.8,22.5 439.9,44.2 436.4,56.6 432.8,87 387.5,105.3 405,108.7 395,118.8 378.3,125.3 378,134.7 393.8,140.9 388.9,144 392.7,146.8 409.5,144 376.3,151.1 385.4,153.5 388.2,153.7 382.5,156.3 396.5,156.1 371.4,160.3 383.5,160.7 374.2,165.3 387.2,164.8 371.1,170.2 386.6,170.6 384.4,172.8 403.3,177.4 407.7,177 379.2,178"/>
<line class="r" x1="295.19" y1="592.20" x2="405.43" y2="0.50"/>
<polyline class="b" points="296.1,567.5 308.4,500 312.7,480 317.7,460 323.3,440 329.2,420 351.7,340 374.3,260 397.4,180 420.9,100 439.8,34.2"/>
</g>
<rect class="ax" x="290.4" y="0.5" width="155.2" height="591.7"/>
<text transform="translate(316.70 616.8) scale(0.9534 1)" text-anchor="middle">2e-04</text>
<text transform="translate(390.90 616.8) scale(0.9534 1)" text-anchor="middle">6e-04</text>
<text transform="translate(274.0 576.80) rotate(-90) scale(0.9534 1)" text-anchor="middle">1e-04</text>
<text transform="translate(274.0 477.24) rotate(-90) scale(0.9534 1)" text-anchor="middle">2e-04</text>
<text transform="translate(274.0 377.68) rotate(-90) scale(0.9534 1)" text-anchor="middle">3e-04</text>
<text transform="translate(274.0 278.12) rotate(-90) scale(0.9534 1)" text-anchor="middle">4e-04</text>
<text transform="translate(274.0 178.56) rotate(-90) scale(0.9534 1)" text-anchor="middle">5e-04</text>
<text transform="translate(274.0 79.00) rotate(-90) scale(0.9534 1)" text-anchor="middle">6e-04</text>
<path class="ax" d="M316.70 592.2 v6.4M353.80 592.2 v6.4M390.90 592.2 v6.4M428.00 592.2 v6.4M290.4 576.30 h-6.8M290.4 476.74 h-6.8M290.4 377.18 h-6.8M290.4 277.62 h-6.8M290.4 178.06 h-6.8M290.4 78.50 h-6.8"/>
<text transform="translate(368.02 643.8) scale(0.9534 1)" text-anchor="middle">Primary Series (Obs - Exp)</text>
<text transform="translate(247.15 296.35) rotate(-90) scale(0.9534 1)" text-anchor="middle">Replicate Series (Obs - Exp)</text>
</g>
<g id="p3">
<g clip-path="url(#kp3)">
<polyline class="pt" points="564.7,476.8 601.5,263.3 591.5,327 588.9,324.5 593.2,351.3 598.2,322.1 573,377.6 579.7,394.7 583.1,388.7 597,296.2 580.2,400.5 578,388 585.8,357.1 585.5,329.4 538.4,551.9 592.7,337.6 581.7,400.1 582.2,386.6 579.2,401.4 572.6,434.2 599.6,320.2 611.5,247.8 614.1,213.1 587.8,376.4 594.2,281.4 585.2,311.1 587.1,345.9 602.7,329.4 589.2,367.3 582.9,369.8 586.3,343.4 570.6,449.6 589.5,323 601.8,305.8 577.3,385 584.7,354.3 605.4,288.9 606.1,272.6 613.4,217.2 603.9,235.9 608.5,280.7 575.2,416.4 595.8,334.1 550.2,500 557.8,465.9 596.5,308.1 587.1,342.1 605.8,223.7 566.8,423.5 622,202.9 626,198.6 551.7,497.2 558.5,443.9 605.5,295.9 598.8,303.5 599.8,263.7 574.7,370.6 541,541.7 596.4,272.5 596.6,278.7 543.8,529.6 595,336.9 588.5,310.9 613.8,264.5 599.8,310.3 580.6,398.7 578.8,376.5 583.4,410.2 593.7,315.3 558,457.8 611.4,216.6 606.1,257.2 583.9,373.4 563.4,429 591.5,328.1 589.9,355.4 570.6,449.7 597.7,312 587.3,307.6 598.5,294.5 596.2,332.3 566.4,449.9 541.6,538.9 611.7,218.3 568.8,435 612.7,251.7 545.6,519.5 568.2,412.2 540,545.5 566.1,418.1 604.7,222.9 588.8,315.5 574.7,425.9 568.5,434.5 598.4,285.8 569.8,443 593.6,322.1 592.5,328.7 570.2,419.8 551.4,497.4 607.1,298.7 617.2,234.7 560.8,461.2 574.4,415.5 599.9,301.7 603.7,284.5 587.9,374.2 562.5,458.7 577.1,404.4 603.3,248.1 564.7,465.3 574.2,381.6 587.6,309.8 566.9,441.2 616.8,227.1 604.9,233.5 573.5,382.4 581.3,404.4 573.5,433.9 574.4,416.5 578.3,359.6 596.8,326.7 599,275.2 585,344.5 622.3,225.2 569.1,392.4 575.8,361 626.1,206.6 620.4,232.6 563.4,438 579.3,387.2 587.2,364.5 614.9,221 567.7,433.9 573.3,383.7 588,374.1 546.9,524.7 602.7,297.8 590.2,365.3 576,403.2 559.3,452.3 612.5,213.5 560.5,445.5 579.9,402 601.4,292.6 582.3,366.3 592.9,286.1 557.6,451.9 546.7,520.4 611.2,280.5 621.1,231 586,378.8 560.2,455 572.7,368.7 552.1,512.9 593.6,329.7 604.7,275.6 601.6,244.1 581.9,399.9 611.8,200.5 618.8,205.2 589.3,360.2 594.8,309.9 603,242.9 572.6,443.8 577.2,367.9 618.8,224.9 598.3,258.2 574.3,423.8 566.2,452.3 591.3,329.6 601.1,268.7 592.2,352.4 613.5,223.5 578.5,355 606.4,273.6 591,329.1 538.1,556.2 607.8,259.4 571.4,405.4 583.9,386.8 594,302.5 592.3,289.3 615.3,254.2 573,386 604.4,279.1 587.9,336.1 582.9,362.9 571.6,383.9 578,362.2 602.4,297.7 574,418.8 595.9,310.9 574.8,431.5 599.6,304.1 536.4,565.1 567.9,410 568,446.7 588.1,326.8 593.5,349.1 564,454.2 561.6,465 600.2,320.9 627.1,204 583.1,330.8 594,320.2 593.1,332.1 582.4,333.6 579.3,348.3 610.4,211.1 581.7,406.3 610.7,229.1 591.3,369.7 599.1,266.3 579.6,353.8 576.1,407.1 580.8,358.7 584.7,316.5 602.4,287.8 577.8,355.4 607.2,252.6 584,365.7 631.3,239.6 617.4,231.1 587.9,351.1 556.9,466.2 563.4,452.1 604.5,227 556.9,473.6 602.1,264.4 570.3,442 584.1,324.2 598.1,321.5 603,243.3 561.3,435.9 594,332.5 578.4,362.9 609.9,251.3 621.6,210.8 591.6,314.9 566.6,462.7 577.8,377.3 593.5,324.8 566.4,451.1 584.4,324 586,384.9 581.7,387.6 618,234.2 563.2,464.5 591.9,346.8 573,415.3 604.2,280.3 586.2,311.6 588.7,356.1 583.5,335.2 566.7,430.9 558,453.3 591.1,336.9 581,352.8 589.9,353.1 618.1,196.1 565.8,449.3 544.5,530.9 577.5,378 589.4,303.8 599.2,333.7 602.6,265 606.1,246.2 610.4,223.4 586.9,345.9 586.2,348.8 590.1,351.7 579.1,377.9 568.5,448.1 610.8,252.1 632,198.8 607.2,235.5 585.5,336.5 573.3,429.4 607.5,237.5 587.5,361.8 561.8,447.9 561.6,470.3 608.1,282 587.4,323.7 581,399.8 622.4,216.9 611.8,252.3 586.7,321.5 570.1,406.4 613.2,284.7 579.3,366.6 581.5,332.6 584.1,382.1 578.9,349.9 595.4,279.5 579.7,432.3 608.3,282.8 615.1,254 606.3,249.1 574.8,419.5 565.9,457.8 558.5,435.2 581,350.4 603.3,242.2 620.5,229.7 615,220.1 582.5,379.8 574.4,432.9 582.3,355.6 567.2,422.6 568.1,407.3 601.3,290.9 573.3,434.9 614.4,226.5 591.5,294.8 563.1,445.6 596.5,269.7 582.9,328.9 593.6,337 602.5,253.9 606.3,260.9 564.7,440.3 579,367.9 579.6,365.6 569.5,457.4 599.5,258.1 573.7,430 587.9,363.1 540.9,547.4 593.2,303.5 621.7,166.4 590.5,299.2 612,260 572.3,390.2 614.3,257.4 565.9,441.6 598.3,280.9 622.8,205.3 613.2,201.3 611.5,260.4 589.7,363 573.9,426.9 596.6,332.9 605.9,270.2 565,445.5 566.9,436.3 586.9,340.5 607.2,241.9 539,556.8 589.7,369 589.7,299.8 595.3,336.4 595.9,294.6 583.5,390.1 543.5,534.7 586.1,359.3 605.3,245 600.2,259.6 592.5,336.7 562.8,443.7 617,197.6 624.4,226.3 623.5,212.2 610.6,206.7 618,220.5 593.7,337 616.3,237.3 575.1,413.4 604,307.7 579,395.4 555.3,465.7 592.6,292.1 606.1,249.4 595,280.1 561.2,450.2 565.4,486.5 621.2,278.9 612.9,258.3 580.9,392.4 601.6,279.7 584.1,343.3 564.3,436.2 565.3,440.6 542.4,539.6 613.7,265.1 621.4,218.9 568.2,447.8 617.1,219.6 601.3,278.5 593.1,292.5 607.5,309 537.2,566.9 606.3,246 612.9,234.3 614.7,213.2 622.4,191.4 600,294.3 607.2,286 571.3,401.7"/>
<polyline class="pt" points="583.5,342.4 558.8,444.6 623.4,258.3 613.8,242.8 606.1,272.9 594.4,284.4 593.8,322.4 577.7,405 578,391.1 598.4,316.2 575.7,388.7 592.8,313.4 590.9,285.5 595.6,278.6 570.3,416.4 544.8,525.7 563.2,433.8 627.2,179.2 588.7,323.2 613.8,207.8 579.2,333.6 602.9,260.8 545.6,525.3 589,370.1 589.9,333.3 569,420.4 576.6,402.5 567.1,454.4 565.2,454.9 608.9,245 597.4,320.4 591,351.9 607.5,220.9 616.1,201.3 612.2,204.5 587.6,308.4 610.2,257.9 615.3,243.4 573.2,389.5 569.6,405.8 601.1,302 572.8,385.4 592.1,341.2 591.5,306.2 561.4,456.5 558.2,449.2 579.5,356 606.2,239.7 610.1,238.6 618,202.7 589.7,367.7 575.5,422.9 578.5,411.1 600.5,270.9 569.1,409.7 564,458.5 575.7,383.6 547.5,514.6 594.5,346.7 567.8,463.1 579.7,394.2 581.6,395.4 612.7,273.3 571.7,452.6 574.3,365.3 598.8,287.5 606.7,250.7 621.6,216.9 576.9,410.7 602,310.7 544.5,528.9 565.6,437.6 580.3,351.3 584.8,364.9 595.5,292.2 592.7,332.1 590.4,360.6 597.9,331.1 578.2,350 560,460.3 581,356.1 588.8,300.3 565.1,437.8 612.8,270 569.7,415.5 586.6,384.3 607.4,266.3 595.8,341.8 622.2,217.3 574.2,384.4 592.6,315.4 601.7,301.3 572.4,432 573.9,414.9 583.8,344.5 590.5,299.4 586.7,331.3 566.7,463.9 624.8,229.7 535.2,569.9 597,272.5 616.4,240.7 584.7,382.7 571.6,438.8 577.2,376.8 606.5,251.7 611.3,271 600.5,313.2 588.7,359.2 625,206.9 616.3,242.3 584.9,362.8 598.5,274.3 605.1,255.9 611.9,282.1 579.5,375.5 571.5,400.8 588.5,358.4 600.5,279.3 591.6,288.4 576.6,430.2 576.8,389.6 601.5,258.9 571.5,425.2 591.3,332.3 591.1,313.8 567.1,454.2 576.2,401.3 540.9,544.8 541.8,542.2 576.1,387.5 575.8,410 607,239.6 596,274 589.1,338.5 572.4,432.6 586.5,335.4 599.5,265.3 558.7,436.4 596.2,309.3 566.9,443.6 587.7,351.1 615.5,226.3 582.8,368.2 580.1,342.7 574.2,397.6 561.2,458.9 587.8,369.3 604.2,237.8 563.9,426.8 538.1,550.4 538.4,555.4 571.9,389.3 617.5,205.8 590,310 608.1,225 599.1,262.4 556.3,473.8 583.1,376 596.6,315.9 605.5,230.3 599.3,290.9 608.3,252.3 584,363.4 582.2,333.4 586.2,348.7 596.9,293.9 599.7,297.6 556.3,464.1 546.4,523.4 535.9,567.1 600.7,312.8 602.8,284.3 616.9,201.8 563.5,466.2 580.7,340.3 575.5,421.2 610.3,282.5 595.8,285.2 623.9,185.4 581.5,363.7 539.4,554.8 610.6,208.2 578.5,363.9 598.2,279.5 589.8,354.4 613.9,223.1 567.3,426.4 609.7,244.8 614,202.2 613.2,246.7 590.8,353.5 596.2,335.1 581.2,362 600.4,294.5 586.2,319.6 623.7,212.8 566.4,450.7 562.6,459.8 572.4,409.3 583.8,344.2 606,218 584.8,311.4 583.4,334.3 589.7,301.3 590.7,297.8 570.8,465.5 596,322.5 560.1,445.9 601.6,297.7 560.7,439.8 602.3,283.9 590,319.8 591.2,287.2 579.2,348.1 574.3,400.9 584.3,322.3 604.9,228.7 591.8,323.4 563.4,434.4 569.4,451.2 589.5,299.5 610.2,276.9 599.8,258.7 562,432.3 589.5,300.8 615.3,258 594.4,280 589.2,311 596.3,312.5 609.7,211.3 605.7,226.4 559.2,459.7 608.2,290 567.8,437.9 621.4,231.4 577.1,392.1 610.9,203.3 565.1,430.6 615.7,232.2 587,336.4 607.7,220.5 575.8,403.1 611.3,230.9 581,369.1 563.4,423.4 600.3,267.2 611,240.4 577.7,354.6 617.2,239.8 597.8,338.1 597.8,288.9 585.7,319.3 605.7,242.9 583,317.7 566.4,468.5 566.9,408.9 563.3,442.6 604.4,258.3 566.6,441.8 595.8,327.1 563.2,446 571.4,368.3 605.3,251.3 582.3,375.7 602.9,285.7 593.2,310.4 565.2,430.8 543,538.5 574.6,371.7 568.6,421.6 595,329 583.7,383.7 573.4,402.9 592.9,352.3 582.5,345 575,364 612,287.9 579.6,390.5 607.4,234.2 593.5,296.5 577.6,373.2 535.5,566.7 600.4,287.9 592.3,317.9 569.2,423.3 586.4,379.8 603.8,306 591.9,359.1 615.1,304 594.3,338.1 605.7,240.7 598.1,313.5 610.5,277.9 618.8,231.1 573.7,422 583.1,397.1 584.1,379.3 582.7,372.2 599.9,250.8 588.9,335.8 614,209.4 595.8,315.2 567.6,427.8 598.3,305.9 565.2,409.6 603,247.5 559.8,442.6 559.7,448.5 576.1,429.5 576.3,415.1 569.5,444.7 575.7,417.8 591,363.4 601.5,323.1 590.1,363.7 560.6,437.2 557.9,456 619.5,237 547,519.7 559.5,486.3 608.1,267.3 603.7,238.6 562.2,428.8 615.9,221.7 585.1,316.2 591.6,324.2 580.3,377.3 594.9,271.2 635.3,168.3 571.6,460.1 558.8,460.4 559.1,451.9 590.8,296.3 618.1,214.6 598.1,328.9 624.6,192.1 573.6,381.5 594.1,281.6 577,423.9 581.4,350.4 562.9,429.8 580.6,339.7 603.2,306.2 620.2,220.4 615.3,214.8 597.3,277.3 606.5,285.5 586.5,371.8 587.1,317.8 589.3,310.5 601.9,294.9 595.5,343.8 608.6,238.7 583.4,333.7 606.6,223.4 582.1,403.6 580.7,346.9 589.4,363.6 596,332.9 581.8,341.1 609.6,208.3 578,372.3 583.9,338.9 544.8,523.7 616.7,248.5 619,238.9 606.9,240 560.4,486.8 605.5,274.1 579.3,390.6 586.1,335.6 613.9,241.3 588.1,366.1 598.3,277.8 576.5,408.4 577.6,358.2 584.7,362.3 575,407.5 563.9,440.8 595.4,292.4 588.3,356.3 569.8,417.5 600.4,264.5 623.2,183.6 564.3,458.2 590.8,335.2 606.7,277.2 604.6,256.2 579.7,362.2 596.5,328.6 585.3,371.5 614.2,231.9 608.5,273.5 581.8,377.5 623.3,200.7 609.3,262.9 597.8,338.1 607.9,269 586.2,314.8"/>
<polyline class="pt" points="585.6,368.5 561.6,446.8 610.1,268.1 576.5,426.9 565,459.8 600.7,330.3 558.5,446.4 573.8,379.9 570.7,440 605.5,263 601.2,305.3 599.7,305.4 606.3,261.3 597.2,333.9 611,266 608,232.4 578.1,399 581.1,384.9 537.8,555.9 580.7,340.3 586,315 602.8,260.7 580.3,374 576.2,368.1 605.8,287.5 607.6,275 617.6,245.2 576.3,387.7 576.7,367.5 578.7,389.4 615,195 559.7,448.1 600.6,279 585.6,321.8 576.3,370.3 605.3,270.1 594.5,349.1 581.3,378.1 598.4,317.5 580.4,372.7 575,374.8 592.8,281 586.4,356.8 584.4,355.8 590.1,310.8 559,448.2 599.4,294.1 591.8,328.5 610.1,266.6 581.6,403.5 578.2,376.3 611.6,231.6 616.1,219.3 565,443.5 609.2,270.1 593,332.4 612.4,238.7 600.1,274 541.4,539.3 598.1,319.5 577.3,421.3 581.9,405.7 556.5,461.8 564.8,468.8 545.4,527.3 590.9,363.7 605.7,227.1 579.3,418.5 603,271.3 581.3,383.5 588.5,358.9 587.9,318.5 603.4,259.9 620.2,207.2 611.1,237.7 584.8,361.7 614.6,224.8 577.9,377 583.4,353.4 541.2,542.5 591.3,293.6 564,465.5 574.1,432.6 578.5,393.4 586.2,370.8 592.3,301.8 582,338.2 603.8,280.1 578.8,384.1 567.3,402.7 536,565.9 586.3,310.6 613.9,236.1 558.7,456.2 585.5,319.5 579.4,386.3 603.8,268.9 567.7,443.7 598.1,259.9 610.4,281.3 614.3,256.9 605.1,268 593.5,284.9 572.9,439.6 590.5,288.2 583.7,366.5 591,298.9 605.7,242.4 580.5,408.7 594.5,338.2 566.1,462.3 567.9,410.7 593.8,327.8 573.5,400.6 581.8,347.8 545,507.4 563.3,440.9 599.4,285.8 572.7,402 573.1,440.3 601.6,264 576.2,433.6 581.7,392.2 615.3,221.9 620.8,211.6 537,558.4 584.4,330.7 581.4,337.3 573.2,395.2 591.8,290.2 581.8,367.4 607.5,296.6 590.6,363.6 621.2,227.3 620.6,225.5 579.1,351.9 599.8,325 572.1,404.6 605.6,234.3 619.3,210 622.2,197.5 609.6,227.7 597.3,276.9 598.7,296.7 562.7,436.6 598,291.9 597.2,298.5 593.6,307.1 579.9,358.9 583.3,325.4 559.4,468.1 582.1,404.2 588.1,358.7 601.4,291.1 561.8,480.8 538.9,551.9 617.5,220.2 574.9,387 594.2,276.3 612.4,217.3 571.3,401.4 541.6,543.4 606,271.9 565.7,462.7 608.5,237.1 592.9,343.3 569.6,411.6 591.5,331 569.5,432.7 566.6,419.5 621.4,217.2 571.4,416.9 615,212.3 596.2,285.5 594.6,268.5 540,548.2 596.4,267.4 609.7,277.6 616,224.4 557.3,467.2 618.1,207.4 585.2,350.6 593.3,295 609.3,254.5 613.2,198.3 578.6,381.4 576.5,372.6 570.1,437 565.3,471.9 620.6,228.1 581.8,392.8 594.3,340.9 635.3,163.9 611.6,228 596.2,331.5 568.9,412.7 602.6,293.4 594,337.7 589.3,351.7 537.1,564.5 615.5,240.5 616.1,241.5 535.7,562.7 605.7,257.7 621.2,219.9 591.2,313.2 591.5,325.4 602.6,246.7 590.7,304.4 587,351.6 605.6,251.8 585.3,335.6 588.3,322.2 584.3,332.1 573.5,415.6 604.6,295.9 611.2,255.2 583.9,342.6 626.9,239.7 617.1,225.6 604.8,232.4 577.1,375.4 580.4,375.9 567.7,444.5 594.3,349.1 626.2,204.7 571.8,412.8 613.6,270.6 589.1,363.2 601.8,308.5 564.5,471.7 609.6,283.5 591,337.5 581.9,355 563.4,441.8 589,297 592.8,325.9 603.6,294.6 582.1,373.4 598.7,309 618.7,238.4 600.4,284.3 591.2,364.6 584.5,339.2 605.6,248 562.1,428.7 605.4,225.1 581.3,340.4 608.2,244.4 582.5,333.9 626.9,202.3 566.1,433.9 609.6,236.4 633.5,165.7 602.1,295.5 591.5,310.4 610.4,214.8 622.3,216.6 607.1,252.3 604.8,263.4 588.3,358.5 591.1,298.4 629.4,188.9 563.6,465.4 566.2,420.7 585,364.6 602.5,270.1 601.4,312.6 606.6,225.5 614.4,213.1 592,291.9 606.9,254.9 604.7,304.8 598.1,323.3 625.5,186.7 536.4,565.1 567.3,451.3 598.6,329.1 585.7,366.9 588.2,321.1 605.2,281.6 613.1,269.3 582.4,370.5 571.7,408.7 585.9,316.9 573.2,403 591,354.9 584.3,349.6 577.6,353.9 580.4,340.7 604.1,251.3 604.2,235.7 562.5,459 616.1,241.5 602.1,293.5 568.5,425 582.5,318.7 589.4,330.8 613,254.6 599,300.1 591,327.5 590.5,288.2 559.5,449.7 594.9,318.7 576.8,361.6 577.6,427.7 602.5,300.3 601.6,275.9 597.6,282 616.2,254.4 614.3,223.2 582.1,349.1 583.6,323.3 572.4,440 588.3,302.6 586.4,348.1 572.8,399.7 601.5,295.4 598.5,314.3 606,223.9 574.2,373.8 608.5,257.8 560.7,447.4 616.7,203.7 597,336.8 601.5,309.1 600.3,299.7 580,341.9 572.9,379.1 571.2,389 598.6,292.6 570.2,422.5 569.2,395.4 558.9,448.6 576.8,413.5 592,305 596.8,329.2 577.4,396.5 582,369 615.3,248.7 610.5,232.7 541.6,540.6 567.2,411.6 587.1,305 601.1,279.7 565.7,420.8 605.3,237.6 600.1,308.1 604.4,281.7 572.7,378.3 596.1,276.7 591.5,302.8 588.9,308.5 597.5,298.7 571,410.2 613.9,249.9 569.9,400.7 582,395.2 589.4,313.5 609.9,223.6 576,377.9 561.4,439 566.3,428.4 606.4,253.8 608.9,254.2 605,295.9 563.8,429.6 574.4,370.7 619.1,226.2 546.3,523.7 570.9,441.4 572.3,396.9 606.9,285.5 576.6,365.9 614.3,231.6 581,377.4 577.1,398.1 624.3,213.4 591.9,279.5 573.8,393.1 611.9,261.8 582.8,357.1 562.7,485.9 578,408.2 544.9,530.3 607.6,287.1 601,314 618.9,213.2 604.4,279.4 610.7,273.8 586.6,364.9 570.3,411.4 562.2,437.6 611.8,226.6 599.3,262.1 603.2,305.6 619.6,214.4 608.1,253.1 583.2,353.7 587.3,323.2"/>
<polyline class="pt" points="581.4,387.1 609.5,224.7 561.2,457 603.7,227.9 560.9,447 608.5,250.2 564.2,415.8 608.8,278.3 561.2,432.8 539.6,550.1 620,215.7 602,242.8 582.1,377.4 579.9,372.2 612.2,247.4 590.2,320.8 594.1,284.8 580.1,347.2 575.1,393.1 544.4,533.1 586.4,337.5 595.1,304.2 602.5,294.3 604.9,247.4 616.2,209.7 583.3,335.9 611.7,264.3 605.9,225.9 560,460.2 610.8,208.8 586.1,371.7 607.8,281.9 579.6,375.5 616.1,274.1 613.1,234.2 568.5,444 576,415.2 609.8,218.3 590,329.3 601.9,300.8 562.9,430.3 565.6,464.7 600.3,298.6 585.8,326.8 600.9,291.6 567.7,453.7 577.9,354.1 551.9,495 571,388.4 590.8,362.1 587.4,330.3 570,439.8 607.2,258.1 608.2,211.8 591.1,317 574.8,421 604.4,262.7 610,270.3 579.9,428.9 586.9,374.5 563.3,452.7 584.3,380.8 588.6,368.6 606.2,231.9 611.6,224.3 606.3,245.9 582.3,423.7 563.4,432.5 617.4,205.5 609.2,236.6 571.3,410.4 611.1,279.5 616.5,239.5 615.2,206.4 582.4,375.5 583.1,389.9 605.6,294.8 604.5,320 617.9,211.5 589.8,368 613,256.1 559.1,436.1 611.8,265.5 616.5,213.5 590.8,324.6 561.5,448.9 575.8,417 568.1,430.7 563.9,464 553.2,485 585.4,327.5 570.9,388.4 589.8,339.7 579.8,357.6 615.2,245.8 589.5,318.1 611.5,235.1 607.2,274 610.8,211 567.6,459.7 590.2,328.7 585.5,350.1 610.7,227.3 565.2,457.1 558.7,474.3 581,366.3 589.7,305.6 561.6,431.9 560.9,466.4 581.8,341.6 581.7,379 591.4,348.9 545.1,527.9 536.1,561.7 589.1,323.9 586.3,322.8 569.1,402.5 590.3,352.4 563.7,461.6 568.5,401 592.2,309.4 597.4,291.7 589.1,317.8 545.4,527.4 582.7,329.3 615.4,245.4 608.7,254.7 603.5,222.4 564.4,422.3 581,345.3 614.9,233 596.8,272.9 535.8,567.3 594.3,317.2 584.4,344.8 568.7,399.6 572.7,393.7 618.7,239.2 580.6,412.1 535.9,568.1 591.9,350.5 610,238.8 597.2,291 576.9,377.9 603.9,257.2 567.7,444.3 593,314.5 613.9,262.4 600.6,263.4 577,357.7 606.2,279.6 576,418.9 629.9,175.9 572.1,418.2 595.4,338.4 610.3,211.2 618.8,240.3 609,272.2 583.5,327.4 598.1,288.5 593.1,352.1 598.5,327.1 603.7,255.3 562.3,468.9 565.2,441.4 566.2,407.4 603.9,257.7 542.4,537.1 581,385.7 615.5,251 606.2,318.2 587.3,323.3 598.9,264.9 593.8,330.9 606.1,275.9 584.6,387 594.4,339.6 560.8,441 586.6,356 627.1,216.8 616.8,222.4 573.9,371.7 592.1,287 602.1,286.5 595.7,286.6 557.6,450.9 611,201.8 596.7,329.9 572.4,381.3 567.4,439.4 584.1,361 588.5,348.2 603.9,276.3 619,209.7 570.6,394.1 585.4,347.5 619.3,265.6 593.8,330.6 608.1,273.4 603.5,296.4 585.5,380.4 552.5,509 572.8,379.8 594,351.3 619.8,209.6 588,333.6 564,464.7 607,248.1 598.7,294.4 592.2,339 561.3,449.1 537.1,564 584.8,343.2 566.4,418.5 591.9,320.6 539.4,551 586.5,345.3 592.3,285.7 591.8,290.6 615.3,209.1 600.5,265.2 577,395.9 599.7,321.8 597,330 577.4,381.7 541.6,543.2 576,360.3 590,309.1 603.9,262.3 567.5,428.9 564.7,424.3 596.6,274.7 561,483.8 578.7,377.1 614.8,236.4 564.4,485.4 573.4,388.8 608.4,239.5 541.7,541.2 617,227.8 599.5,308.8 546.6,522.7 543.3,529.3 557.3,463.2 605.5,228.1 566.7,421.4 571.7,425.8 614,210.6 609.1,211.9 582.9,407.9 619,217.9 605.8,264.1 573.1,409.7 602,296.7 566.9,466.3 610.7,265.7 608.3,212 563.5,448.5 537,560.5 571.7,391.4 570.5,433.8 629.2,190.8 606.6,229.7 602.1,298.5 575.7,427.9 596.2,341 632.8,230.9 602.6,271.6 565.2,427.3 557.8,461 602.7,306.3 542.4,534.7 608.7,274.7 583.3,383.9 612.7,255.5 612.4,269.4 581.9,413.1 589.8,342.4 586.4,324.9 590.9,312.7 609.5,224.3 535.3,569.9 609,266.5 613.9,237.3 601.2,321 590.6,348.9 568.6,442.3 612.3,258.7 605.1,315.8 581.7,387.5 561,435.4 610.2,226.9 595.2,277.4 605.1,283 545.4,523.2 606.9,249.5 578.1,399.3 590.9,335.6 563.7,432.4 627.5,194.5 577.2,357.8 558.8,467.1 573.4,437.9 604.3,272.2 568.6,394.8 619.3,233 559.8,455.9 619.7,222.7 604.8,240.7 593.3,344.2 613.3,232.9 611.6,275.3 586.2,330 592.5,344.8 568.9,438.2 573.3,431.4 570.8,387.5 574,371.4 616.5,255.8 591.5,299.6 606,300.1 540.4,547.6 590.6,295 587.9,334 582.3,424.2 536.9,563.5 573,403.7 606.2,293.1 574,431.8 601,303.8 557.3,495.4 578.1,418.6 617,209.2 599.3,270.1 565,432.2 615.6,229.7 616.2,254.7 585.8,318.1 537.1,565.4 586.1,380 603.1,252.6 595.1,273.2 617.2,249.3 598.5,330.3 610.8,270.3 581.1,354.6 586.4,306.9 590.7,351.9 599.8,254.7 593.1,269 541,544.3 582.3,331.3 609.3,236.2 587.7,346.9 572.2,445.8 609.7,255.9 589.3,314.9 606.5,314.8 600.8,298.2 576.2,377.9 589.7,314.1 572.2,389.8 559.6,455.6 601.9,311.7 586.3,312.5 613.5,232.1 592.5,342.9 605.7,259.1 603.5,278.1 598,334.3 569.5,433.4 562.1,433 613,269.6 598.8,319.6 580.9,346.8 534.8,570.9 591,335.3 575.5,431.4 596.6,340.6 627.6,211.9 600.9,317.1 600.5,305.2 560.8,432.1 590.7,320.1 587.7,359.7 549.4,500.9 623.3,222.9 553.8,469.3 586.1,383 594,293.6 568,403.4 571.4,431.1 603.3,270.8 602.6,255.1 598.6,282.7 540,549.3 589,333.4 591.9,336.1 587.2,354.4 587.3,309.9"/>
<polyline class="pt" points="568.1,457.4 611.5,261.5 596.1,320.6 570.2,419.9 596.4,271.7 611.8,286.8 583.4,383.4 631.6,185.5 588.4,310.5 565.4,444.6 578.1,354.6 613.4,243.1 584.6,361.2 563.3,455.3 609.3,269.4 582.1,364.9 561.5,462.3 573.6,408.2 580.1,402.1 601.8,262.1 575.2,364.1 614.2,259.1 618,205.2 576,418.9 606.2,253.6 541.2,544 564.4,453.5 560.8,488.6 589.8,292.4 610.4,228.4 558.7,459.5 566.6,425.2 595.7,272.3 605.8,247.2 618.3,236.9 581.7,375.1 586.4,354.4 567.3,451 595.1,280.3 563.6,470.3 587.2,348.1 543.4,532.2 604.9,224.1 583.4,347.2 598.7,324.2 626.3,215.1 602.2,243.6 607.3,262.2 589.5,364.1 569.1,418.6 568,454.2 607.2,278.7 606.5,301.1 598.2,278 612.5,244.6 610.1,275.7 585.3,334.6 624.4,200.1 615.5,245.6 596.4,282.6 599.5,328.3 586.9,369.5 597.7,295.3 608.9,220.8 551.2,500.7 603.6,247.6 571.4,398.1 570.2,388.7 626.8,206 575.1,365.7 623.2,187.6 577.6,380.2 615.4,222 569.2,403.1 578.9,346.2 617.5,212.8 601.5,318.3 562,437 589.1,331.8 581.7,341.5 592.5,319.8 591.6,316.5 597.7,323.5 604.9,283.9 577.7,389.8 534.5,569.6 598.7,297.6 600.3,325.7 586.5,362.8 613,224.5 621.3,214.3 605.5,293.8 560.3,461.3 568.8,422.9 571.1,432.3 565.7,443.2 613.1,244 585.4,385.4 573,388 618.6,190.5 613,224.2 617.1,217.3 621.5,237.8 582.5,352.3 543.2,535.6 583.7,337.2 595.2,349.9 600.7,293 587.6,350.8 606.6,240.8 585.1,367.6 536.6,563.5 597.3,267 592,320.6 563.3,438.1 589.8,325.4 571.3,445 574.8,369.7 576.6,424.7 591.7,320 588.1,320.1 621,210.1 570.8,408.7 609.4,272.6 538.2,559.3 611.4,233.7 615.6,230.6 617.1,233 617.5,242.5 599.2,268 561,445.2 600.3,267.6 619.5,202 613.8,228.8 603.1,245.7 575.9,428.1 562.9,436.2 578.9,394.6 616.2,233.5 573.5,437 569.9,451.6 565,429.2 568.4,474.7 584.3,321.7 583.8,363.7 617.6,227.6 566.3,449.7 607.7,239.6 574.1,398.5 593.6,325.9 603.9,276.2 610.1,265 580.6,342.4 552.4,493.6 574.5,368.1 562.6,452.5 602.6,291.6 606.2,311.6 592.2,373.3 575.4,386.2 604.9,291.4 616,243 570.3,401.1 588,326.2 612.2,252.4 600.7,276 612.6,256.8 615.9,219.3 561.4,444.7 559.5,439.2 592.9,310.4 573.7,412.5 591.3,297.1 584.4,369 564.7,418.6 591.4,313.9 579.9,417.6 599.7,286.2 559.9,464.8 574.5,406.4 588.2,379.5 579,347.5 604.5,261.4 576.6,366.5 599.6,278.3 577.9,359.5 608.2,241.3 611.2,266.6 607.8,267.1 587.6,386.5 612.1,228.3 603.9,268.3 570.6,397.5 595.1,297.2 590,353.6 590.7,352.1 584.9,324.5 583.7,382.3 570.1,441.7 602.1,264.3 621.9,233.6 596.8,336 580.9,400.2 613,210.9 593.3,338 540,549 568.5,430 630.6,194.2 591.9,280.9 620.4,215.7 564,461.6 589.2,309.7 584.1,333.4 594.6,351 585,391.8 616.6,238.4 591.1,302.3 596.1,271.2 618.7,213.5 599,268.5 600,259.4 600.1,309.4 604.9,307.2 566.3,427.4 574.6,379.5 611.1,206.4 601.6,287.6 589.5,361.6 562.1,452 569.3,405.4 603.7,264 613.1,238 599.5,276.3 566.7,402.7 583.1,368.3 592.2,351.4 565.2,460.9 601.1,238.2 611.7,218.6 607.2,288.7 586.9,341.4 535.9,568.2 544.1,530.6 594.5,348.4 599.6,308 570.5,429.8 606.2,276.5 570,450.2 563,454.7 601,274.4 601.9,329.9 568.2,428.4 616.1,228.5 583,396.8 595.3,318.5 587.1,355.7 608.4,234 603.9,257.8 568.2,407.4 623.4,191.9 591.2,287.3 605,258.7 598,287.3 592.6,306.9 577.6,397.2 604.5,283.8 612.3,255.9 571.1,416 595.4,310.3 607.6,263.8 609.8,281.6 621.7,180.6 621.8,195.4 574.4,403.8 605.6,266.2 591,292.8 559.9,468.6 608.8,220 573.3,412.7 579.9,356.4 569.8,418.3 566.3,404 565,440.2 613.8,256.9 566.5,443.3 620.5,223.3 587.3,345.4 604,290.7 567.6,399.1 615.2,241 580,413.9 586.6,322.9 579.1,348.6 557,460 573.9,427.5 563.3,426.6 607.4,243.7 601.1,298.7 613.8,228.3 601.9,328 588.8,359.3 596.3,343.6 580.1,377 605.4,304.6 542.1,540.8 619,225.8 604.3,279.8 608.1,260.1 591.3,294.3 538,557.9 593.7,298 577.4,356.7 601.3,282.3 612.1,280.9 571.1,383.8 621.9,214.4 593.5,334.5 622.6,221.9 608.5,239.1 598.2,330.2 566.4,466.8 581.1,370.5 573.7,390.8 594.3,345 573.9,396.7 578.2,386.9 586.3,367.9 588.1,311.4 577.7,420.1 573.7,412.4 597.3,326.5 588.1,350.7 611.6,240.9 601.1,259.7 601.3,302.2 561.3,463.3 587.9,308.7 570.3,406.8 604.9,270.7 560.8,436.1 599.1,257.9 565.2,401.5 584.8,344.5 610.2,248.9 589.4,288.8 574.4,398.7 565.1,446.9 624.1,211.7 574,413.8 564.7,424.8 575.9,375.7 601,277 594.9,294.2 597.3,324.9 589.8,326.2 571.8,399.2 592.2,318.1 576.7,373.1 606.4,231.1 612.7,248.7 603,251.9 598.6,289.5 596.1,312.3 573.3,375.1 570.5,434.9 564.6,435.7 592.6,344.2 585.1,386.3 591.8,308 594.9,339.4 584.5,393.7 608.4,271.7 594.4,298 596.2,306.1 595.5,275.3 611.4,237.1 577.4,403.3 621.4,235.9 566.1,443.3 602.6,274.8 615,243.2 613.4,235.3 600.1,301 586.4,368.8 563.3,440.6 570.5,431.2 585.2,318.9 580.2,367 612.2,197.4 586.3,315.5 606.9,298.9 588.5,345.6 586.5,378.7 622,215.5 562.6,434.6 582.1,396.7 570.9,426.4 577.4,365.2 572.9,377 591.5,324.9"/>
<polyline class="pt" points="601.7,309.2 581.4,379.5 600.2,326.6 589.5,321.1 579,404.7 579.7,415.8 600.9,271.6 557.8,463.5 568.2,459.1 564.1,471.5 572.9,436.7 602.9,314.5 614.3,230.4 582.4,398.5 605.9,255.8 571.8,442.7 593.9,348.3 543.9,533.7 579.6,414.3 565.9,406.2 564.8,426.6 603.5,232.8 595.2,289.6 572.7,413.4 567.8,457.4 569.6,401.8 609.3,284.1 602.6,306.6 622.1,224.7 611.9,218.9 594.9,333.8 602.1,289.1 599,326 616.8,184.9 567.7,449.3 597,332 617.1,209.9 586.7,382.4 573.1,381.5 602.6,331 614.8,237.3 593.3,357.7 600.5,253.4 600,243.4 614,220.5 605.4,278.1 605.1,217.2 607.7,221.3 541.7,541.3 600.3,291 597.3,295.9 590.2,310 572.9,450.2 554.3,492.9 577.9,369.3 567.1,427.2 572.6,404.3 593.5,311.1 604.3,275.4 578.3,393.6 600.4,253.2 587.6,343 604.6,260.4 609.2,271 582.1,384.4 568.9,444.2 596.6,327.7 582.8,387.8 619.8,227 600.9,334 579.5,401.5 596.4,307.1 603.3,248.6 608.9,294.7 566.2,411.1 581.2,357.9 607.7,312.7 555.3,498.4 575.2,386 580.8,405.1 602.7,250.9 615.5,218.2 610.7,220 614,260.6 589.9,366.5 603.2,291.9 609.2,244.3 610.2,260 615.3,215.2 587.3,404.2 604.7,248.2 568.6,457.3 562.3,440.1 564.5,460.8 585,371.6 597.4,263.7 563.4,444.1 559.8,459.2 566.7,404.1 595.2,298.1 597.3,339.2 620.2,184.1 595.6,271.4 614.8,227.3 536.3,564.3 626.3,200.3 592.6,335.1 574.1,396.8 576.5,419.5 616.9,235.7 580.6,349 559.9,457.9 576.4,423.2 618.5,229.7 597.4,277.1 606.5,275.6 563.8,442.3 613.9,245.1 578.1,417.9 563.5,433.9 566.6,431.3 582,361.4 602,295.6 561.5,437.3 582.7,395.5 593.1,286.6 576.7,397.1 606.3,228.9 601.3,319.3 605.9,245.1 546.6,521.3 589.5,296.6 584.6,340.1 584.1,360.6 580.8,356.9 600.7,282.9 610.5,249.8 534.7,570.5 552.4,478.9 622.1,233.4 577.7,377.3 609.2,215.4 615.2,251.2 602.9,297.2 573.6,440.6 564.2,455.4 606.6,219.8 613.8,223 574.2,416.6 595.6,281.4 615.4,276.3 593.5,293.1 576.6,397.4 615.2,249.6 568.7,429.3 590.8,308.3 615.3,266.3 584.7,321.9 592.2,289.7 561.7,465.6 612.1,230.8 601.3,269.7 572.8,383.2 571.9,445.5 567.6,442.7 581.3,370.5 586.9,342.5 579.9,383.3 569.4,407.1 594.9,269.8 604.5,303 626,194 595.9,328.6 613.2,204.3 589.6,322.6 626.6,179.8 606,279.8 628.6,195.2 597.9,321.3 606.3,266.8 616.9,231.1 615,230.9 616.2,218.6 596.5,285 565.2,401 631.9,168.8 613.6,268.4 610.3,245.5 590.5,304.3 604.5,264.5 610,240.1 604.2,250.2 575.5,403.6 593.2,336.5 587.6,336.5 581.7,392 584.9,355.1 580.2,378.4 582.1,373.5 583.4,344.9 584.7,317.7 597.9,273.5 573.3,411.8 597,261.7 563.8,422.5 624.2,209.3 596.1,339.2 610.9,277.5 589.2,338.3 612.4,287.3 559.4,463.4 569.9,388.4 596.8,302.4 598.1,313.7 556.4,465.6 585.4,338.3 598.2,309.5 589.7,341.9 561.2,436.7 604.3,262.3 600.1,256.1 585,328 597.4,264.1 597,304 616,241.2 578.7,387.1 562.4,488.2 586.3,374.5 577.4,361.4 608.9,228.6 582.8,400.6 593.3,317.5 541.9,543.4 598.8,321.2 545.3,525.4 581.9,368.9 572.4,381.7 617,231.1 560.7,464.3 565.6,413.2 607,261.6 624.1,195.7 535.6,563.3 587.9,312.1 587.5,357.3 545.4,523.1 566.1,431.7 606.5,221.6 607.2,227.9 620.8,177.1 609.2,215.7 591.3,344.7 591.4,343.6 611.1,269.3 618.2,225.8 569.9,452.8 591.7,357.5 573.2,428.6 617.9,229.1 600.7,236.1 601.7,273.3 540.6,542.9 580.8,368.5 585.1,317.5 610.2,251.1 572.2,394.7 574.2,410.1 600.8,274.3 582.6,400.5 599,255 619.4,236.8 601.2,300 612.8,257.6 613.6,252 608.1,309.6 600.9,300.4 588.8,326.4 596.5,289.8 615,201.7 560.5,438 545.5,520 580.8,395.9 589.5,315.5 567,433.3 604.2,273 564.8,464.3 569.4,446.7 573.7,382.6 587,350.5 591.4,341.4 595,330.9 587.8,341.7 576.7,409.2 597.9,302.2 556.4,456.3 544,532.1 584,358.8 608.4,217.6 604.9,235.4 543,535.9 561.9,436.2 575.7,364.8 626.5,197.1 610.2,257.6 571.3,413.3 566.8,420.5 594,288.7 596.8,303.4 619.7,226.2 578.5,392.5 583.9,379.2 579.3,396.3 557.4,452.3 579.8,389.2 566.7,419.2 577.1,426.2 572.2,377 570.6,425.3 573.7,388 565.7,414.5 544.7,526.7 599.5,322.1 604.8,304.1 581.3,411.2 597.7,285.4 567.1,409.1 566.2,439.7 591.9,337 582,396.4 577.2,376 566.4,424.1 541.6,540 612.2,207.7 589.6,360 583.2,378.3 595.8,277.6 583.5,348.6 598.5,327.2 573.7,411.8 619.6,225.1 584,358.5 570.9,415.7 598.2,267.3 607.5,254 564.7,422.5 578.6,419.1 588.2,364.5 582.7,372.3 575.3,428.4 544.5,525.8 629.2,174.7 587.3,353 599.5,255.7 601.7,252.8 604.1,259.6 609.2,246.2 605.7,234.7 577.7,398.5 601.9,302.1 584.1,351.1 588.4,313.7 603.4,297.5 565.4,408.6 626.9,236.2 596.5,285 571.4,404.6 564.2,446 569.5,417.3 562.4,478.2 536.4,568.8 613.2,288.6 578,379.6 607.5,246.8 616.5,184.3 543.7,532.7 610.4,264.5 603.4,315.7 594.5,333.4 613,244 561.6,458.9 595.9,277.4 607.3,274.7 593.1,288.5 622.1,229.4 614.4,214.3 619.4,219.6 538.1,553.2 613.3,244.6 607.7,262.6 571.2,440.7 582.7,378.2 599.5,293.6 562.2,442.2 631,187.2 557.8,452.3 595.3,307.1 539.6,551.6 579.3,373.8 600.3,298.4 592,308.6"/>
<polyline class="pt" points="574.8,398 586.7,310.2 573.9,419.8 583.6,353.6 575,392.2 592.6,311.1 589.2,326.6 619.9,210.5 542.1,541.1 600.2,246.2 594.1,328.8 617.8,218 578.6,413.3 569.4,416.9 607.7,229.3 619.1,229.2 581.8,352.5 605.3,261.3 577.3,399 606,266 559.7,449.8 616.3,240.2 597.4,255.8 577.6,407.8 581.7,329.7 586.9,338.7 573,437.6 600.7,290.2 592,297.4 576.9,422.3 614.9,222.8 598.2,304.5 543.1,533.4 611,270.7 602.3,295.5 608.7,258.7 613.9,216 596.2,316.5 615.8,243.9 605,311.1 560.3,478.5 565.4,412.2 577,424.8 614.4,240.2 614.3,237.2 546.2,521.1 585.2,363.3 615.6,242 557.8,453.8 559.9,453 610.6,260.4 586.4,341.7 596.7,288.1 599.9,306.7 622.8,213.9 595.6,300.9 586.6,310.7 564.5,462.8 593.4,299.7 571.6,437.3 596.8,311.6 617.5,199 580.1,386.6 613,244.4 602.9,295.8 583.2,354.6 605.1,226.7 583,356.3 586.2,374.5 537.5,560.5 581.4,391 538.6,552.1 559.6,466.8 600.2,289.1 609.5,282.5 632.9,183.4 607.4,282.5 587.1,305 585.6,370.4 593.7,283.5 601.6,262.9 591.1,290.2 585.1,352.7 541,545.3 567.1,406 592.1,332.3 597.4,322.7 544.6,529.3 575.5,380.3 593.4,287.4 604.4,308.1 618.8,214.7 591.9,341.2 604.1,307.8 621.6,204 593.5,299.2 558.6,448.1 605.5,304.4 590.7,327 540.4,544.4 545.4,522.5 614.7,205.6 559.2,464.8 609.1,223.7 590.9,300.7 605.5,254.7 566.1,463 627.4,222.5 566,456.5 573.1,424.8 567,422.4 583.1,349.4 598.4,268.6 605.8,294.7 612.3,268.4 603.8,282.8 574.3,379.6 567.4,406 573.7,395.2 596.5,298.8 581.2,360.9 607.9,279.5 578.7,429.2 595.5,294.3 584.1,337.4 606.1,259.5 571.7,438.8 626.7,199.2 597.4,292.9 599,327.5 622.1,187.4 576.7,368.4 592.6,288 571.7,397.7 577.9,415.3 569.2,403.9 600.7,272.5 569.3,406.5 598.4,331.7 621.2,217.8 537.1,558.1 581.2,395.9 563.6,464.6 617.9,231.8 620.4,244.4 537.7,558.2 541.3,539.8 605.5,239.8 597.4,275.3 586.4,372.9 595.9,303.8 570.8,433.1 540.7,546.1 562.8,433.2 565,417.4 592.7,290 570.6,420.3 585.5,326.6 541.4,538.6 614.1,217.7 573.1,401 566.8,451.8 551.5,489.2 566.7,414.6 619.1,204.5 577.2,420.4 571.5,403.7 597.6,321.9 593.8,315.2 611.7,227.2 621.5,219.4 570.3,446.6 595.9,350.3 573,411.2 565.2,417.7 596.9,293.8 612.5,239.2 571.9,406.1 614.9,227.9 570.9,385 583.5,359 603.4,260 611.8,223.6 597,303.9 614.5,216.9 611.7,261.7 569.8,446.5 584.4,377.9 610.8,214.2 581.9,347.3 578.6,392.9 610.7,249.6 617.1,233.1 574.9,365.2 589.6,302 597.5,287.6 590.2,343 586.5,360.5 563.7,426.3 596.4,313 590.5,350 562,429.5 570.8,414.2 587.5,326.2 544.9,524.1 612.6,280.1 599.9,303.4 621.4,208 604.6,270.8 575,384.4 566.5,458.1 555,496.8 602,254 545.1,527.6 578.3,395.1 562.5,425.3 617,225.4 615.1,206.1 590.4,302.9 580.9,399.4 561.9,431 616.7,212 588.9,341.4 600.9,295.2 601.3,253.1 582.6,364.1 567.4,453.8 611.6,267.2 559.1,467.6 546.3,524.7 587.3,300 626.1,202.8 584.5,349.3 592,308 571.5,410.7 592.9,335 580,373.8 593.1,343.3 575.4,361 608.6,251.3 581.7,405.1 619.2,194.7 592.4,347.5 608.8,276.8 611.3,213.9 576.5,396.1 621.3,222.8 603.3,250 583.3,392.5 540.9,540.4 582.9,397.5 603.5,247.3 603.9,261 605.2,288.5 599.4,290.6 572.9,417.1 604.1,302.9 612.5,255.4 577,385.4 583.4,325.9 584,380.4 601,267.8 611.6,275.1 592,293.2 610.4,234 613.3,240.5 552.7,492.3 573.1,414 602.3,277.8 616.7,236.7 606.5,239 603.1,226.4 564.8,423.5 609.6,246.5 602.6,314.9 618.9,232.8 616.1,215.2 590.6,331.4 592,315.1 629.4,166.8 622.3,213.3 615.8,232.3 616.9,247.9 571.7,407 582.6,382.4 619.6,211.5 615.6,246.4 599.6,318.8 589.2,304.2 543.5,534.2 603.6,305.6 592.2,331.4 570.3,467.8 563.6,490.2 575.6,418.4 571.7,423.8 617.8,224 600.9,319.6 613.4,235.1 606.9,278 574.1,434.8 537.2,561.3 627.5,201.2 587.9,367.1 602.6,273.5 544.5,531.4 579.7,347.1 615,233.1 595.8,289.9 618.3,237.6 566.8,425.6 581.1,398.8 617.2,226.1 569.8,405.6 604.6,242 574.2,415.3 578.4,412.9 562,447 581.9,384.8 600.1,304 568.3,415.1 572.5,405.2 626,216.6 617.1,224.2 587.1,319.1 590.3,288.8 579.9,402.2 585.4,345.7 568.9,438.9 588.5,332.6 605.6,241.8 595.4,284.1 585,354.1 582.6,375.7 579,384.7 575.7,368.8 585.9,385.6 569.7,425.7 570.5,410.6 544.2,528.1 585.6,344 600.5,274.7 614,253.3 604.6,232.9 605.9,242.1 597.3,290.6 587.9,366.2 606,212.9 561.9,455.9 593.1,344 571.2,446.2 539.8,551.2 585.4,316.4 586.6,372.9 570.2,405 580.6,403.7 586.9,302.6 565.7,412.2 580.9,421.9 591.9,311.4 562.3,448.8 612.4,248.5 604.6,248.3 611.9,240.8 580.8,389.2 597.1,332.9 560.5,433.7 577.8,388.2 560.2,448.4 603.3,312.4 612.4,257 564.9,430.5 614.9,237.8 577.1,410.4 624.8,189.3 536.4,564.9 578.6,399.2 605.7,230.3 581.1,373.6 603.8,312.1 601.7,242.5 568.6,402.4 607.5,290.4 603.7,303 607.2,299.8 611.3,213.9 599.9,249.1 592.1,325.8 592.6,278.4 609.3,232.6 608.2,256.9 543.8,531 607.2,227.9 615.6,232 594.4,297.2 614.3,213.9 580.4,383.6 607.3,250.2 614.1,284.5 556.6,496.4"/>
<polyline class="pt" points="586.8,359.8 608.4,285.3 619.8,216.2 584.3,360.8 598,276.2 610.3,261.4 597.4,315.5 585.7,322.4 627.6,193.6 597,297.2 573.2,441.3 556.2,470 610.3,247.6 546.8,521.7 596.7,290.9 558.9,451 569.9,420 592.1,341.5 581.5,385.8 625.2,193.8 594.8,316 614.3,247.8 605.7,233.7 616.3,233.9 589.5,318.9 588.7,342.1 564.9,462.6 575.3,427.6 603.9,299.5 611.5,250.5 575.8,423.4 536.9,561 583.5,409.3 614.3,220.9 608.5,244.2 578.4,399.7 567.2,445 585,398.1 584.9,375.9 563.3,465.7 592.2,305.3 568.2,437.1 607.7,283.6 580.2,391.1 617.2,211.5 573.8,427.6 588.6,369.5 542,540.2 587.6,368.7 592.5,321.6 594.8,301.7 562.5,451.6 581.2,394.4 586.3,372.1 539,552.4 618.4,224.7 582.7,364.4 573.8,439.3 612.3,241.8 593.7,306.8 594.1,295.2 562.3,428.8 567.3,450.3 602.2,270.1 583.8,365.9 590.5,337.9 620,208.6 591,309.7 618,216.8 562,465.3 617.5,226.6 607.6,265.6 540.4,546.4 588.8,301.2 597.6,321.3 593.5,334.1 569.6,417.2 576.3,425.4 561.3,432.4 594.7,336.4 625.1,196.6 581.9,348 587.9,299.9 589.4,334 570.8,448.4 568.2,410.5 591.1,312.4 557.4,467 611.7,230.7 540.9,542.8 610.7,220.9 558.9,462.9 578.1,423.2 604.2,285.4 590.6,331.5 606.4,230.2 563.5,452.8 574.6,400.1 592.7,334.2 590,324.1 596.8,318.6 559.5,459.3 588.6,312.9 606.6,243.9 578.8,415.9 567.4,431.5 604.3,265.5 581.4,390.3 599.4,251.8 613.2,242.2 603.7,294 559.8,461.9 561.1,440.3 585.7,339.9 572,397.6 607.3,243.4 595.3,333.1 600.8,280.7 542,541.9 632.2,176.1 586.9,358.1 569.7,391.7 593.9,275.4 593.1,346.4 608.9,217.7 606.9,285.3 617.5,235.4 576.6,359.9 603,307.9 606.4,267 598.7,326.2 578.4,393.5 594.9,285.9 579.1,376.7 588.6,373.4 615,244.8 542.4,536.4 614.2,221.5 577.9,407.2 577.3,396.2 583.9,323.2 601.8,260.2 599,287.9 573.5,379.1 626.4,196.2 616.6,203.2 579.5,378.8 613.3,219.3 562.9,450.4 546.5,520.1 574.8,419.2 579.9,367.9 614.9,219.8 534.7,571 597.9,268.7 585.9,382.2 591.3,325.7 588.8,375.6 627.1,215.3 597.4,328.2 588.8,300.6 595.5,281.2 558,450.4 611.6,245.6 594.2,278.8 591.1,342.1 571,393.8 576.7,360.6 624.7,192.4 604.3,247.4 597.6,263.6 536.3,567.6 567.8,453.1 608.3,226.9 624.6,248.1 596.4,295.7 565.1,447.6 586.1,361.1 598.7,267.4 568.8,424.3 598.9,262.3 602.6,282.1 605.9,234.5 537.9,560.3 566.7,468 597.5,318.1 633.9,175.3 603.9,309.8 577.1,393 585.5,386.9 576.2,362.6 590,346.6 620.2,225.3 599.5,257.4 606.7,236.6 601.1,291.5 599.9,283.6 594.4,273.7 602.7,246.7 616,198 589.2,312.4 561.3,444.2 602.6,279.7 601.3,301.3 576.6,384.2 603.4,235.3 567.9,424.3 620.9,191.1 563.3,452.7 566.9,460.7 594.5,300 576.5,367.6 579.8,406.8 613.2,257.5 609.1,227.5 583.8,372.6 607.3,285.9 596.3,317.5 599.4,322.5 599.9,260.5 592.3,346.7 586.9,301.7 598.5,268.1 543,531.7 617.9,229 600.2,246.1 597.3,302.4 589.5,312 624,184.2 613.9,228.3 593.5,296.4 600.8,296.7 572.3,388.3 581.3,411.2 611.6,259.9 582.7,362.6 603.1,252 588.1,353.1 538.7,550.7 567.7,392.7 582.1,381.9 566.3,466.4 573.6,375.8 605.7,298.8 568.1,411.8 575.8,366.6 593.1,340.1 578.5,371.7 618.7,186.9 622.6,192.6 575.2,381.6 600.6,258.9 563.1,446.1 542.1,539.4 606.1,272.9 572.9,413.7 563.7,431.7 624.4,167.8 607,294.1 573.6,382.9 615.7,258.1 578.9,387.6 561.6,448 570.7,443.6 582.9,372.7 578.7,384.2 613.9,264.3 603.3,274 625,207.4 610.4,221.5 567.5,417.2 597,323.6 576.3,420.3 538.1,555.6 636.6,188.6 567.8,431.2 585,372.9 567.1,424.4 605.2,301.8 573.5,430.4 615.1,199.3 596.9,271.4 611.7,253.9 566.2,409.5 607.1,283.3 606.4,295.3 582.6,393.3 575.8,388.7 589.8,337.9 542.4,538.2 583.5,328.1 608.6,237.3 541.9,541.7 582.2,362.3 618.9,207.5 586.4,390 586.7,352.4 612.3,243.5 556.5,473.2 568.3,410.8 606.9,247.2 594.2,306.1 606.3,281.8 611.8,271.4 598.2,315.3 600.1,323.8 585.6,389.6 590.7,339.6 542.9,537.6 579.7,347.7 570.5,398.3 621.5,244.6 565.3,423 585.2,349.5 605.5,248 576.8,359.2 578,352.6 577,424.6 546.3,520.7 557,469.3 573.8,409.5 624.4,208.2 584.5,376.4 566,448 610.6,270.4 571.7,437.8 565.9,407.7 611.4,235.6 575.9,421.8 575.6,396.6 590,318.9 610.7,216.9 537.1,556 579.3,380.8 635.5,199 584.4,335.4 603.6,303 571.8,388.7 603.7,286.9 617.2,240.3 569.4,416.1 535.1,569 588.9,351.1 614.1,265.5 610.1,253.7 605.6,248.4 608.5,252.1 559.8,450.2 599.7,289.7 627.8,227.8 608.1,276.8 573.2,376.5 571.1,405.5 599.8,322.9 601.1,256.8 618.1,234.7 562.7,458.4 601.7,304.4 588.1,328.2 600.7,275.8 607.2,274.3 593.4,311.1 563.2,438.7 614.4,197.7 566,438.4 598.6,252.3 572.6,428.7 600.2,272.2 585.6,371 575.4,375.3 613.5,217.8 612.2,259.4 566.7,419 596.3,289.9 539.5,548.4 615.1,238 580.9,373 608.8,218.5 586.3,335.9 574.2,379.4 594.2,306.4 584.8,381 568.5,459.7 630.2,197.5 614.6,219.7 583.6,360 576.1,414 563.3,436 581.3,373.7 609.5,287.9 590.4,360.4 578.9,387.7 572.7,430.3 600.1,272.8 567.4,445.5 545.5,521.1 587.9,327.6 586.3,386.5 574.4,405.5 628.1,193"/>
<polyline class="pt" points="587.1,335.8 588.8,313.7 568.7,439.5 567.4,460.5 602.2,267.9 607.5,279 606.5,313 591.4,337.2 610.3,235.2 603,231.4 586.4,342.1 601.5,315.5 610.6,265.8 556.4,462.6 584.3,335.8 604.9,260.5 602.9,274.5 616.3,201.2 618.7,245.2 615.4,222.1 605.6,224.9 616.4,231.8 618,236.6 580.6,361.2 570.9,382.2 561.3,438.7 601.8,276.6 584.8,387.5 637.7,213.3 617.9,228.7 583,397.9 604.1,299.2 611.4,207.9 575.9,374 576.1,390.8 597.5,309.2 601.5,245.8 561.7,435.3 576.5,365.4 610.1,277.7 574.8,427.9 580.1,378.6 550.9,508.4 578.2,374.5 585.5,329.7 604.9,244.4 591.4,352.8 611.6,222.4 623,186.1 619.7,181.2 590.5,335.7 591.3,299.7 603.7,279.5 607.1,281.4 609.4,271.9 594.2,323.6 613.2,256.6 614.5,256.5 604,303.2 591.1,314.1 592.7,356.5 563.7,455.7 604,286.2 617.1,231.3 609.1,242.3 602.9,234.9 569,435.6 581.6,386.8 616.7,244.4 572.9,422.8 566.5,454 587.1,314.3 576.8,376.1 614.9,199.6 579.1,376.6 566.7,466.5 558.7,461.5 620.6,196.5 568.2,408.1 599.6,278.9 582.1,342.1 596.5,289.7 586.6,352.5 578.3,361.2 542.3,537.7 590.1,305.3 589.5,324 598.8,328.3 574.9,436.4 597.5,337.1 594.7,280.4 573.2,425.1 582.5,326.4 563.1,468.5 566.1,459.5 603.9,300.9 578.2,381.4 534,567.3 589,324.6 609.2,273.2 599,286.9 591.6,339.9 596.2,332.6 589.4,337.8 574.7,416.1 568.4,412.9 620.4,203.5 576.1,391.9 627.8,203.7 563.8,438.5 597.7,263.4 598.9,325.9 567.7,459.2 570.5,391.4 607.5,283.8 575,421.4 613.7,215 539.2,551.3 606.3,292 573.9,407.9 575.9,425.3 580.3,408.2 573,400.3 583,350.3 580.8,377.2 562.7,438.6 578.1,401.2 576,413.8 592.3,358.2 594.8,309 589.1,312.2 621.7,179.7 606.3,277.3 567.9,447.2 606,313.6 584.9,403.8 574.3,421.1 564.3,454 600.7,314.5 566.6,422.1 595.2,290.4 587.9,380.8 566.5,410.3 604.1,300.6 619.2,223.1 564.3,455.2 616.4,252.9 620.6,220.8 576,386.9 535.7,570.2 561.8,463 568.8,442.7 574,430.7 570.4,413.1 573.2,380.5 628,206.5 573.6,423.6 579.6,400.4 613.8,252.3 610.9,280.7 566.5,461.8 610.1,222.3 585.2,365.7 561.5,455.8 596.5,296.3 581.1,381 602.7,302.2 578.4,437.3 619.9,222.3 616.3,219.1 544.4,530.1 616.7,225.6 607.6,243.6 590.8,305 616,229.4 610.5,280.2 574.4,375.2 615.2,233.7 605,258.2 600.8,269.2 577.6,411.4 612.1,200.7 572.9,399.3 609.8,255.4 583,405.8 587.4,307.7 614.3,260.9 565.5,460.1 612.4,251 589.7,287.7 606.5,293.3 630,189 601.1,317.1 583.2,388 540.4,543.9 576.3,414.5 609.6,261.1 594,311.7 607.2,220.1 582,328.9 631.6,180.1 539,555 607.8,263.1 571,439.1 595.9,279.2 587,294.2 548.2,519.6 617.4,248.7 591.5,330.5 574.7,409.4 616.2,252.8 563.4,424.2 598.5,272.4 585.4,346.1 566.3,462 565.9,414.4 565.6,428.2 607.5,280.5 598.2,293.5 590.1,353.3 542.8,534.5 623.7,190.5 592.8,349.9 589.7,290.1 593.3,345 610.1,246.5 606.8,269.8 603.3,269.8 564.3,432.8 572.9,435.2 614.7,220.6 578.6,416.7 586.7,340.2 543.1,535.3 583.2,337.5 580,414.8 589.1,359.4 577.7,425.2 599.7,248.9 575.6,412.6 569,421.8 559.6,451.3 619.4,229.4 615.5,248.2 601.1,321.1 594.6,348.7 618.6,220.7 616.1,250 591.8,291.8 592.4,298.1 609.6,218.7 576.4,377.7 617.8,219.1 611.6,208.5 602.1,285.5 595.6,325.1 564.5,444.3 599.3,261.6 541.2,537.9 629.1,186.4 565.4,458.4 598.6,267.7 617.7,229.2 590.6,296 583.7,385.3 608,257.3 603.8,275.1 566,409.4 618.4,235.3 590.4,365.6 594.8,320.1 585.9,388.1 574.3,369.2 603.9,307.1 604.5,273.3 609.2,294.8 543.1,535.7 578.3,398.9 565.1,460.2 594.3,330.4 593,316.7 611.9,304.2 586.3,364.4 566.7,416.1 567.9,426.1 601.6,241.9 577.4,404.1 603,296.8 587.1,329.4 578.6,375.1 545.5,522.8 575.7,395.6 612.5,255.5 556.8,455 600.9,276.9 536.3,568.6 585.8,347.6 576.4,394.4 595.2,318.6 585,364.1 577.6,398 565.5,410.9 586.8,334.5 591.5,345.8 580.6,382.8 595.6,290.7 602.7,306.5 583.3,353.8 595.9,278.4 604.9,283.3 560.7,443.5 571.7,445.4 617.8,238.7 575.5,401.6 584.8,389.7 612.5,269.7 613.2,230 608.5,260.6 560.3,462.5 618.6,219.9 584.3,354.1 592.9,298.4 601.4,256.4 537.3,556.3 603.3,250.7 606.7,259 585.2,349.2 578.2,421.5 595.1,284.7 555.9,491.6 586.9,319.3 571,412.4 613.1,267.1 589.5,335.3 588.5,368.3 569.1,430.1 536.5,566.3 597.9,332.7 580.5,344.3 571.2,433.6 569.5,435.7 595.9,305.9 587.8,370.9 584.3,333.6 545.8,523.7 539.2,547.7 606.8,246.9 609,236.8 609.9,272.1 568.2,436.9 564.7,441.1 617.5,216.1 628,200.1 597.8,316.1 615.7,205.4 623.8,201 562.3,470.8 580.3,349.7 580.8,373.6 563.4,465 574.5,398 588.3,319.8 601.6,308.9 608.4,223.1 585.6,353.1 587.1,356.9 616.9,245.6 608.7,206.4 543.4,533.9 572.1,398.3 558.3,479.5 582.3,343.8 610.8,246.3 611.1,239.4 605.3,268.2 577.1,359.5 593.9,332.2 599.4,305.9 623.7,209.4 566.5,433 556.5,469.6 573.4,423.4 589.5,365.1 566.5,435 606.9,268.2 565.2,445.2 567.3,414.5 598.6,301.4 560.3,463.8 602.4,286.4 544.3,525 599.4,253.8 611.2,261.1 582.6,338.8 585.8,314.2 594.9,296.9 589.2,311.7 566.9,416 596.6,278.2 593.3,342.6"/>
<polyline class="pt" points="540.1,545.7 569.1,441.3 586.2,374.6 565.5,467.5 561.1,469.2 584.4,390.1 563.3,456.6 589.2,298 581,374.9 609.6,241 579.1,401 569.3,438.3 567.1,419.7 608,276.6 578.1,360.3 541.7,535.4 585.6,363.4 613.4,214.9 609.3,264.8 598.9,312.7 565.4,423.4 585.6,319.3 584.7,389.1 617.1,230.2 577,421.1 591.4,292.1 584.6,316.6 595,285 591.4,292.9 607.2,221.4 602.9,265.3 601.6,282.4 601.5,250.1 590,358.2 578.6,414.6 594.6,300.7 578.4,393.2 601.6,271.2 574.8,395.4 581.5,353 572.1,374.9 593.9,306.6 601.8,241.3 590.5,295.3 599.4,306.7 579,358.6 601.5,254.4 604.1,279 604.5,288.2 581.1,372.9 572.4,427.5 604.8,268.7 605,290.4 537.1,561.8 623.7,210.1 602.3,262.7 592.1,312 562.7,454.5 579.2,355.4 587.4,355.3 585.8,370.9 603,304.7 590.6,334.8 580.1,354.8 572.6,412.3 593.4,347.4 577,357.5 609,237.6 605.5,310 584.8,397.6 617.2,239 608.7,265.8 569.6,442.4 606.6,283.1 612.3,247.2 597.9,275.8 546.6,524.5 585.5,380.9 573.2,397.9 590.9,343.1 590.3,291.3 570,411.2 564.8,449.4 545.1,521.8 599.2,288.9 559.9,480.1 590.1,308.9 598.6,311.7 608,270.6 580,380.6 597.4,287.9 573.9,419.1 600.5,308.2 588.1,329.4 607.2,229.9 587.9,353.3 600.9,284.4 572.6,420.7 604,284.7 610.8,221.7 610,275.6 561.7,453.8 567.9,422.1 572.2,398.6 576.4,418.1 544.5,529.9 589.3,313.6 559.6,462.1 603,297.6 617.8,255.1 581.7,372.1 569.7,435.4 596.8,336.4 611.7,238 597.3,319.9 590.6,316.7 567.9,455.9 600.2,276.4 595.6,307.4 584.9,351.7 571.9,444.3 563.5,436.5 538.8,553.5 602.2,297 582.7,389.4 570.3,419.8 583.3,395 582.4,391.1 545.6,524.3 538.7,555.1 558.7,470.9 607.3,265.1 565.1,464 602,276 557.3,456.8 586.9,363.1 605,272.8 534.4,568.4 590.4,367 617,236.2 612.1,241.5 611.9,255 580.9,343.2 572.3,408 579.3,384 587.1,347.4 583.4,384.7 583.1,401.9 558.2,454 559,449.4 602.4,309.6 584.5,327.2 588.5,315.9 577.9,366.8 581.6,404.5 612.3,229.9 580.6,405.9 603.5,274.9 538.9,553 572.4,401.6 574.1,399.9 574.8,425.1 604.5,287.3 589.5,319.7 572,376.7 587.5,344.4 615.5,249.4 610.8,228.6 605.9,269.2 597.8,294 602.9,318.7 570.3,394.4 535.9,565.7 591.4,336.2 598.8,278.6 613.8,244.8 575.8,400.3 624.5,211.5 558,456.4 596.6,295.7 582.3,346.4 573.2,387.1 571.7,434.7 592.4,286.3 604.6,288 569.4,395.1 565.3,425.6 599.4,331.8 593.6,348.3 576.2,416.2 577.5,408.4 610.8,232.1 535.3,569.3 570.8,422.3 562.4,447.7 599.7,279.2 628.4,240.4 584.5,374.2 563.9,465.2 601.5,278.1 606.6,296.1 581.3,373.3 560.9,489.9 606.9,214.7 602.9,249.7 582.4,355.7 594.8,327.7 580.7,396.1 627.5,204.7 605.2,259.5 592.5,305.9 592.9,313.1 609.1,245.4 597.1,334.5 619.5,216.1 567.9,415.5 580.6,370 569.7,394.9 612.2,262.8 599.6,258.5 572,365 557.4,464.4 605.2,286.8 592.1,320.8 579.4,385.2 602.3,325.7 613.5,238.5 619,216 587.9,317.2 597.9,315.9 561.9,457.2 581.4,343.1 597.6,319.9 633.6,199.2 587.3,356.9 608.4,222.6 585.9,369.8 599.3,301.6 613.9,236.3 608.7,216.8 614,230.5 558.9,448.9 572.2,420.5 606.2,265 564.9,416.6 615.6,254.4 625.4,194.8 575.9,385.4 572.3,381.4 610.3,250.7 570.1,459.2 593.4,314.1 567.3,424.6 609.2,215.6 611.3,219.4 568.7,457.9 601.6,303.8 597,266.7 619,225.4 567.3,409.8 566.5,409.9 570.3,420.1 589.8,313.2 610,215 598.5,291.9 598.9,326.5 581.4,347.8 536.7,560.1 590.1,322.7 575.5,375.2 602,300.1 576.9,436.9 589.1,307.7 582.1,354.8 538.8,552.8 604.4,310.6 613.4,193.4 611.1,300.3 597,293.1 604.4,229.8 594.2,280.5 603.3,297.7 576.8,422 555.5,466.6 564.8,437.4 573,378.6 588.3,303.5 577.3,396.3 596.3,307.6 606.2,228.3 582.4,345.3 582.3,398.3 566.3,458.5 612,251.2 596.1,300.3 585.7,331.6 580.9,378.5 611.9,234.4 589.9,290.3 581.7,394.7 570.1,454.8 605.5,284.8 603.7,310.2 555.9,466.3 615.1,250.5 558.9,480.3 614,305.8 605.3,263.3 583.5,383.1 596.6,298.8 594.4,319.3 606.4,286.8 583.7,380.8 601.3,278.6 607.9,246.4 604.4,296.5 596.5,307.1 605.7,302.7 565.3,462.3 602.7,307.2 541.6,542.4 545,527.9 604.9,304.8 606.1,219.8 603.7,256.5 586.7,334.8 609.1,286.6 603.9,308.3 592.9,290.7 582.1,334.2 616.9,182.8 611.6,218 584.9,385.5 608.5,227.6 567.8,458.8 570,400.9 589.5,330.6 612.3,253.6 544.2,532.6 609.3,264.7 611.9,239.1 600.2,258.8 610.3,303.1 613.4,259 588.7,311.7 586,370.9 561.5,439.4 616.7,218.7 561.4,461.8 567,460.3 601.7,301.6 608.2,218.9 576.3,371.3 618.2,216.3 595.1,311.4 601.4,266.1 590.1,369 603.3,283.7 608.2,284.2 575.9,431.6 575.5,370 587.3,376.2 596.1,330.5 581.2,341.9 603.4,251.2 611.1,210.6 580.8,352.5 606.9,290.9 571.3,387.4 605.9,244.2 583,394 601.7,245.3 579.9,411 616.2,218.2 537.8,554.1 617.1,238.2 617.7,207.1 606.3,260.8 612.8,216.3 582.8,324.5 596.8,262.5 592.5,314 536.4,560.8 584.2,374.7 574,379.3 562.6,435.8 589,306.9 581.9,355 566.9,427.1 569.7,451.8 612.6,271.8 584.6,337.2 606.3,244.8 621.5,192.2 562.6,447.6 561.5,461.3 556.9,452.9 600,279.3 577.6,391.6 581.1,399.9"/>
<polyline class="pt" points="611.6,216.6 577.7,357.7 545.2,528.4 579.4,391 545.1,526.1 556.7,451.5 609.9,221.3 561.1,443 584.6,329.8 634.9,170.1 564.3,435.6 594.9,282.1 604.7,300.4 602.9,292.2 594.5,306.6 622.1,182.3 568.7,393.6 618.8,228 573.9,409.1 620.6,230 552.2,473.5 604.7,291.8 600.8,247 585.1,354.3 568.3,426.7 600.7,248.5 614.7,233.1 588.4,339.2 593.6,303.2 612.6,255.6 594.7,334.4 583.7,360 606.4,291.5 604,269.2 604.1,264.9 602.6,289.9 609.6,253.4 569.4,429 574.2,432.1 578.8,396.9 611.6,250.7 613.7,221.8 537.9,554 613.8,242 572.2,410.1 540.5,544.6 621.1,221.3 604.9,251.5 573.3,426.1 601.2,256.5 572.4,381.8 573.4,398.1 584.1,371.5 594.9,327.8 618.8,198.2 605,291.2 619,247.4 578.3,390 606.2,266.7 536.7,562.1 555,466 575.5,371.2 567.8,471.3 595.4,326.9 574.1,379.9 544.5,522 581.4,378.2 604.7,245.1 579.4,362.2 618.8,209.6 589.3,299.8 599.5,257.9 572.9,433 623.3,206.7 619.7,237.8 576.4,416.8 581.8,353.8 584.3,361.4 588,327.3 565.3,413.8 625.5,197.2 570.3,411.9 602.7,267.6 601,261.8 601.2,305.3 605.7,222.5 562.2,441.3 616.5,243.2 612.7,226 572,407.1 618.6,233.4 613.9,221.8 606.5,223.1 578.8,390 607.6,274.3 607.8,267 611.3,256.9 582.5,406.7 602.6,248.8 580.1,372 597.7,286.6 565.2,450.6 574.6,394.9 586.6,366 607.7,282.8 587.6,335 571.7,383.2 618,243.1 579.5,402.4 567.1,424.3 579.6,397 578,379.3 610.9,246.1 579.6,414.4 595,289 616,242.7 604.6,285.3 569,450 581.2,408.8 615.3,250.4 557.3,462.4 619.3,219.1 567.8,472.5 598.2,307.4 570.9,446.8 621.3,226.8 592.4,355.9 592.2,357 614.7,244.6 593.2,345.7 605.8,231.8 557.8,455.1 578.1,371.5 538.6,556.7 564.4,454.9 587,383 595.8,322.5 623.1,172 602.9,256.2 618,215.6 562.8,434.3 562.8,447.4 620.7,230.1 570.1,423.8 570,443.5 600.7,289.2 617.5,226.1 592.6,325.2 619.7,249.3 598.3,293.8 637.4,193.8 600.9,304.5 593.7,340.8 621.9,186.9 583.4,405.2 598.7,300.6 614.9,239.7 567.6,454.9 609.8,263.5 604.2,301.2 605.9,268.9 595,324.4 612.7,228.1 620.9,176.7 602.9,267.7 585.4,369.6 589,322.6 590.4,301.3 586,366.7 619.1,219.7 613.6,259.2 563.7,463.8 570.2,422.9 595.1,330.5 584.7,356.6 608.6,258.3 606.5,230.9 568.3,406.1 588.9,330.5 572.3,421 578.7,415.8 614.7,226.6 627.7,196.8 620.4,237.3 604.3,303.4 597.6,325.8 599.1,257 600.1,277.3 585.8,345.3 546.2,522.1 569.8,435.6 613.3,263.2 611.1,212.4 608.4,227.7 625.5,179.9 609.4,238.7 567.2,425.1 602.8,252.9 592.9,286.5 578.9,394.5 586.1,314.9 591.9,287.6 588.5,345.2 621.1,202.6 574,407.6 618.1,209 612.6,263.6 615.4,252.1 574.7,370.1 565.8,450 607.7,250.8 584,350.2 590.7,350.4 594.2,306.4 542.2,539 585.6,359.8 564.7,443.3 613,249 573.5,391.4 536.5,563.8 567.4,415 625.2,174.2 573.9,429.1 571.8,450.8 595.5,340.3 601.3,293.3 585.1,412.4 620.9,199.9 538.4,553.4 605.7,264.5 583.6,393 583.3,357.7 566.6,427.8 610.7,280.9 583.9,373.8 587.6,304.5 543.8,533.9 560.6,469.9 582.8,364.4 578.6,357 584.4,318 581.4,393.4 608.3,250.9 602.8,246.8 607.4,287.9 606.5,220.6 574.8,367.2 593.6,325 578.6,392 541.8,537.4 596.2,316.1 572.1,379.2 600.2,314.7 613.7,285.5 580.5,360.9 605.7,282 578,356.4 586.6,344.6 602.9,309.4 595.6,342.6 613.2,265.8 566.7,425.9 580.8,338.4 596.5,321.5 600.8,256.7 606.8,271.7 577.2,390.7 555.4,467.7 579.8,384.6 580.7,368.8 561.8,468.7 579.3,357.4 600.7,280.2 600.1,271.9 575.7,390.9 567.1,407.8 583,324.2 587.4,364.2 614.3,274.3 613.6,205 573.2,404.9 631.9,215.7 619.9,217.5 575.8,425.9 581.6,346.9 606.9,275.4 612,249.1 569.3,427 616,212.5 571.3,453.6 562.9,457.6 586,340.5 594.5,292.6 617.6,221.9 572.4,446.9 559.8,449.7 575.4,421.7 564.3,467.6 622.8,218.8 566.5,446.1 584.4,346.3 615.7,224.1 609.2,272.1 560.3,459.7 581,393.2 589.2,336.1 619.7,206.6 589.4,362 570.4,451.1 599.4,307.4 568.6,425.6 612,271 607.3,249.9 578.9,358.9 582,376.1 566.4,461.3 572.8,420.8 570.1,441.5 614.9,255.4 579.2,364.5 592.7,318.6 587.7,380.7 596,329.2 574.3,417.2 537.5,559.1 617.8,238.2 561.4,456.6 572.3,370.6 586.8,382.6 577.2,390.5 600.2,269.5 564.1,429.4 575.6,391.3 574,420.7 606.9,267.4 605.5,235.7 581.1,355.7 619.1,223.8 611.3,265.4 577.9,407.2 604.9,287.2 547.1,513.7 606.2,241.4 565.4,433.4 559.5,444 601,247.3 606,229.5 605.7,235.6 599.5,299 570.3,394.1 594.5,281 621.5,192.8 592.2,295 565.2,440.4 614.5,255 582.6,385.1 570.6,416.8 618.8,208.4 626.7,202 613.7,233.8 598.3,281.7 581,397.4 559.9,483.4 591.9,288.6 563.4,456.7 591.8,311.5 575.8,390.5 620.3,212.8 582.7,343.9 585.4,382.6 570.9,439.7 574,403.3 594.8,317.6 592.5,341.2 582,401.7 569.3,445.4 608.1,263.9 603.4,299 613.4,211.8 581.6,342.1 614.8,235.9 628,178 611.3,238.2 572.7,440.2 568.5,427 571.8,402.2 612.5,252.6 587.5,370.2 543,533 568.3,404.8 578.4,383.1 606.7,283.2 567.6,446.4 623.3,210.3 599,330.4 590.4,353.4 573.6,428.3 562.2,448.9 603.6,284.5 588.4,317.7"/>
<polyline class="pt" points="591.5,296.2 602.7,298 617,203.7 571.3,433.4 601.1,314.6 599.1,265.4 562.1,441.6 607.5,291.3 588,339.5 538,559.3 611.2,234.6 559.5,474.7 581.3,362.6 588.7,372.5 542.6,537.3 596.3,312.5 576.4,405.8 588.9,346.2 619.8,230.1 590.4,330 569.9,442.2 592.9,329.6 574.9,446.2 568.9,396.6 589.9,319.8 621.2,213.7 571.9,384.7 622,189.9 589.8,329.8 544.7,526.4 557.1,453.5 596.2,276.4 587.4,369.8 604.5,239.5 606.1,243.9 605.9,284.5 611.3,221.1 594.7,317 602.8,302 588.9,341.9 584,327.8 602.7,284.8 573.1,390.5 547.4,519.5 602.3,308.6 565.6,409.7 574.8,430.9 581.6,349 578.6,340.4 615.2,240.8 606.3,211.8 567.3,414.2 576.3,381.2 604.5,230.8 580,395.1 584.4,374 580.5,345.7 580.9,371.2 591.7,333.6 608.5,224.1 610.6,261.8 560.5,442 611.7,208.7 614.2,226.5 606.5,321.5 593.3,312.2 596.6,304.7 569.8,447.2 564.5,466.9 605,252.9 598.8,312.3 558.1,466.9 590.9,309.5 615.6,217.5 601.1,282.4 558.6,449.2 591.5,324.4 602.8,273.7 583.9,329.3 584.5,364.9 610.4,263.5 612.9,249.3 540.6,546.8 577.3,395.9 617.1,193.2 580.6,367.4 580.1,406.6 608.2,254.8 617.1,234.7 575.4,381.9 608.5,245.6 622.5,219.2 606.9,296.7 573.9,458.4 576.3,395.8 535.1,570.4 585.3,330 579.6,380 583.2,393.7 565.7,441.9 591,309.5 569.6,453.6 598,288.4 616.6,247 572.1,417.8 582.5,394.6 590.2,332 540.2,547.9 603.3,292.5 603.2,284.9 569,442.8 576.5,429.8 564.6,419.3 582.5,377.6 613.1,250.5 609.5,271.9 625.9,184.6 621.7,222.4 582.1,391.8 603.5,275.8 619,234.9 574,428 593,300.2 540.3,549.5 579,409 576.2,403 619.9,183.1 627.3,218.2 593.7,340.2 587.1,336 587.4,332.8 576,369.9 619.6,201 605.6,297.4 616.6,198.8 610.9,203 620.4,210.1 595.3,324.4 579,383.2 616.8,207.5 609.2,287.1 570.5,402.2 575.7,367.7 583.5,349.4 578.6,404.6 565.1,468.3 593.9,323.7 539,557.4 536.3,562.6 581.2,392.6 576.4,357.6 572.3,446 609.4,308 571.7,396.4 559.9,454.4 616.4,212.7 603,280.4 612.7,247.8 568.4,402.5 587.1,389.3 574.4,411.5 578.8,390.3 597.1,331.3 612.3,247.7 616.4,255.6 585,408.1 580.8,422.5 607.1,258.1 580.4,388.1 566.6,459.6 628.9,196.5 586.4,386 562.1,438.9 616.3,202.9 591.9,359.8 604.7,220.8 585.5,339.5 564.6,418.7 606.6,234.4 578,402.9 587.8,355.3 572.9,397 540.8,545.8 565.1,430.6 597.2,301.3 555.6,457.6 585.4,395.5 602.8,283.2 595.7,283.8 610.7,243.3 634.9,230.1 576.7,366.3 615.8,222.8 560.6,445.1 578,399.5 600.2,298.2 627,195.9 593.6,346.9 608.5,268.3 565.3,453.4 612.9,228.9 574,433.7 599.5,255.8 573.4,431.8 598,295.6 570.2,452.1 603.2,272.9 616.8,219.1 589,361.8 601.4,256.5 592,305.1 577.5,413.5 589.8,338.6 604.2,302.1 612.5,266.7 593.9,339.9 607.4,252 539.9,550.6 569.8,428.6 622.1,233.8 557.4,457.9 556.4,462.2 608.8,236 606.4,282.5 585.4,367.6 612.1,213.6 601.1,252.8 616.6,204.2 616.3,215.1 578.3,412.8 604.6,292 588.1,340.8 621.1,169.7 590.4,303.7 590.1,348.1 603.9,274.8 607.2,282.2 570,389 570.7,430.1 594.4,294.6 614.8,252.6 574,419.3 590.9,299.3 534.7,566.3 586.5,367.3 563.1,455.9 600.8,309.9 563.2,464.3 597.8,297.3 561,463.4 610.6,255.7 599.8,302.9 544.3,531.5 575.7,394 567.2,436.9 584.6,332.7 612.8,268.4 560.6,456.7 591.6,351 596.9,266.3 601.8,303.7 583.9,355.6 572.8,417.7 599.8,300.9 566.8,475.4 590.4,350.9 619,236 588.6,328.7 583,370.7 562.5,467.3 593.5,320.4 586.7,386.9 547.6,520.9 588.1,346.2 585.7,385.5 608.1,253.3 596.5,274.6 612.9,249.5 580,399.9 570.3,406.3 591.7,287.5 581.6,382.2 590.9,361.6 612.8,261.3 582.8,362.5 593.9,295.5 593.7,331.2 587.1,363.1 564.3,481.7 593.9,319.1 583.8,406.1 590,299.6 613.2,220.9 600.1,295.7 571.7,399 585.3,365.3 612.9,213.5 597.5,334.6 568.6,434.3 557.6,453.3 608.3,233.6 595,338.9 574.5,424.1 626.1,198.4 569.2,414.7 602.5,289.6 592.8,345.2 561.5,436.9 608.8,215.2 608.3,270.7 561,465.7 562.2,426.8 569.4,427.5 570.6,417.5 614.2,256 574,418 608.1,243.8 592.3,318.9 540.2,546.6 610.1,235.2 572.2,429.6 577.1,369.3 601.1,242.5 603.9,240 575.8,387.7 564.2,467.9 569,413.3 608.9,270.4 571.8,386.4 582.4,396.1 572.3,402.8 577.4,386.2 576.1,366.7 561.5,434.4 611.3,233.1 628.1,188.6 591.7,308.6 620.7,202.5 538,558.8 582.7,350.2 566.7,427.9 606.8,284 600.5,261.2 575.2,408.4 568.7,447.2 609,238.2 595,316.1 600.9,269.9 572.3,439.6 571.6,421.6 589.5,349.8 564.7,470.7 563.5,453.2 599.7,253.2 572.9,409.9 593.1,346 603.4,269.1 597.9,286 540.8,545 569.7,455.2 596.5,263.1 556.1,475.1 619.1,200.3 617,223.6 581.8,348.3 568,459.1 615.8,274.7 600.2,274.6 599.6,314.5 617,211.1 563.3,460.2 582.7,360.3 556.5,466.1 587.5,334.8 608.1,267.7 580.4,380.6 604.5,276.2 581.5,363 591.4,355.3 596.1,333.1 600.6,333.7 593.9,325.6 609.3,222.3 603.4,226.8 596.5,265.9 576.5,418.2 579.8,378 611.1,225 615.1,241.6 622,203.5 575,381.1 605,271.1 545.1,526.3 604.6,303.2 572.9,421.7 601.1,314.5 571.7,408.9 579.4,422 570.6,407.8 589.4,374.7"/>
<polyline class="pt" points="565.6,450.7 621.9,240.1 585.3,372.6 557,457.5 592.9,290.4 593.7,289.5 593.8,305.3 621.1,189.1 582.5,338.9 574.1,415 543.7,536.2 603,318.2 588,326.7 603.9,231.5 617.8,223.8 579.9,384.7 598.1,260.3 584.3,346.4 581.4,363.8 598.3,317.2 562.7,463.6 622.5,215.8 608.1,266 596.9,292.9 541.1,543.5 540.2,547.1 572.4,394.3 588.7,342.6 572.5,434.5 590.9,361 595.4,325.2 604.6,236.4 566.5,426.1 611.2,280.4 580.2,380.2 599.8,262.7 577.9,357.9 580.3,404.8 583.3,342.8 561.2,437.2 586,321.2 590.4,343.6 583.2,386 567.2,455.5 608.5,264.2 592.8,311.1 614.1,224.9 615.3,225.9 563.5,454.5 562.8,450 621.3,301.2 594.7,316.8 582.8,328.3 570.7,406.8 568.8,442.4 569.9,412 609.7,271.5 619.5,226.2 573.2,381.9 576.4,392.9 580.7,411.6 600.4,265.2 576.8,422.8 609.2,273.1 609.3,232 591.9,313 613.8,212.4 551.8,484.9 557.3,450.7 567.1,440.8 537.6,559.6 616.2,233.7 571.1,391.7 602,328.8 612.9,242.9 620,248.2 579.1,398.7 610.6,258.7 613.8,216 594.4,306.3 601.2,288.8 577.9,406.5 565.2,451 584.8,343.9 578.8,391.7 603.4,277.7 556.3,472.5 576.1,405.2 621.1,218.5 582.6,351.8 539.2,552.6 600.7,307.5 588.3,302.9 543.3,530.1 596,312.9 574.7,435.2 612.2,231.6 575.9,374.4 599.3,263.8 538.8,558.6 592.5,283.5 592.2,288.8 570,444.9 607.9,281.2 582.4,368.4 595.1,299.3 607.7,293.2 580.4,349.3 588.1,320.6 569.6,426.7 575.1,376.8 583.8,331.7 597.6,262 605.7,278.4 562.6,452.6 582.1,378.1 595.6,281.6 593.8,289.1 589.3,363.8 598,321.7 609.3,260.3 584.4,386.6 589.7,304.5 620,230.6 604.5,271.9 571.9,438.3 579.2,401.5 584.6,385.9 593.5,355.4 560.4,448.5 600.7,275.1 586.6,320.3 582,376.3 613.7,254.1 590.7,338.8 578.8,372 633.6,175.6 578.5,375.4 614.7,246 562.3,460.9 611,262.4 599.3,307.8 612.6,229.7 579.2,385 610.7,208.6 631.3,208.5 632.9,215.9 634.8,220.6 639.5,223.4 636.7,226.4 633.6,227.6 629,217.1 627.8,230 638.8,179.7 642.5,184.4 638.8,190.2 636.7,193.7 624.3,241.6 622,261.5 622.7,281.4 678.8,22.4 622,312 611.9,316.7 596.3,375.8 591.1,406.9 648.3,126.4 640.3,128.5 644.9,129.1 628.9,131.3 649,139.9 632,137.8 634.7,140.2 629.8,143.3 641.8,144 632.9,145.2 634.7,147.7 623.6,153.3 626.7,152.6 635.7,152.3 639.1,157.3 631.6,157.6 623.6,160.7 618.6,162.8 639.9,163.2 624.8,163.2 629.8,163.8"/>
<line class="r" x1="529.91" y1="592.20" x2="665.04" y2="0.50"/>
<polyline class="b" points="534.7,570 550.3,500 567.9,420 587.1,340 607.2,260 628.2,180 650.6,100 677.6,0 679,-5"/>
</g>
<rect class="ax" x="529.2" y="0.5" width="155.3" height="591.7"/>
<text transform="translate(535.00 616.8) scale(0.9534 1)" text-anchor="middle">0e+00</text>
<text transform="translate(579.14 616.8) scale(0.9534 1)" text-anchor="middle">2e-04</text>
<text transform="translate(623.28 616.8) scale(0.9534 1)" text-anchor="middle">4e-04</text>
<text transform="translate(667.42 616.8) scale(0.9534 1)" text-anchor="middle">6e-04</text>
<text transform="translate(513.0 570.40) rotate(-90) scale(0.9534 1)" text-anchor="middle">0e+00</text>
<text transform="translate(513.0 473.76) rotate(-90) scale(0.9534 1)" text-anchor="middle">1e-04</text>
<text transform="translate(513.0 377.12) rotate(-90) scale(0.9534 1)" text-anchor="middle">2e-04</text>
<text transform="translate(513.0 280.48) rotate(-90) scale(0.9534 1)" text-anchor="middle">3e-04</text>
<text transform="translate(513.0 183.84) rotate(-90) scale(0.9534 1)" text-anchor="middle">4e-04</text>
<text transform="translate(513.0 87.20) rotate(-90) scale(0.9534 1)" text-anchor="middle">5e-04</text>
<path class="ax" d="M535.00 592.2 v6.4M557.07 592.2 v6.4M579.14 592.2 v6.4M601.21 592.2 v6.4M623.28 592.2 v6.4M645.35 592.2 v6.4M667.42 592.2 v6.4M529.2 569.90 h-6.8M529.2 473.26 h-6.8M529.2 376.62 h-6.8M529.2 279.98 h-6.8M529.2 183.34 h-6.8M529.2 86.70 h-6.8"/>
<text transform="translate(606.85 643.8) scale(0.9534 1)" text-anchor="middle">Primary Series (Obs / Exp)</text>
<text transform="translate(485.55 296.35) rotate(-90) scale(0.9534 1)" text-anchor="middle">Replicate Series (Obs / Exp)</text>
</g>
</svg></body></html>
